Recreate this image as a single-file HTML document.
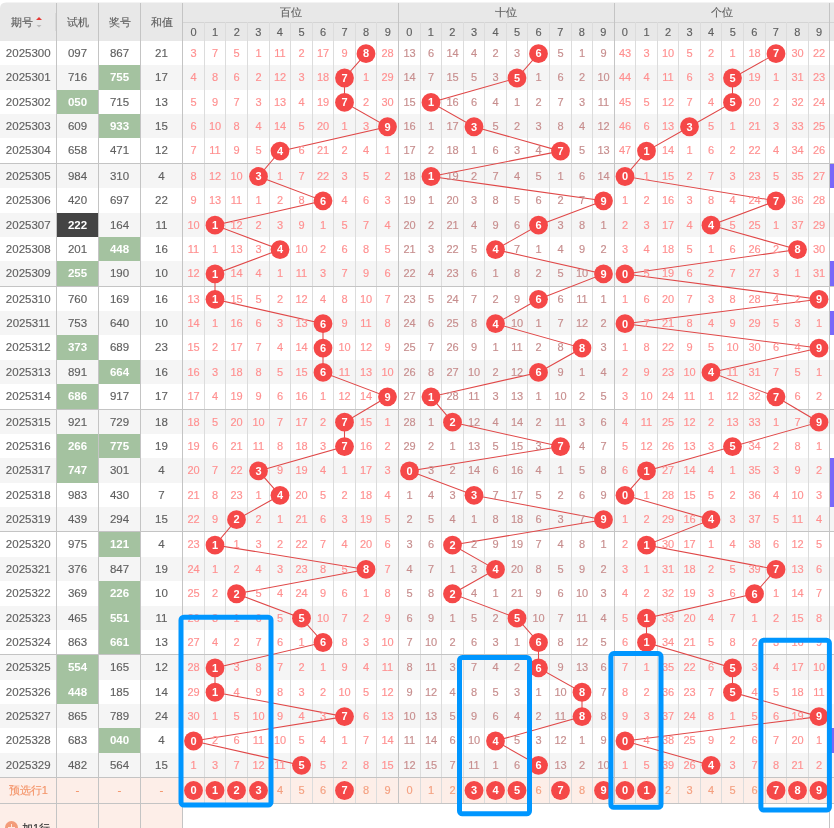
<!DOCTYPE html><html><head><meta charset="utf-8"><style>
html,body{margin:0;padding:0;background:#fff;width:834px;height:828px;overflow:hidden;}
body{position:relative;font-family:"Liberation Sans",sans-serif;}
.t{position:absolute;text-align:center;white-space:nowrap;}
#tx{position:absolute;left:0;top:0;width:834px;height:828px;will-change:transform;}
#tx .t{-webkit-text-stroke:0.15px currentColor;}
#tx .s{-webkit-text-stroke:0.25px currentColor;}
#tx .b{-webkit-text-stroke:0px;}
</style></head><body>
<svg width="834" height="828" style="position:absolute;left:0;top:0">
<path d="M0,8.5 Q0,2.5 6,2.5 L834,2.5 L834,41 L0,41 Z" fill="#e8e8e8"/>
<rect x="0" y="65" width="834" height="25" fill="#f5f5f5"/>
<rect x="0" y="114" width="834" height="24" fill="#f5f5f5"/>
<rect x="0" y="164" width="834" height="24" fill="#f5f5f5"/>
<rect x="0" y="213" width="834" height="24" fill="#f5f5f5"/>
<rect x="0" y="261" width="834" height="26" fill="#f5f5f5"/>
<rect x="0" y="311" width="834" height="24" fill="#f5f5f5"/>
<rect x="0" y="360" width="834" height="24" fill="#f5f5f5"/>
<rect x="0" y="410" width="834" height="24" fill="#f5f5f5"/>
<rect x="0" y="458" width="834" height="25" fill="#f5f5f5"/>
<rect x="0" y="507" width="834" height="25" fill="#f5f5f5"/>
<rect x="0" y="557" width="834" height="24" fill="#f5f5f5"/>
<rect x="0" y="606" width="834" height="24" fill="#f5f5f5"/>
<rect x="0" y="655" width="834" height="25" fill="#f5f5f5"/>
<rect x="0" y="704" width="834" height="24" fill="#f5f5f5"/>
<rect x="0" y="753" width="834" height="25" fill="#f5f5f5"/>
<rect x="0" y="778" width="834" height="25" fill="#fdeee8"/>
<rect x="0" y="803" width="182" height="25" fill="#fdeee8"/>
<rect x="99" y="65" width="41" height="25" fill="#a4c2a0"/>
<rect x="57" y="90" width="41" height="24" fill="#a4c2a0"/>
<rect x="99" y="114" width="41" height="24" fill="#a4c2a0"/>
<rect x="57" y="213" width="41" height="24" fill="#444444"/>
<rect x="99" y="237" width="41" height="24" fill="#a4c2a0"/>
<rect x="57" y="261" width="41" height="26" fill="#a4c2a0"/>
<rect x="57" y="335" width="41" height="25" fill="#a4c2a0"/>
<rect x="99" y="360" width="41" height="24" fill="#a4c2a0"/>
<rect x="57" y="384" width="41" height="26" fill="#a4c2a0"/>
<rect x="57" y="434" width="41" height="24" fill="#a4c2a0"/>
<rect x="99" y="434" width="41" height="24" fill="#a4c2a0"/>
<rect x="57" y="458" width="41" height="25" fill="#a4c2a0"/>
<rect x="99" y="532" width="41" height="25" fill="#a4c2a0"/>
<rect x="99" y="581" width="41" height="25" fill="#a4c2a0"/>
<rect x="99" y="606" width="41" height="24" fill="#a4c2a0"/>
<rect x="99" y="630" width="41" height="25" fill="#a4c2a0"/>
<rect x="57" y="655" width="41" height="25" fill="#a4c2a0"/>
<rect x="57" y="680" width="41" height="24" fill="#a4c2a0"/>
<rect x="99" y="728" width="41" height="25" fill="#a4c2a0"/>
<rect x="830" y="164" width="4" height="24" fill="#7868fa"/>
<rect x="830" y="261" width="4" height="26" fill="#7868fa"/>
<rect x="830" y="311" width="4" height="24" fill="#7868fa"/>
<rect x="830" y="458" width="4" height="25" fill="#7868fa"/>
<rect x="830" y="483" width="4" height="24" fill="#7868fa"/>
<rect x="830" y="728" width="4" height="25" fill="#7868fa"/>
<rect x="182" y="22" width="652" height="1" fill="#d4d4d4"/>
<rect x="55" y="13" width="1" height="18" fill="#dadada"/>
<rect x="204" y="22" width="1" height="781" fill="#dcdcdc"/>
<rect x="225" y="22" width="1" height="781" fill="#dcdcdc"/>
<rect x="247" y="22" width="1" height="781" fill="#dcdcdc"/>
<rect x="269" y="22" width="1" height="781" fill="#dcdcdc"/>
<rect x="290" y="22" width="1" height="781" fill="#dcdcdc"/>
<rect x="312" y="22" width="1" height="781" fill="#dcdcdc"/>
<rect x="333" y="22" width="1" height="781" fill="#dcdcdc"/>
<rect x="355" y="22" width="1" height="781" fill="#dcdcdc"/>
<rect x="376" y="22" width="1" height="781" fill="#dcdcdc"/>
<rect x="398" y="3" width="1" height="800" fill="#c4c4c4"/>
<rect x="420" y="22" width="1" height="781" fill="#dcdcdc"/>
<rect x="441" y="22" width="1" height="781" fill="#dcdcdc"/>
<rect x="463" y="22" width="1" height="781" fill="#dcdcdc"/>
<rect x="484" y="22" width="1" height="781" fill="#dcdcdc"/>
<rect x="506" y="22" width="1" height="781" fill="#dcdcdc"/>
<rect x="527" y="22" width="1" height="781" fill="#dcdcdc"/>
<rect x="549" y="22" width="1" height="781" fill="#dcdcdc"/>
<rect x="571" y="22" width="1" height="781" fill="#dcdcdc"/>
<rect x="592" y="22" width="1" height="781" fill="#dcdcdc"/>
<rect x="614" y="3" width="1" height="800" fill="#c4c4c4"/>
<rect x="635" y="22" width="1" height="781" fill="#dcdcdc"/>
<rect x="657" y="22" width="1" height="781" fill="#dcdcdc"/>
<rect x="678" y="22" width="1" height="781" fill="#dcdcdc"/>
<rect x="700" y="22" width="1" height="781" fill="#dcdcdc"/>
<rect x="721" y="22" width="1" height="781" fill="#dcdcdc"/>
<rect x="743" y="22" width="1" height="781" fill="#dcdcdc"/>
<rect x="765" y="22" width="1" height="781" fill="#dcdcdc"/>
<rect x="786" y="22" width="1" height="781" fill="#dcdcdc"/>
<rect x="808" y="22" width="1" height="781" fill="#dcdcdc"/>
<rect x="829" y="3" width="1" height="800" fill="#c4c4c4"/>
<rect x="56" y="3" width="1" height="825" fill="#c4c4c4"/>
<rect x="98" y="3" width="1" height="825" fill="#c4c4c4"/>
<rect x="140" y="3" width="1" height="825" fill="#c4c4c4"/>
<rect x="182" y="3" width="1" height="825" fill="#c4c4c4"/>
<rect x="0" y="163" width="834" height="1" fill="#c4c4c4"/>
<rect x="0" y="286" width="834" height="1" fill="#c4c4c4"/>
<rect x="0" y="409" width="834" height="1" fill="#c4c4c4"/>
<rect x="0" y="531" width="834" height="1" fill="#c4c4c4"/>
<rect x="0" y="654" width="834" height="1" fill="#c4c4c4"/>
<rect x="0" y="777" width="834" height="1" fill="#c4c4c4"/>
<rect x="0" y="803" width="834" height="1" fill="#c4c4c4"/>
<rect x="829" y="803" width="1" height="25" fill="#c4c4c4"/>
<polyline points="366.00,53.64 344.50,78.01 344.50,102.38 387.50,126.75 280.00,151.12 258.50,176.49 323.00,200.85 215.00,225.22 280.00,249.59 215.00,273.97 215.00,299.34 323.00,323.70 323.00,348.07 323.00,372.44 387.50,396.81 344.50,422.19 344.50,446.56 258.50,470.93 280.00,495.30 236.50,519.67 215.00,545.04 366.00,569.40 236.50,593.77 301.50,618.14 323.00,642.51 215.00,667.88 215.00,692.25 344.50,716.62 193.50,741.00 301.50,765.37" fill="none" stroke="#e04848" stroke-width="1.05"/>
<polyline points="538.50,53.64 517.00,78.01 431.00,102.38 474.00,126.75 560.50,151.12 431.00,176.49 603.50,200.85 538.50,225.22 495.50,249.59 603.50,273.97 538.50,299.34 495.50,323.70 582.00,348.07 538.50,372.44 431.00,396.81 452.50,422.19 560.50,446.56 409.50,470.93 474.00,495.30 603.50,519.67 452.50,545.04 495.50,569.40 452.50,593.77 517.00,618.14 538.50,642.51 538.50,667.88 582.00,692.25 582.00,716.62 495.50,741.00 538.50,765.37" fill="none" stroke="#e04848" stroke-width="1.05"/>
<polyline points="776.00,53.64 732.50,78.01 732.50,102.38 689.50,126.75 646.50,151.12 625.00,176.49 776.00,200.85 711.00,225.22 797.50,249.59 625.00,273.97 819.00,299.34 625.00,323.70 819.00,348.07 711.00,372.44 776.00,396.81 819.00,422.19 732.50,446.56 646.50,470.93 625.00,495.30 711.00,519.67 646.50,545.04 776.00,569.40 754.50,593.77 646.50,618.14 646.50,642.51 732.50,667.88 732.50,692.25 819.00,716.62 625.00,741.00 711.00,765.37" fill="none" stroke="#e04848" stroke-width="1.05"/>
<circle cx="366.00" cy="53.64" r="9.4" fill="#f54848"/>
<circle cx="538.50" cy="53.64" r="9.4" fill="#f54848"/>
<circle cx="776.00" cy="53.64" r="9.4" fill="#f54848"/>
<circle cx="344.50" cy="78.01" r="9.4" fill="#f54848"/>
<circle cx="517.00" cy="78.01" r="9.4" fill="#f54848"/>
<circle cx="732.50" cy="78.01" r="9.4" fill="#f54848"/>
<circle cx="344.50" cy="102.38" r="9.4" fill="#f54848"/>
<circle cx="431.00" cy="102.38" r="9.4" fill="#f54848"/>
<circle cx="732.50" cy="102.38" r="9.4" fill="#f54848"/>
<circle cx="387.50" cy="126.75" r="9.4" fill="#f54848"/>
<circle cx="474.00" cy="126.75" r="9.4" fill="#f54848"/>
<circle cx="689.50" cy="126.75" r="9.4" fill="#f54848"/>
<circle cx="280.00" cy="151.12" r="9.4" fill="#f54848"/>
<circle cx="560.50" cy="151.12" r="9.4" fill="#f54848"/>
<circle cx="646.50" cy="151.12" r="9.4" fill="#f54848"/>
<circle cx="258.50" cy="176.49" r="9.4" fill="#f54848"/>
<circle cx="431.00" cy="176.49" r="9.4" fill="#f54848"/>
<circle cx="625.00" cy="176.49" r="9.4" fill="#f54848"/>
<circle cx="323.00" cy="200.85" r="9.4" fill="#f54848"/>
<circle cx="603.50" cy="200.85" r="9.4" fill="#f54848"/>
<circle cx="776.00" cy="200.85" r="9.4" fill="#f54848"/>
<circle cx="215.00" cy="225.22" r="9.4" fill="#f54848"/>
<circle cx="538.50" cy="225.22" r="9.4" fill="#f54848"/>
<circle cx="711.00" cy="225.22" r="9.4" fill="#f54848"/>
<circle cx="280.00" cy="249.59" r="9.4" fill="#f54848"/>
<circle cx="495.50" cy="249.59" r="9.4" fill="#f54848"/>
<circle cx="797.50" cy="249.59" r="9.4" fill="#f54848"/>
<circle cx="215.00" cy="273.97" r="9.4" fill="#f54848"/>
<circle cx="603.50" cy="273.97" r="9.4" fill="#f54848"/>
<circle cx="625.00" cy="273.97" r="9.4" fill="#f54848"/>
<circle cx="215.00" cy="299.34" r="9.4" fill="#f54848"/>
<circle cx="538.50" cy="299.34" r="9.4" fill="#f54848"/>
<circle cx="819.00" cy="299.34" r="9.4" fill="#f54848"/>
<circle cx="323.00" cy="323.70" r="9.4" fill="#f54848"/>
<circle cx="495.50" cy="323.70" r="9.4" fill="#f54848"/>
<circle cx="625.00" cy="323.70" r="9.4" fill="#f54848"/>
<circle cx="323.00" cy="348.07" r="9.4" fill="#f54848"/>
<circle cx="582.00" cy="348.07" r="9.4" fill="#f54848"/>
<circle cx="819.00" cy="348.07" r="9.4" fill="#f54848"/>
<circle cx="323.00" cy="372.44" r="9.4" fill="#f54848"/>
<circle cx="538.50" cy="372.44" r="9.4" fill="#f54848"/>
<circle cx="711.00" cy="372.44" r="9.4" fill="#f54848"/>
<circle cx="387.50" cy="396.81" r="9.4" fill="#f54848"/>
<circle cx="431.00" cy="396.81" r="9.4" fill="#f54848"/>
<circle cx="776.00" cy="396.81" r="9.4" fill="#f54848"/>
<circle cx="344.50" cy="422.19" r="9.4" fill="#f54848"/>
<circle cx="452.50" cy="422.19" r="9.4" fill="#f54848"/>
<circle cx="819.00" cy="422.19" r="9.4" fill="#f54848"/>
<circle cx="344.50" cy="446.56" r="9.4" fill="#f54848"/>
<circle cx="560.50" cy="446.56" r="9.4" fill="#f54848"/>
<circle cx="732.50" cy="446.56" r="9.4" fill="#f54848"/>
<circle cx="258.50" cy="470.93" r="9.4" fill="#f54848"/>
<circle cx="409.50" cy="470.93" r="9.4" fill="#f54848"/>
<circle cx="646.50" cy="470.93" r="9.4" fill="#f54848"/>
<circle cx="280.00" cy="495.30" r="9.4" fill="#f54848"/>
<circle cx="474.00" cy="495.30" r="9.4" fill="#f54848"/>
<circle cx="625.00" cy="495.30" r="9.4" fill="#f54848"/>
<circle cx="236.50" cy="519.67" r="9.4" fill="#f54848"/>
<circle cx="603.50" cy="519.67" r="9.4" fill="#f54848"/>
<circle cx="711.00" cy="519.67" r="9.4" fill="#f54848"/>
<circle cx="215.00" cy="545.04" r="9.4" fill="#f54848"/>
<circle cx="452.50" cy="545.04" r="9.4" fill="#f54848"/>
<circle cx="646.50" cy="545.04" r="9.4" fill="#f54848"/>
<circle cx="366.00" cy="569.40" r="9.4" fill="#f54848"/>
<circle cx="495.50" cy="569.40" r="9.4" fill="#f54848"/>
<circle cx="776.00" cy="569.40" r="9.4" fill="#f54848"/>
<circle cx="236.50" cy="593.77" r="9.4" fill="#f54848"/>
<circle cx="452.50" cy="593.77" r="9.4" fill="#f54848"/>
<circle cx="754.50" cy="593.77" r="9.4" fill="#f54848"/>
<circle cx="301.50" cy="618.14" r="9.4" fill="#f54848"/>
<circle cx="517.00" cy="618.14" r="9.4" fill="#f54848"/>
<circle cx="646.50" cy="618.14" r="9.4" fill="#f54848"/>
<circle cx="323.00" cy="642.51" r="9.4" fill="#f54848"/>
<circle cx="538.50" cy="642.51" r="9.4" fill="#f54848"/>
<circle cx="646.50" cy="642.51" r="9.4" fill="#f54848"/>
<circle cx="215.00" cy="667.88" r="9.4" fill="#f54848"/>
<circle cx="538.50" cy="667.88" r="9.4" fill="#f54848"/>
<circle cx="732.50" cy="667.88" r="9.4" fill="#f54848"/>
<circle cx="215.00" cy="692.25" r="9.4" fill="#f54848"/>
<circle cx="582.00" cy="692.25" r="9.4" fill="#f54848"/>
<circle cx="732.50" cy="692.25" r="9.4" fill="#f54848"/>
<circle cx="344.50" cy="716.62" r="9.4" fill="#f54848"/>
<circle cx="582.00" cy="716.62" r="9.4" fill="#f54848"/>
<circle cx="819.00" cy="716.62" r="9.4" fill="#f54848"/>
<circle cx="193.50" cy="741.00" r="9.4" fill="#f54848"/>
<circle cx="495.50" cy="741.00" r="9.4" fill="#f54848"/>
<circle cx="625.00" cy="741.00" r="9.4" fill="#f54848"/>
<circle cx="301.50" cy="765.37" r="9.4" fill="#f54848"/>
<circle cx="538.50" cy="765.37" r="9.4" fill="#f54848"/>
<circle cx="711.00" cy="765.37" r="9.4" fill="#f54848"/>
<circle cx="193.50" cy="790.50" r="9.4" fill="#f54848"/>
<circle cx="215.00" cy="790.50" r="9.4" fill="#f54848"/>
<circle cx="236.50" cy="790.50" r="9.4" fill="#f54848"/>
<circle cx="258.50" cy="790.50" r="9.4" fill="#f54848"/>
<circle cx="344.50" cy="790.50" r="9.4" fill="#f54848"/>
<circle cx="474.00" cy="790.50" r="9.4" fill="#f54848"/>
<circle cx="495.50" cy="790.50" r="9.4" fill="#f54848"/>
<circle cx="517.00" cy="790.50" r="9.4" fill="#f54848"/>
<circle cx="560.50" cy="790.50" r="9.4" fill="#f54848"/>
<circle cx="603.50" cy="790.50" r="9.4" fill="#f54848"/>
<circle cx="625.00" cy="790.50" r="9.4" fill="#f54848"/>
<circle cx="646.50" cy="790.50" r="9.4" fill="#f54848"/>
<circle cx="776.00" cy="790.50" r="9.4" fill="#f54848"/>
<circle cx="797.50" cy="790.50" r="9.4" fill="#f54848"/>
<circle cx="819.00" cy="790.50" r="9.4" fill="#f54848"/>
</svg>
<div id="tx">
<div class="t" style="left:11.00px;top:2.50px;width:24.00px;height:38.50px;line-height:38.50px;font-size:11px;color:#606060;font-weight:normal;text-align:left;">期号</div>
<div class="t" style="left:56.50px;top:2.50px;width:42.00px;height:38.50px;line-height:38.50px;font-size:11px;color:#606060;font-weight:normal;">试机</div>
<div class="t" style="left:98.50px;top:2.50px;width:42.00px;height:38.50px;line-height:38.50px;font-size:11px;color:#606060;font-weight:normal;">奖号</div>
<div class="t" style="left:140.50px;top:2.50px;width:42.00px;height:38.50px;line-height:38.50px;font-size:11px;color:#606060;font-weight:normal;">和值</div>
<div class="t" style="left:182.83px;top:2.50px;width:215.65px;height:19.50px;line-height:19.50px;font-size:11px;color:#606060;font-weight:normal;">百位</div>
<div class="t" style="left:182.83px;top:23.00px;width:21.57px;height:19.00px;line-height:19.00px;font-size:11px;color:#606060;font-weight:normal;">0</div>
<div class="t" style="left:204.40px;top:23.00px;width:21.57px;height:19.00px;line-height:19.00px;font-size:11px;color:#606060;font-weight:normal;">1</div>
<div class="t" style="left:225.96px;top:23.00px;width:21.57px;height:19.00px;line-height:19.00px;font-size:11px;color:#606060;font-weight:normal;">2</div>
<div class="t" style="left:247.53px;top:23.00px;width:21.57px;height:19.00px;line-height:19.00px;font-size:11px;color:#606060;font-weight:normal;">3</div>
<div class="t" style="left:269.09px;top:23.00px;width:21.57px;height:19.00px;line-height:19.00px;font-size:11px;color:#606060;font-weight:normal;">4</div>
<div class="t" style="left:290.66px;top:23.00px;width:21.57px;height:19.00px;line-height:19.00px;font-size:11px;color:#606060;font-weight:normal;">5</div>
<div class="t" style="left:312.22px;top:23.00px;width:21.57px;height:19.00px;line-height:19.00px;font-size:11px;color:#606060;font-weight:normal;">6</div>
<div class="t" style="left:333.79px;top:23.00px;width:21.57px;height:19.00px;line-height:19.00px;font-size:11px;color:#606060;font-weight:normal;">7</div>
<div class="t" style="left:355.35px;top:23.00px;width:21.57px;height:19.00px;line-height:19.00px;font-size:11px;color:#606060;font-weight:normal;">8</div>
<div class="t" style="left:376.92px;top:23.00px;width:21.57px;height:19.00px;line-height:19.00px;font-size:11px;color:#606060;font-weight:normal;">9</div>
<div class="t" style="left:398.48px;top:2.50px;width:215.65px;height:19.50px;line-height:19.50px;font-size:11px;color:#606060;font-weight:normal;">十位</div>
<div class="t" style="left:398.48px;top:23.00px;width:21.57px;height:19.00px;line-height:19.00px;font-size:11px;color:#606060;font-weight:normal;">0</div>
<div class="t" style="left:420.05px;top:23.00px;width:21.57px;height:19.00px;line-height:19.00px;font-size:11px;color:#606060;font-weight:normal;">1</div>
<div class="t" style="left:441.61px;top:23.00px;width:21.57px;height:19.00px;line-height:19.00px;font-size:11px;color:#606060;font-weight:normal;">2</div>
<div class="t" style="left:463.18px;top:23.00px;width:21.57px;height:19.00px;line-height:19.00px;font-size:11px;color:#606060;font-weight:normal;">3</div>
<div class="t" style="left:484.74px;top:23.00px;width:21.57px;height:19.00px;line-height:19.00px;font-size:11px;color:#606060;font-weight:normal;">4</div>
<div class="t" style="left:506.31px;top:23.00px;width:21.57px;height:19.00px;line-height:19.00px;font-size:11px;color:#606060;font-weight:normal;">5</div>
<div class="t" style="left:527.87px;top:23.00px;width:21.57px;height:19.00px;line-height:19.00px;font-size:11px;color:#606060;font-weight:normal;">6</div>
<div class="t" style="left:549.44px;top:23.00px;width:21.57px;height:19.00px;line-height:19.00px;font-size:11px;color:#606060;font-weight:normal;">7</div>
<div class="t" style="left:571.00px;top:23.00px;width:21.57px;height:19.00px;line-height:19.00px;font-size:11px;color:#606060;font-weight:normal;">8</div>
<div class="t" style="left:592.57px;top:23.00px;width:21.57px;height:19.00px;line-height:19.00px;font-size:11px;color:#606060;font-weight:normal;">9</div>
<div class="t" style="left:614.13px;top:2.50px;width:215.65px;height:19.50px;line-height:19.50px;font-size:11px;color:#606060;font-weight:normal;">个位</div>
<div class="t" style="left:614.13px;top:23.00px;width:21.57px;height:19.00px;line-height:19.00px;font-size:11px;color:#606060;font-weight:normal;">0</div>
<div class="t" style="left:635.70px;top:23.00px;width:21.57px;height:19.00px;line-height:19.00px;font-size:11px;color:#606060;font-weight:normal;">1</div>
<div class="t" style="left:657.26px;top:23.00px;width:21.57px;height:19.00px;line-height:19.00px;font-size:11px;color:#606060;font-weight:normal;">2</div>
<div class="t" style="left:678.83px;top:23.00px;width:21.57px;height:19.00px;line-height:19.00px;font-size:11px;color:#606060;font-weight:normal;">3</div>
<div class="t" style="left:700.39px;top:23.00px;width:21.57px;height:19.00px;line-height:19.00px;font-size:11px;color:#606060;font-weight:normal;">4</div>
<div class="t" style="left:721.96px;top:23.00px;width:21.57px;height:19.00px;line-height:19.00px;font-size:11px;color:#606060;font-weight:normal;">5</div>
<div class="t" style="left:743.52px;top:23.00px;width:21.57px;height:19.00px;line-height:19.00px;font-size:11px;color:#606060;font-weight:normal;">6</div>
<div class="t" style="left:765.09px;top:23.00px;width:21.57px;height:19.00px;line-height:19.00px;font-size:11px;color:#606060;font-weight:normal;">7</div>
<div class="t" style="left:786.65px;top:23.00px;width:21.57px;height:19.00px;line-height:19.00px;font-size:11px;color:#606060;font-weight:normal;">8</div>
<div class="t" style="left:808.22px;top:23.00px;width:21.57px;height:19.00px;line-height:19.00px;font-size:11px;color:#606060;font-weight:normal;">9</div>
<svg width="10" height="14" style="position:absolute;left:34.5px;top:16px"><path d="M1,4 L4,1 L7,4 Z" fill="#e53935"/><path d="M1.5,9 L4,11.5 L6.5,9 Z" fill="#bbb"/></svg>
<div class="t" style="left:0.00px;top:41.00px;width:56.50px;height:24.37px;line-height:24.37px;font-size:11.5px;color:#606060;font-weight:normal;">2025300</div>
<div class="t" style="left:56.50px;top:41.00px;width:42.00px;height:24.37px;line-height:24.37px;font-size:11.5px;color:#606060;font-weight:normal;">097</div>
<div class="t" style="left:98.50px;top:41.00px;width:42.00px;height:24.37px;line-height:24.37px;font-size:11.5px;color:#606060;font-weight:normal;">867</div>
<div class="t" style="left:140.50px;top:41.00px;width:42.00px;height:24.37px;line-height:24.37px;font-size:11.5px;color:#606060;font-weight:normal;">21</div>
<div class="t" style="left:183.00px;top:41.00px;width:21.00px;height:24.37px;line-height:24.37px;font-size:11px;color:#ff9090;font-weight:normal;">3</div>
<div class="t" style="left:205.00px;top:41.00px;width:20.00px;height:24.37px;line-height:24.37px;font-size:11px;color:#ff9090;font-weight:normal;">7</div>
<div class="t" style="left:226.00px;top:41.00px;width:21.00px;height:24.37px;line-height:24.37px;font-size:11px;color:#ff9090;font-weight:normal;">5</div>
<div class="t" style="left:248.00px;top:41.00px;width:21.00px;height:24.37px;line-height:24.37px;font-size:11px;color:#ff9090;font-weight:normal;">1</div>
<div class="t" style="left:270.00px;top:41.00px;width:20.00px;height:24.37px;line-height:24.37px;font-size:11px;color:#ff9090;font-weight:normal;">11</div>
<div class="t" style="left:291.00px;top:41.00px;width:21.00px;height:24.37px;line-height:24.37px;font-size:11px;color:#ff9090;font-weight:normal;">2</div>
<div class="t" style="left:313.00px;top:41.00px;width:20.00px;height:24.37px;line-height:24.37px;font-size:11px;color:#ff9090;font-weight:normal;">17</div>
<div class="t" style="left:334.00px;top:41.00px;width:21.00px;height:24.37px;line-height:24.37px;font-size:11px;color:#ff9090;font-weight:normal;">9</div>
<div class="t b" style="left:356.00px;top:41.45px;width:20.00px;height:24.37px;line-height:24.37px;font-size:11px;color:#fff;font-weight:bold;">8</div>
<div class="t" style="left:377.00px;top:41.00px;width:21.00px;height:24.37px;line-height:24.37px;font-size:11px;color:#ff9090;font-weight:normal;">28</div>
<div class="t" style="left:399.00px;top:41.00px;width:21.00px;height:24.37px;line-height:24.37px;font-size:11px;color:#c78e8e;font-weight:normal;">13</div>
<div class="t" style="left:421.00px;top:41.00px;width:20.00px;height:24.37px;line-height:24.37px;font-size:11px;color:#c78e8e;font-weight:normal;">6</div>
<div class="t" style="left:442.00px;top:41.00px;width:21.00px;height:24.37px;line-height:24.37px;font-size:11px;color:#c78e8e;font-weight:normal;">14</div>
<div class="t" style="left:464.00px;top:41.00px;width:20.00px;height:24.37px;line-height:24.37px;font-size:11px;color:#c78e8e;font-weight:normal;">4</div>
<div class="t" style="left:485.00px;top:41.00px;width:21.00px;height:24.37px;line-height:24.37px;font-size:11px;color:#c78e8e;font-weight:normal;">2</div>
<div class="t" style="left:507.00px;top:41.00px;width:20.00px;height:24.37px;line-height:24.37px;font-size:11px;color:#c78e8e;font-weight:normal;">3</div>
<div class="t b" style="left:528.00px;top:41.45px;width:21.00px;height:24.37px;line-height:24.37px;font-size:11px;color:#fff;font-weight:bold;">6</div>
<div class="t" style="left:550.00px;top:41.00px;width:21.00px;height:24.37px;line-height:24.37px;font-size:11px;color:#c78e8e;font-weight:normal;">5</div>
<div class="t" style="left:572.00px;top:41.00px;width:20.00px;height:24.37px;line-height:24.37px;font-size:11px;color:#c78e8e;font-weight:normal;">1</div>
<div class="t" style="left:593.00px;top:41.00px;width:21.00px;height:24.37px;line-height:24.37px;font-size:11px;color:#c78e8e;font-weight:normal;">9</div>
<div class="t" style="left:615.00px;top:41.00px;width:20.00px;height:24.37px;line-height:24.37px;font-size:11px;color:#ff9090;font-weight:normal;">43</div>
<div class="t" style="left:636.00px;top:41.00px;width:21.00px;height:24.37px;line-height:24.37px;font-size:11px;color:#ff9090;font-weight:normal;">3</div>
<div class="t" style="left:658.00px;top:41.00px;width:20.00px;height:24.37px;line-height:24.37px;font-size:11px;color:#ff9090;font-weight:normal;">10</div>
<div class="t" style="left:679.00px;top:41.00px;width:21.00px;height:24.37px;line-height:24.37px;font-size:11px;color:#ff9090;font-weight:normal;">5</div>
<div class="t" style="left:701.00px;top:41.00px;width:20.00px;height:24.37px;line-height:24.37px;font-size:11px;color:#ff9090;font-weight:normal;">2</div>
<div class="t" style="left:722.00px;top:41.00px;width:21.00px;height:24.37px;line-height:24.37px;font-size:11px;color:#ff9090;font-weight:normal;">1</div>
<div class="t" style="left:744.00px;top:41.00px;width:21.00px;height:24.37px;line-height:24.37px;font-size:11px;color:#ff9090;font-weight:normal;">18</div>
<div class="t b" style="left:766.00px;top:41.45px;width:20.00px;height:24.37px;line-height:24.37px;font-size:11px;color:#fff;font-weight:bold;">7</div>
<div class="t" style="left:787.00px;top:41.00px;width:21.00px;height:24.37px;line-height:24.37px;font-size:11px;color:#ff9090;font-weight:normal;">30</div>
<div class="t" style="left:809.00px;top:41.00px;width:20.00px;height:24.37px;line-height:24.37px;font-size:11px;color:#ff9090;font-weight:normal;">22</div>
<div class="t" style="left:0.00px;top:65.37px;width:56.50px;height:24.37px;line-height:24.37px;font-size:11.5px;color:#606060;font-weight:normal;">2025301</div>
<div class="t" style="left:56.50px;top:65.37px;width:42.00px;height:24.37px;line-height:24.37px;font-size:11.5px;color:#606060;font-weight:normal;">716</div>
<div class="t b" style="left:98.50px;top:65.37px;width:42.00px;height:24.37px;line-height:24.37px;font-size:11.5px;color:#fff;font-weight:bold;">755</div>
<div class="t" style="left:140.50px;top:65.37px;width:42.00px;height:24.37px;line-height:24.37px;font-size:11.5px;color:#606060;font-weight:normal;">17</div>
<div class="t" style="left:183.00px;top:65.37px;width:21.00px;height:24.37px;line-height:24.37px;font-size:11px;color:#ff9090;font-weight:normal;">4</div>
<div class="t" style="left:205.00px;top:65.37px;width:20.00px;height:24.37px;line-height:24.37px;font-size:11px;color:#ff9090;font-weight:normal;">8</div>
<div class="t" style="left:226.00px;top:65.37px;width:21.00px;height:24.37px;line-height:24.37px;font-size:11px;color:#ff9090;font-weight:normal;">6</div>
<div class="t" style="left:248.00px;top:65.37px;width:21.00px;height:24.37px;line-height:24.37px;font-size:11px;color:#ff9090;font-weight:normal;">2</div>
<div class="t" style="left:270.00px;top:65.37px;width:20.00px;height:24.37px;line-height:24.37px;font-size:11px;color:#ff9090;font-weight:normal;">12</div>
<div class="t" style="left:291.00px;top:65.37px;width:21.00px;height:24.37px;line-height:24.37px;font-size:11px;color:#ff9090;font-weight:normal;">3</div>
<div class="t" style="left:313.00px;top:65.37px;width:20.00px;height:24.37px;line-height:24.37px;font-size:11px;color:#ff9090;font-weight:normal;">18</div>
<div class="t b" style="left:334.00px;top:65.82px;width:21.00px;height:24.37px;line-height:24.37px;font-size:11px;color:#fff;font-weight:bold;">7</div>
<div class="t" style="left:356.00px;top:65.37px;width:20.00px;height:24.37px;line-height:24.37px;font-size:11px;color:#ff9090;font-weight:normal;">1</div>
<div class="t" style="left:377.00px;top:65.37px;width:21.00px;height:24.37px;line-height:24.37px;font-size:11px;color:#ff9090;font-weight:normal;">29</div>
<div class="t" style="left:399.00px;top:65.37px;width:21.00px;height:24.37px;line-height:24.37px;font-size:11px;color:#c78e8e;font-weight:normal;">14</div>
<div class="t" style="left:421.00px;top:65.37px;width:20.00px;height:24.37px;line-height:24.37px;font-size:11px;color:#c78e8e;font-weight:normal;">7</div>
<div class="t" style="left:442.00px;top:65.37px;width:21.00px;height:24.37px;line-height:24.37px;font-size:11px;color:#c78e8e;font-weight:normal;">15</div>
<div class="t" style="left:464.00px;top:65.37px;width:20.00px;height:24.37px;line-height:24.37px;font-size:11px;color:#c78e8e;font-weight:normal;">5</div>
<div class="t" style="left:485.00px;top:65.37px;width:21.00px;height:24.37px;line-height:24.37px;font-size:11px;color:#c78e8e;font-weight:normal;">3</div>
<div class="t b" style="left:507.00px;top:65.82px;width:20.00px;height:24.37px;line-height:24.37px;font-size:11px;color:#fff;font-weight:bold;">5</div>
<div class="t" style="left:528.00px;top:65.37px;width:21.00px;height:24.37px;line-height:24.37px;font-size:11px;color:#c78e8e;font-weight:normal;">1</div>
<div class="t" style="left:550.00px;top:65.37px;width:21.00px;height:24.37px;line-height:24.37px;font-size:11px;color:#c78e8e;font-weight:normal;">6</div>
<div class="t" style="left:572.00px;top:65.37px;width:20.00px;height:24.37px;line-height:24.37px;font-size:11px;color:#c78e8e;font-weight:normal;">2</div>
<div class="t" style="left:593.00px;top:65.37px;width:21.00px;height:24.37px;line-height:24.37px;font-size:11px;color:#c78e8e;font-weight:normal;">10</div>
<div class="t" style="left:615.00px;top:65.37px;width:20.00px;height:24.37px;line-height:24.37px;font-size:11px;color:#ff9090;font-weight:normal;">44</div>
<div class="t" style="left:636.00px;top:65.37px;width:21.00px;height:24.37px;line-height:24.37px;font-size:11px;color:#ff9090;font-weight:normal;">4</div>
<div class="t" style="left:658.00px;top:65.37px;width:20.00px;height:24.37px;line-height:24.37px;font-size:11px;color:#ff9090;font-weight:normal;">11</div>
<div class="t" style="left:679.00px;top:65.37px;width:21.00px;height:24.37px;line-height:24.37px;font-size:11px;color:#ff9090;font-weight:normal;">6</div>
<div class="t" style="left:701.00px;top:65.37px;width:20.00px;height:24.37px;line-height:24.37px;font-size:11px;color:#ff9090;font-weight:normal;">3</div>
<div class="t b" style="left:722.00px;top:65.82px;width:21.00px;height:24.37px;line-height:24.37px;font-size:11px;color:#fff;font-weight:bold;">5</div>
<div class="t" style="left:744.00px;top:65.37px;width:21.00px;height:24.37px;line-height:24.37px;font-size:11px;color:#ff9090;font-weight:normal;">19</div>
<div class="t" style="left:766.00px;top:65.37px;width:20.00px;height:24.37px;line-height:24.37px;font-size:11px;color:#ff9090;font-weight:normal;">1</div>
<div class="t" style="left:787.00px;top:65.37px;width:21.00px;height:24.37px;line-height:24.37px;font-size:11px;color:#ff9090;font-weight:normal;">31</div>
<div class="t" style="left:809.00px;top:65.37px;width:20.00px;height:24.37px;line-height:24.37px;font-size:11px;color:#ff9090;font-weight:normal;">23</div>
<div class="t" style="left:0.00px;top:89.74px;width:56.50px;height:24.37px;line-height:24.37px;font-size:11.5px;color:#606060;font-weight:normal;">2025302</div>
<div class="t b" style="left:56.50px;top:89.74px;width:42.00px;height:24.37px;line-height:24.37px;font-size:11.5px;color:#fff;font-weight:bold;">050</div>
<div class="t" style="left:98.50px;top:89.74px;width:42.00px;height:24.37px;line-height:24.37px;font-size:11.5px;color:#606060;font-weight:normal;">715</div>
<div class="t" style="left:140.50px;top:89.74px;width:42.00px;height:24.37px;line-height:24.37px;font-size:11.5px;color:#606060;font-weight:normal;">13</div>
<div class="t" style="left:183.00px;top:89.74px;width:21.00px;height:24.37px;line-height:24.37px;font-size:11px;color:#ff9090;font-weight:normal;">5</div>
<div class="t" style="left:205.00px;top:89.74px;width:20.00px;height:24.37px;line-height:24.37px;font-size:11px;color:#ff9090;font-weight:normal;">9</div>
<div class="t" style="left:226.00px;top:89.74px;width:21.00px;height:24.37px;line-height:24.37px;font-size:11px;color:#ff9090;font-weight:normal;">7</div>
<div class="t" style="left:248.00px;top:89.74px;width:21.00px;height:24.37px;line-height:24.37px;font-size:11px;color:#ff9090;font-weight:normal;">3</div>
<div class="t" style="left:270.00px;top:89.74px;width:20.00px;height:24.37px;line-height:24.37px;font-size:11px;color:#ff9090;font-weight:normal;">13</div>
<div class="t" style="left:291.00px;top:89.74px;width:21.00px;height:24.37px;line-height:24.37px;font-size:11px;color:#ff9090;font-weight:normal;">4</div>
<div class="t" style="left:313.00px;top:89.74px;width:20.00px;height:24.37px;line-height:24.37px;font-size:11px;color:#ff9090;font-weight:normal;">19</div>
<div class="t b" style="left:334.00px;top:90.19px;width:21.00px;height:24.37px;line-height:24.37px;font-size:11px;color:#fff;font-weight:bold;">7</div>
<div class="t" style="left:356.00px;top:89.74px;width:20.00px;height:24.37px;line-height:24.37px;font-size:11px;color:#ff9090;font-weight:normal;">2</div>
<div class="t" style="left:377.00px;top:89.74px;width:21.00px;height:24.37px;line-height:24.37px;font-size:11px;color:#ff9090;font-weight:normal;">30</div>
<div class="t" style="left:399.00px;top:89.74px;width:21.00px;height:24.37px;line-height:24.37px;font-size:11px;color:#c78e8e;font-weight:normal;">15</div>
<div class="t b" style="left:421.00px;top:90.19px;width:20.00px;height:24.37px;line-height:24.37px;font-size:11px;color:#fff;font-weight:bold;">1</div>
<div class="t" style="left:442.00px;top:89.74px;width:21.00px;height:24.37px;line-height:24.37px;font-size:11px;color:#c78e8e;font-weight:normal;">16</div>
<div class="t" style="left:464.00px;top:89.74px;width:20.00px;height:24.37px;line-height:24.37px;font-size:11px;color:#c78e8e;font-weight:normal;">6</div>
<div class="t" style="left:485.00px;top:89.74px;width:21.00px;height:24.37px;line-height:24.37px;font-size:11px;color:#c78e8e;font-weight:normal;">4</div>
<div class="t" style="left:507.00px;top:89.74px;width:20.00px;height:24.37px;line-height:24.37px;font-size:11px;color:#c78e8e;font-weight:normal;">1</div>
<div class="t" style="left:528.00px;top:89.74px;width:21.00px;height:24.37px;line-height:24.37px;font-size:11px;color:#c78e8e;font-weight:normal;">2</div>
<div class="t" style="left:550.00px;top:89.74px;width:21.00px;height:24.37px;line-height:24.37px;font-size:11px;color:#c78e8e;font-weight:normal;">7</div>
<div class="t" style="left:572.00px;top:89.74px;width:20.00px;height:24.37px;line-height:24.37px;font-size:11px;color:#c78e8e;font-weight:normal;">3</div>
<div class="t" style="left:593.00px;top:89.74px;width:21.00px;height:24.37px;line-height:24.37px;font-size:11px;color:#c78e8e;font-weight:normal;">11</div>
<div class="t" style="left:615.00px;top:89.74px;width:20.00px;height:24.37px;line-height:24.37px;font-size:11px;color:#ff9090;font-weight:normal;">45</div>
<div class="t" style="left:636.00px;top:89.74px;width:21.00px;height:24.37px;line-height:24.37px;font-size:11px;color:#ff9090;font-weight:normal;">5</div>
<div class="t" style="left:658.00px;top:89.74px;width:20.00px;height:24.37px;line-height:24.37px;font-size:11px;color:#ff9090;font-weight:normal;">12</div>
<div class="t" style="left:679.00px;top:89.74px;width:21.00px;height:24.37px;line-height:24.37px;font-size:11px;color:#ff9090;font-weight:normal;">7</div>
<div class="t" style="left:701.00px;top:89.74px;width:20.00px;height:24.37px;line-height:24.37px;font-size:11px;color:#ff9090;font-weight:normal;">4</div>
<div class="t b" style="left:722.00px;top:90.19px;width:21.00px;height:24.37px;line-height:24.37px;font-size:11px;color:#fff;font-weight:bold;">5</div>
<div class="t" style="left:744.00px;top:89.74px;width:21.00px;height:24.37px;line-height:24.37px;font-size:11px;color:#ff9090;font-weight:normal;">20</div>
<div class="t" style="left:766.00px;top:89.74px;width:20.00px;height:24.37px;line-height:24.37px;font-size:11px;color:#ff9090;font-weight:normal;">2</div>
<div class="t" style="left:787.00px;top:89.74px;width:21.00px;height:24.37px;line-height:24.37px;font-size:11px;color:#ff9090;font-weight:normal;">32</div>
<div class="t" style="left:809.00px;top:89.74px;width:20.00px;height:24.37px;line-height:24.37px;font-size:11px;color:#ff9090;font-weight:normal;">24</div>
<div class="t" style="left:0.00px;top:114.11px;width:56.50px;height:24.37px;line-height:24.37px;font-size:11.5px;color:#606060;font-weight:normal;">2025303</div>
<div class="t" style="left:56.50px;top:114.11px;width:42.00px;height:24.37px;line-height:24.37px;font-size:11.5px;color:#606060;font-weight:normal;">609</div>
<div class="t b" style="left:98.50px;top:114.11px;width:42.00px;height:24.37px;line-height:24.37px;font-size:11.5px;color:#fff;font-weight:bold;">933</div>
<div class="t" style="left:140.50px;top:114.11px;width:42.00px;height:24.37px;line-height:24.37px;font-size:11.5px;color:#606060;font-weight:normal;">15</div>
<div class="t" style="left:183.00px;top:114.11px;width:21.00px;height:24.37px;line-height:24.37px;font-size:11px;color:#ff9090;font-weight:normal;">6</div>
<div class="t" style="left:205.00px;top:114.11px;width:20.00px;height:24.37px;line-height:24.37px;font-size:11px;color:#ff9090;font-weight:normal;">10</div>
<div class="t" style="left:226.00px;top:114.11px;width:21.00px;height:24.37px;line-height:24.37px;font-size:11px;color:#ff9090;font-weight:normal;">8</div>
<div class="t" style="left:248.00px;top:114.11px;width:21.00px;height:24.37px;line-height:24.37px;font-size:11px;color:#ff9090;font-weight:normal;">4</div>
<div class="t" style="left:270.00px;top:114.11px;width:20.00px;height:24.37px;line-height:24.37px;font-size:11px;color:#ff9090;font-weight:normal;">14</div>
<div class="t" style="left:291.00px;top:114.11px;width:21.00px;height:24.37px;line-height:24.37px;font-size:11px;color:#ff9090;font-weight:normal;">5</div>
<div class="t" style="left:313.00px;top:114.11px;width:20.00px;height:24.37px;line-height:24.37px;font-size:11px;color:#ff9090;font-weight:normal;">20</div>
<div class="t" style="left:334.00px;top:114.11px;width:21.00px;height:24.37px;line-height:24.37px;font-size:11px;color:#ff9090;font-weight:normal;">1</div>
<div class="t" style="left:356.00px;top:114.11px;width:20.00px;height:24.37px;line-height:24.37px;font-size:11px;color:#ff9090;font-weight:normal;">3</div>
<div class="t b" style="left:377.00px;top:114.56px;width:21.00px;height:24.37px;line-height:24.37px;font-size:11px;color:#fff;font-weight:bold;">9</div>
<div class="t" style="left:399.00px;top:114.11px;width:21.00px;height:24.37px;line-height:24.37px;font-size:11px;color:#c78e8e;font-weight:normal;">16</div>
<div class="t" style="left:421.00px;top:114.11px;width:20.00px;height:24.37px;line-height:24.37px;font-size:11px;color:#c78e8e;font-weight:normal;">1</div>
<div class="t" style="left:442.00px;top:114.11px;width:21.00px;height:24.37px;line-height:24.37px;font-size:11px;color:#c78e8e;font-weight:normal;">17</div>
<div class="t b" style="left:464.00px;top:114.56px;width:20.00px;height:24.37px;line-height:24.37px;font-size:11px;color:#fff;font-weight:bold;">3</div>
<div class="t" style="left:485.00px;top:114.11px;width:21.00px;height:24.37px;line-height:24.37px;font-size:11px;color:#c78e8e;font-weight:normal;">5</div>
<div class="t" style="left:507.00px;top:114.11px;width:20.00px;height:24.37px;line-height:24.37px;font-size:11px;color:#c78e8e;font-weight:normal;">2</div>
<div class="t" style="left:528.00px;top:114.11px;width:21.00px;height:24.37px;line-height:24.37px;font-size:11px;color:#c78e8e;font-weight:normal;">3</div>
<div class="t" style="left:550.00px;top:114.11px;width:21.00px;height:24.37px;line-height:24.37px;font-size:11px;color:#c78e8e;font-weight:normal;">8</div>
<div class="t" style="left:572.00px;top:114.11px;width:20.00px;height:24.37px;line-height:24.37px;font-size:11px;color:#c78e8e;font-weight:normal;">4</div>
<div class="t" style="left:593.00px;top:114.11px;width:21.00px;height:24.37px;line-height:24.37px;font-size:11px;color:#c78e8e;font-weight:normal;">12</div>
<div class="t" style="left:615.00px;top:114.11px;width:20.00px;height:24.37px;line-height:24.37px;font-size:11px;color:#ff9090;font-weight:normal;">46</div>
<div class="t" style="left:636.00px;top:114.11px;width:21.00px;height:24.37px;line-height:24.37px;font-size:11px;color:#ff9090;font-weight:normal;">6</div>
<div class="t" style="left:658.00px;top:114.11px;width:20.00px;height:24.37px;line-height:24.37px;font-size:11px;color:#ff9090;font-weight:normal;">13</div>
<div class="t b" style="left:679.00px;top:114.56px;width:21.00px;height:24.37px;line-height:24.37px;font-size:11px;color:#fff;font-weight:bold;">3</div>
<div class="t" style="left:701.00px;top:114.11px;width:20.00px;height:24.37px;line-height:24.37px;font-size:11px;color:#ff9090;font-weight:normal;">5</div>
<div class="t" style="left:722.00px;top:114.11px;width:21.00px;height:24.37px;line-height:24.37px;font-size:11px;color:#ff9090;font-weight:normal;">1</div>
<div class="t" style="left:744.00px;top:114.11px;width:21.00px;height:24.37px;line-height:24.37px;font-size:11px;color:#ff9090;font-weight:normal;">21</div>
<div class="t" style="left:766.00px;top:114.11px;width:20.00px;height:24.37px;line-height:24.37px;font-size:11px;color:#ff9090;font-weight:normal;">3</div>
<div class="t" style="left:787.00px;top:114.11px;width:21.00px;height:24.37px;line-height:24.37px;font-size:11px;color:#ff9090;font-weight:normal;">33</div>
<div class="t" style="left:809.00px;top:114.11px;width:20.00px;height:24.37px;line-height:24.37px;font-size:11px;color:#ff9090;font-weight:normal;">25</div>
<div class="t" style="left:0.00px;top:138.48px;width:56.50px;height:24.37px;line-height:24.37px;font-size:11.5px;color:#606060;font-weight:normal;">2025304</div>
<div class="t" style="left:56.50px;top:138.48px;width:42.00px;height:24.37px;line-height:24.37px;font-size:11.5px;color:#606060;font-weight:normal;">658</div>
<div class="t" style="left:98.50px;top:138.48px;width:42.00px;height:24.37px;line-height:24.37px;font-size:11.5px;color:#606060;font-weight:normal;">471</div>
<div class="t" style="left:140.50px;top:138.48px;width:42.00px;height:24.37px;line-height:24.37px;font-size:11.5px;color:#606060;font-weight:normal;">12</div>
<div class="t" style="left:183.00px;top:138.48px;width:21.00px;height:24.37px;line-height:24.37px;font-size:11px;color:#ff9090;font-weight:normal;">7</div>
<div class="t" style="left:205.00px;top:138.48px;width:20.00px;height:24.37px;line-height:24.37px;font-size:11px;color:#ff9090;font-weight:normal;">11</div>
<div class="t" style="left:226.00px;top:138.48px;width:21.00px;height:24.37px;line-height:24.37px;font-size:11px;color:#ff9090;font-weight:normal;">9</div>
<div class="t" style="left:248.00px;top:138.48px;width:21.00px;height:24.37px;line-height:24.37px;font-size:11px;color:#ff9090;font-weight:normal;">5</div>
<div class="t b" style="left:270.00px;top:138.93px;width:20.00px;height:24.37px;line-height:24.37px;font-size:11px;color:#fff;font-weight:bold;">4</div>
<div class="t" style="left:291.00px;top:138.48px;width:21.00px;height:24.37px;line-height:24.37px;font-size:11px;color:#ff9090;font-weight:normal;">6</div>
<div class="t" style="left:313.00px;top:138.48px;width:20.00px;height:24.37px;line-height:24.37px;font-size:11px;color:#ff9090;font-weight:normal;">21</div>
<div class="t" style="left:334.00px;top:138.48px;width:21.00px;height:24.37px;line-height:24.37px;font-size:11px;color:#ff9090;font-weight:normal;">2</div>
<div class="t" style="left:356.00px;top:138.48px;width:20.00px;height:24.37px;line-height:24.37px;font-size:11px;color:#ff9090;font-weight:normal;">4</div>
<div class="t" style="left:377.00px;top:138.48px;width:21.00px;height:24.37px;line-height:24.37px;font-size:11px;color:#ff9090;font-weight:normal;">1</div>
<div class="t" style="left:399.00px;top:138.48px;width:21.00px;height:24.37px;line-height:24.37px;font-size:11px;color:#c78e8e;font-weight:normal;">17</div>
<div class="t" style="left:421.00px;top:138.48px;width:20.00px;height:24.37px;line-height:24.37px;font-size:11px;color:#c78e8e;font-weight:normal;">2</div>
<div class="t" style="left:442.00px;top:138.48px;width:21.00px;height:24.37px;line-height:24.37px;font-size:11px;color:#c78e8e;font-weight:normal;">18</div>
<div class="t" style="left:464.00px;top:138.48px;width:20.00px;height:24.37px;line-height:24.37px;font-size:11px;color:#c78e8e;font-weight:normal;">1</div>
<div class="t" style="left:485.00px;top:138.48px;width:21.00px;height:24.37px;line-height:24.37px;font-size:11px;color:#c78e8e;font-weight:normal;">6</div>
<div class="t" style="left:507.00px;top:138.48px;width:20.00px;height:24.37px;line-height:24.37px;font-size:11px;color:#c78e8e;font-weight:normal;">3</div>
<div class="t" style="left:528.00px;top:138.48px;width:21.00px;height:24.37px;line-height:24.37px;font-size:11px;color:#c78e8e;font-weight:normal;">4</div>
<div class="t b" style="left:550.00px;top:138.93px;width:21.00px;height:24.37px;line-height:24.37px;font-size:11px;color:#fff;font-weight:bold;">7</div>
<div class="t" style="left:572.00px;top:138.48px;width:20.00px;height:24.37px;line-height:24.37px;font-size:11px;color:#c78e8e;font-weight:normal;">5</div>
<div class="t" style="left:593.00px;top:138.48px;width:21.00px;height:24.37px;line-height:24.37px;font-size:11px;color:#c78e8e;font-weight:normal;">13</div>
<div class="t" style="left:615.00px;top:138.48px;width:20.00px;height:24.37px;line-height:24.37px;font-size:11px;color:#ff9090;font-weight:normal;">47</div>
<div class="t b" style="left:636.00px;top:138.93px;width:21.00px;height:24.37px;line-height:24.37px;font-size:11px;color:#fff;font-weight:bold;">1</div>
<div class="t" style="left:658.00px;top:138.48px;width:20.00px;height:24.37px;line-height:24.37px;font-size:11px;color:#ff9090;font-weight:normal;">14</div>
<div class="t" style="left:679.00px;top:138.48px;width:21.00px;height:24.37px;line-height:24.37px;font-size:11px;color:#ff9090;font-weight:normal;">1</div>
<div class="t" style="left:701.00px;top:138.48px;width:20.00px;height:24.37px;line-height:24.37px;font-size:11px;color:#ff9090;font-weight:normal;">6</div>
<div class="t" style="left:722.00px;top:138.48px;width:21.00px;height:24.37px;line-height:24.37px;font-size:11px;color:#ff9090;font-weight:normal;">2</div>
<div class="t" style="left:744.00px;top:138.48px;width:21.00px;height:24.37px;line-height:24.37px;font-size:11px;color:#ff9090;font-weight:normal;">22</div>
<div class="t" style="left:766.00px;top:138.48px;width:20.00px;height:24.37px;line-height:24.37px;font-size:11px;color:#ff9090;font-weight:normal;">4</div>
<div class="t" style="left:787.00px;top:138.48px;width:21.00px;height:24.37px;line-height:24.37px;font-size:11px;color:#ff9090;font-weight:normal;">34</div>
<div class="t" style="left:809.00px;top:138.48px;width:20.00px;height:24.37px;line-height:24.37px;font-size:11px;color:#ff9090;font-weight:normal;">26</div>
<div class="t" style="left:0.00px;top:163.85px;width:56.50px;height:24.37px;line-height:24.37px;font-size:11.5px;color:#606060;font-weight:normal;">2025305</div>
<div class="t" style="left:56.50px;top:163.85px;width:42.00px;height:24.37px;line-height:24.37px;font-size:11.5px;color:#606060;font-weight:normal;">984</div>
<div class="t" style="left:98.50px;top:163.85px;width:42.00px;height:24.37px;line-height:24.37px;font-size:11.5px;color:#606060;font-weight:normal;">310</div>
<div class="t" style="left:140.50px;top:163.85px;width:42.00px;height:24.37px;line-height:24.37px;font-size:11.5px;color:#606060;font-weight:normal;">4</div>
<div class="t" style="left:183.00px;top:163.85px;width:21.00px;height:24.37px;line-height:24.37px;font-size:11px;color:#ff9090;font-weight:normal;">8</div>
<div class="t" style="left:205.00px;top:163.85px;width:20.00px;height:24.37px;line-height:24.37px;font-size:11px;color:#ff9090;font-weight:normal;">12</div>
<div class="t" style="left:226.00px;top:163.85px;width:21.00px;height:24.37px;line-height:24.37px;font-size:11px;color:#ff9090;font-weight:normal;">10</div>
<div class="t b" style="left:248.00px;top:164.30px;width:21.00px;height:24.37px;line-height:24.37px;font-size:11px;color:#fff;font-weight:bold;">3</div>
<div class="t" style="left:270.00px;top:163.85px;width:20.00px;height:24.37px;line-height:24.37px;font-size:11px;color:#ff9090;font-weight:normal;">1</div>
<div class="t" style="left:291.00px;top:163.85px;width:21.00px;height:24.37px;line-height:24.37px;font-size:11px;color:#ff9090;font-weight:normal;">7</div>
<div class="t" style="left:313.00px;top:163.85px;width:20.00px;height:24.37px;line-height:24.37px;font-size:11px;color:#ff9090;font-weight:normal;">22</div>
<div class="t" style="left:334.00px;top:163.85px;width:21.00px;height:24.37px;line-height:24.37px;font-size:11px;color:#ff9090;font-weight:normal;">3</div>
<div class="t" style="left:356.00px;top:163.85px;width:20.00px;height:24.37px;line-height:24.37px;font-size:11px;color:#ff9090;font-weight:normal;">5</div>
<div class="t" style="left:377.00px;top:163.85px;width:21.00px;height:24.37px;line-height:24.37px;font-size:11px;color:#ff9090;font-weight:normal;">2</div>
<div class="t" style="left:399.00px;top:163.85px;width:21.00px;height:24.37px;line-height:24.37px;font-size:11px;color:#c78e8e;font-weight:normal;">18</div>
<div class="t b" style="left:421.00px;top:164.30px;width:20.00px;height:24.37px;line-height:24.37px;font-size:11px;color:#fff;font-weight:bold;">1</div>
<div class="t" style="left:442.00px;top:163.85px;width:21.00px;height:24.37px;line-height:24.37px;font-size:11px;color:#c78e8e;font-weight:normal;">19</div>
<div class="t" style="left:464.00px;top:163.85px;width:20.00px;height:24.37px;line-height:24.37px;font-size:11px;color:#c78e8e;font-weight:normal;">2</div>
<div class="t" style="left:485.00px;top:163.85px;width:21.00px;height:24.37px;line-height:24.37px;font-size:11px;color:#c78e8e;font-weight:normal;">7</div>
<div class="t" style="left:507.00px;top:163.85px;width:20.00px;height:24.37px;line-height:24.37px;font-size:11px;color:#c78e8e;font-weight:normal;">4</div>
<div class="t" style="left:528.00px;top:163.85px;width:21.00px;height:24.37px;line-height:24.37px;font-size:11px;color:#c78e8e;font-weight:normal;">5</div>
<div class="t" style="left:550.00px;top:163.85px;width:21.00px;height:24.37px;line-height:24.37px;font-size:11px;color:#c78e8e;font-weight:normal;">1</div>
<div class="t" style="left:572.00px;top:163.85px;width:20.00px;height:24.37px;line-height:24.37px;font-size:11px;color:#c78e8e;font-weight:normal;">6</div>
<div class="t" style="left:593.00px;top:163.85px;width:21.00px;height:24.37px;line-height:24.37px;font-size:11px;color:#c78e8e;font-weight:normal;">14</div>
<div class="t b" style="left:615.00px;top:164.30px;width:20.00px;height:24.37px;line-height:24.37px;font-size:11px;color:#fff;font-weight:bold;">0</div>
<div class="t" style="left:636.00px;top:163.85px;width:21.00px;height:24.37px;line-height:24.37px;font-size:11px;color:#ff9090;font-weight:normal;">1</div>
<div class="t" style="left:658.00px;top:163.85px;width:20.00px;height:24.37px;line-height:24.37px;font-size:11px;color:#ff9090;font-weight:normal;">15</div>
<div class="t" style="left:679.00px;top:163.85px;width:21.00px;height:24.37px;line-height:24.37px;font-size:11px;color:#ff9090;font-weight:normal;">2</div>
<div class="t" style="left:701.00px;top:163.85px;width:20.00px;height:24.37px;line-height:24.37px;font-size:11px;color:#ff9090;font-weight:normal;">7</div>
<div class="t" style="left:722.00px;top:163.85px;width:21.00px;height:24.37px;line-height:24.37px;font-size:11px;color:#ff9090;font-weight:normal;">3</div>
<div class="t" style="left:744.00px;top:163.85px;width:21.00px;height:24.37px;line-height:24.37px;font-size:11px;color:#ff9090;font-weight:normal;">23</div>
<div class="t" style="left:766.00px;top:163.85px;width:20.00px;height:24.37px;line-height:24.37px;font-size:11px;color:#ff9090;font-weight:normal;">5</div>
<div class="t" style="left:787.00px;top:163.85px;width:21.00px;height:24.37px;line-height:24.37px;font-size:11px;color:#ff9090;font-weight:normal;">35</div>
<div class="t" style="left:809.00px;top:163.85px;width:20.00px;height:24.37px;line-height:24.37px;font-size:11px;color:#ff9090;font-weight:normal;">27</div>
<div class="t" style="left:0.00px;top:188.22px;width:56.50px;height:24.37px;line-height:24.37px;font-size:11.5px;color:#606060;font-weight:normal;">2025306</div>
<div class="t" style="left:56.50px;top:188.22px;width:42.00px;height:24.37px;line-height:24.37px;font-size:11.5px;color:#606060;font-weight:normal;">420</div>
<div class="t" style="left:98.50px;top:188.22px;width:42.00px;height:24.37px;line-height:24.37px;font-size:11.5px;color:#606060;font-weight:normal;">697</div>
<div class="t" style="left:140.50px;top:188.22px;width:42.00px;height:24.37px;line-height:24.37px;font-size:11.5px;color:#606060;font-weight:normal;">22</div>
<div class="t" style="left:183.00px;top:188.22px;width:21.00px;height:24.37px;line-height:24.37px;font-size:11px;color:#ff9090;font-weight:normal;">9</div>
<div class="t" style="left:205.00px;top:188.22px;width:20.00px;height:24.37px;line-height:24.37px;font-size:11px;color:#ff9090;font-weight:normal;">13</div>
<div class="t" style="left:226.00px;top:188.22px;width:21.00px;height:24.37px;line-height:24.37px;font-size:11px;color:#ff9090;font-weight:normal;">11</div>
<div class="t" style="left:248.00px;top:188.22px;width:21.00px;height:24.37px;line-height:24.37px;font-size:11px;color:#ff9090;font-weight:normal;">1</div>
<div class="t" style="left:270.00px;top:188.22px;width:20.00px;height:24.37px;line-height:24.37px;font-size:11px;color:#ff9090;font-weight:normal;">2</div>
<div class="t" style="left:291.00px;top:188.22px;width:21.00px;height:24.37px;line-height:24.37px;font-size:11px;color:#ff9090;font-weight:normal;">8</div>
<div class="t b" style="left:313.00px;top:188.67px;width:20.00px;height:24.37px;line-height:24.37px;font-size:11px;color:#fff;font-weight:bold;">6</div>
<div class="t" style="left:334.00px;top:188.22px;width:21.00px;height:24.37px;line-height:24.37px;font-size:11px;color:#ff9090;font-weight:normal;">4</div>
<div class="t" style="left:356.00px;top:188.22px;width:20.00px;height:24.37px;line-height:24.37px;font-size:11px;color:#ff9090;font-weight:normal;">6</div>
<div class="t" style="left:377.00px;top:188.22px;width:21.00px;height:24.37px;line-height:24.37px;font-size:11px;color:#ff9090;font-weight:normal;">3</div>
<div class="t" style="left:399.00px;top:188.22px;width:21.00px;height:24.37px;line-height:24.37px;font-size:11px;color:#c78e8e;font-weight:normal;">19</div>
<div class="t" style="left:421.00px;top:188.22px;width:20.00px;height:24.37px;line-height:24.37px;font-size:11px;color:#c78e8e;font-weight:normal;">1</div>
<div class="t" style="left:442.00px;top:188.22px;width:21.00px;height:24.37px;line-height:24.37px;font-size:11px;color:#c78e8e;font-weight:normal;">20</div>
<div class="t" style="left:464.00px;top:188.22px;width:20.00px;height:24.37px;line-height:24.37px;font-size:11px;color:#c78e8e;font-weight:normal;">3</div>
<div class="t" style="left:485.00px;top:188.22px;width:21.00px;height:24.37px;line-height:24.37px;font-size:11px;color:#c78e8e;font-weight:normal;">8</div>
<div class="t" style="left:507.00px;top:188.22px;width:20.00px;height:24.37px;line-height:24.37px;font-size:11px;color:#c78e8e;font-weight:normal;">5</div>
<div class="t" style="left:528.00px;top:188.22px;width:21.00px;height:24.37px;line-height:24.37px;font-size:11px;color:#c78e8e;font-weight:normal;">6</div>
<div class="t" style="left:550.00px;top:188.22px;width:21.00px;height:24.37px;line-height:24.37px;font-size:11px;color:#c78e8e;font-weight:normal;">2</div>
<div class="t" style="left:572.00px;top:188.22px;width:20.00px;height:24.37px;line-height:24.37px;font-size:11px;color:#c78e8e;font-weight:normal;">7</div>
<div class="t b" style="left:593.00px;top:188.67px;width:21.00px;height:24.37px;line-height:24.37px;font-size:11px;color:#fff;font-weight:bold;">9</div>
<div class="t" style="left:615.00px;top:188.22px;width:20.00px;height:24.37px;line-height:24.37px;font-size:11px;color:#ff9090;font-weight:normal;">1</div>
<div class="t" style="left:636.00px;top:188.22px;width:21.00px;height:24.37px;line-height:24.37px;font-size:11px;color:#ff9090;font-weight:normal;">2</div>
<div class="t" style="left:658.00px;top:188.22px;width:20.00px;height:24.37px;line-height:24.37px;font-size:11px;color:#ff9090;font-weight:normal;">16</div>
<div class="t" style="left:679.00px;top:188.22px;width:21.00px;height:24.37px;line-height:24.37px;font-size:11px;color:#ff9090;font-weight:normal;">3</div>
<div class="t" style="left:701.00px;top:188.22px;width:20.00px;height:24.37px;line-height:24.37px;font-size:11px;color:#ff9090;font-weight:normal;">8</div>
<div class="t" style="left:722.00px;top:188.22px;width:21.00px;height:24.37px;line-height:24.37px;font-size:11px;color:#ff9090;font-weight:normal;">4</div>
<div class="t" style="left:744.00px;top:188.22px;width:21.00px;height:24.37px;line-height:24.37px;font-size:11px;color:#ff9090;font-weight:normal;">24</div>
<div class="t b" style="left:766.00px;top:188.67px;width:20.00px;height:24.37px;line-height:24.37px;font-size:11px;color:#fff;font-weight:bold;">7</div>
<div class="t" style="left:787.00px;top:188.22px;width:21.00px;height:24.37px;line-height:24.37px;font-size:11px;color:#ff9090;font-weight:normal;">36</div>
<div class="t" style="left:809.00px;top:188.22px;width:20.00px;height:24.37px;line-height:24.37px;font-size:11px;color:#ff9090;font-weight:normal;">28</div>
<div class="t" style="left:0.00px;top:212.59px;width:56.50px;height:24.37px;line-height:24.37px;font-size:11.5px;color:#606060;font-weight:normal;">2025307</div>
<div class="t b" style="left:56.50px;top:212.59px;width:42.00px;height:24.37px;line-height:24.37px;font-size:11.5px;color:#fff;font-weight:bold;">222</div>
<div class="t" style="left:98.50px;top:212.59px;width:42.00px;height:24.37px;line-height:24.37px;font-size:11.5px;color:#606060;font-weight:normal;">164</div>
<div class="t" style="left:140.50px;top:212.59px;width:42.00px;height:24.37px;line-height:24.37px;font-size:11.5px;color:#606060;font-weight:normal;">11</div>
<div class="t" style="left:183.00px;top:212.59px;width:21.00px;height:24.37px;line-height:24.37px;font-size:11px;color:#ff9090;font-weight:normal;">10</div>
<div class="t b" style="left:205.00px;top:213.04px;width:20.00px;height:24.37px;line-height:24.37px;font-size:11px;color:#fff;font-weight:bold;">1</div>
<div class="t" style="left:226.00px;top:212.59px;width:21.00px;height:24.37px;line-height:24.37px;font-size:11px;color:#ff9090;font-weight:normal;">12</div>
<div class="t" style="left:248.00px;top:212.59px;width:21.00px;height:24.37px;line-height:24.37px;font-size:11px;color:#ff9090;font-weight:normal;">2</div>
<div class="t" style="left:270.00px;top:212.59px;width:20.00px;height:24.37px;line-height:24.37px;font-size:11px;color:#ff9090;font-weight:normal;">3</div>
<div class="t" style="left:291.00px;top:212.59px;width:21.00px;height:24.37px;line-height:24.37px;font-size:11px;color:#ff9090;font-weight:normal;">9</div>
<div class="t" style="left:313.00px;top:212.59px;width:20.00px;height:24.37px;line-height:24.37px;font-size:11px;color:#ff9090;font-weight:normal;">1</div>
<div class="t" style="left:334.00px;top:212.59px;width:21.00px;height:24.37px;line-height:24.37px;font-size:11px;color:#ff9090;font-weight:normal;">5</div>
<div class="t" style="left:356.00px;top:212.59px;width:20.00px;height:24.37px;line-height:24.37px;font-size:11px;color:#ff9090;font-weight:normal;">7</div>
<div class="t" style="left:377.00px;top:212.59px;width:21.00px;height:24.37px;line-height:24.37px;font-size:11px;color:#ff9090;font-weight:normal;">4</div>
<div class="t" style="left:399.00px;top:212.59px;width:21.00px;height:24.37px;line-height:24.37px;font-size:11px;color:#c78e8e;font-weight:normal;">20</div>
<div class="t" style="left:421.00px;top:212.59px;width:20.00px;height:24.37px;line-height:24.37px;font-size:11px;color:#c78e8e;font-weight:normal;">2</div>
<div class="t" style="left:442.00px;top:212.59px;width:21.00px;height:24.37px;line-height:24.37px;font-size:11px;color:#c78e8e;font-weight:normal;">21</div>
<div class="t" style="left:464.00px;top:212.59px;width:20.00px;height:24.37px;line-height:24.37px;font-size:11px;color:#c78e8e;font-weight:normal;">4</div>
<div class="t" style="left:485.00px;top:212.59px;width:21.00px;height:24.37px;line-height:24.37px;font-size:11px;color:#c78e8e;font-weight:normal;">9</div>
<div class="t" style="left:507.00px;top:212.59px;width:20.00px;height:24.37px;line-height:24.37px;font-size:11px;color:#c78e8e;font-weight:normal;">6</div>
<div class="t b" style="left:528.00px;top:213.04px;width:21.00px;height:24.37px;line-height:24.37px;font-size:11px;color:#fff;font-weight:bold;">6</div>
<div class="t" style="left:550.00px;top:212.59px;width:21.00px;height:24.37px;line-height:24.37px;font-size:11px;color:#c78e8e;font-weight:normal;">3</div>
<div class="t" style="left:572.00px;top:212.59px;width:20.00px;height:24.37px;line-height:24.37px;font-size:11px;color:#c78e8e;font-weight:normal;">8</div>
<div class="t" style="left:593.00px;top:212.59px;width:21.00px;height:24.37px;line-height:24.37px;font-size:11px;color:#c78e8e;font-weight:normal;">1</div>
<div class="t" style="left:615.00px;top:212.59px;width:20.00px;height:24.37px;line-height:24.37px;font-size:11px;color:#ff9090;font-weight:normal;">2</div>
<div class="t" style="left:636.00px;top:212.59px;width:21.00px;height:24.37px;line-height:24.37px;font-size:11px;color:#ff9090;font-weight:normal;">3</div>
<div class="t" style="left:658.00px;top:212.59px;width:20.00px;height:24.37px;line-height:24.37px;font-size:11px;color:#ff9090;font-weight:normal;">17</div>
<div class="t" style="left:679.00px;top:212.59px;width:21.00px;height:24.37px;line-height:24.37px;font-size:11px;color:#ff9090;font-weight:normal;">4</div>
<div class="t b" style="left:701.00px;top:213.04px;width:20.00px;height:24.37px;line-height:24.37px;font-size:11px;color:#fff;font-weight:bold;">4</div>
<div class="t" style="left:722.00px;top:212.59px;width:21.00px;height:24.37px;line-height:24.37px;font-size:11px;color:#ff9090;font-weight:normal;">5</div>
<div class="t" style="left:744.00px;top:212.59px;width:21.00px;height:24.37px;line-height:24.37px;font-size:11px;color:#ff9090;font-weight:normal;">25</div>
<div class="t" style="left:766.00px;top:212.59px;width:20.00px;height:24.37px;line-height:24.37px;font-size:11px;color:#ff9090;font-weight:normal;">1</div>
<div class="t" style="left:787.00px;top:212.59px;width:21.00px;height:24.37px;line-height:24.37px;font-size:11px;color:#ff9090;font-weight:normal;">37</div>
<div class="t" style="left:809.00px;top:212.59px;width:20.00px;height:24.37px;line-height:24.37px;font-size:11px;color:#ff9090;font-weight:normal;">29</div>
<div class="t" style="left:0.00px;top:236.96px;width:56.50px;height:24.37px;line-height:24.37px;font-size:11.5px;color:#606060;font-weight:normal;">2025308</div>
<div class="t" style="left:56.50px;top:236.96px;width:42.00px;height:24.37px;line-height:24.37px;font-size:11.5px;color:#606060;font-weight:normal;">201</div>
<div class="t b" style="left:98.50px;top:236.96px;width:42.00px;height:24.37px;line-height:24.37px;font-size:11.5px;color:#fff;font-weight:bold;">448</div>
<div class="t" style="left:140.50px;top:236.96px;width:42.00px;height:24.37px;line-height:24.37px;font-size:11.5px;color:#606060;font-weight:normal;">16</div>
<div class="t" style="left:183.00px;top:236.96px;width:21.00px;height:24.37px;line-height:24.37px;font-size:11px;color:#ff9090;font-weight:normal;">11</div>
<div class="t" style="left:205.00px;top:236.96px;width:20.00px;height:24.37px;line-height:24.37px;font-size:11px;color:#ff9090;font-weight:normal;">1</div>
<div class="t" style="left:226.00px;top:236.96px;width:21.00px;height:24.37px;line-height:24.37px;font-size:11px;color:#ff9090;font-weight:normal;">13</div>
<div class="t" style="left:248.00px;top:236.96px;width:21.00px;height:24.37px;line-height:24.37px;font-size:11px;color:#ff9090;font-weight:normal;">3</div>
<div class="t b" style="left:270.00px;top:237.41px;width:20.00px;height:24.37px;line-height:24.37px;font-size:11px;color:#fff;font-weight:bold;">4</div>
<div class="t" style="left:291.00px;top:236.96px;width:21.00px;height:24.37px;line-height:24.37px;font-size:11px;color:#ff9090;font-weight:normal;">10</div>
<div class="t" style="left:313.00px;top:236.96px;width:20.00px;height:24.37px;line-height:24.37px;font-size:11px;color:#ff9090;font-weight:normal;">2</div>
<div class="t" style="left:334.00px;top:236.96px;width:21.00px;height:24.37px;line-height:24.37px;font-size:11px;color:#ff9090;font-weight:normal;">6</div>
<div class="t" style="left:356.00px;top:236.96px;width:20.00px;height:24.37px;line-height:24.37px;font-size:11px;color:#ff9090;font-weight:normal;">8</div>
<div class="t" style="left:377.00px;top:236.96px;width:21.00px;height:24.37px;line-height:24.37px;font-size:11px;color:#ff9090;font-weight:normal;">5</div>
<div class="t" style="left:399.00px;top:236.96px;width:21.00px;height:24.37px;line-height:24.37px;font-size:11px;color:#c78e8e;font-weight:normal;">21</div>
<div class="t" style="left:421.00px;top:236.96px;width:20.00px;height:24.37px;line-height:24.37px;font-size:11px;color:#c78e8e;font-weight:normal;">3</div>
<div class="t" style="left:442.00px;top:236.96px;width:21.00px;height:24.37px;line-height:24.37px;font-size:11px;color:#c78e8e;font-weight:normal;">22</div>
<div class="t" style="left:464.00px;top:236.96px;width:20.00px;height:24.37px;line-height:24.37px;font-size:11px;color:#c78e8e;font-weight:normal;">5</div>
<div class="t b" style="left:485.00px;top:237.41px;width:21.00px;height:24.37px;line-height:24.37px;font-size:11px;color:#fff;font-weight:bold;">4</div>
<div class="t" style="left:507.00px;top:236.96px;width:20.00px;height:24.37px;line-height:24.37px;font-size:11px;color:#c78e8e;font-weight:normal;">7</div>
<div class="t" style="left:528.00px;top:236.96px;width:21.00px;height:24.37px;line-height:24.37px;font-size:11px;color:#c78e8e;font-weight:normal;">1</div>
<div class="t" style="left:550.00px;top:236.96px;width:21.00px;height:24.37px;line-height:24.37px;font-size:11px;color:#c78e8e;font-weight:normal;">4</div>
<div class="t" style="left:572.00px;top:236.96px;width:20.00px;height:24.37px;line-height:24.37px;font-size:11px;color:#c78e8e;font-weight:normal;">9</div>
<div class="t" style="left:593.00px;top:236.96px;width:21.00px;height:24.37px;line-height:24.37px;font-size:11px;color:#c78e8e;font-weight:normal;">2</div>
<div class="t" style="left:615.00px;top:236.96px;width:20.00px;height:24.37px;line-height:24.37px;font-size:11px;color:#ff9090;font-weight:normal;">3</div>
<div class="t" style="left:636.00px;top:236.96px;width:21.00px;height:24.37px;line-height:24.37px;font-size:11px;color:#ff9090;font-weight:normal;">4</div>
<div class="t" style="left:658.00px;top:236.96px;width:20.00px;height:24.37px;line-height:24.37px;font-size:11px;color:#ff9090;font-weight:normal;">18</div>
<div class="t" style="left:679.00px;top:236.96px;width:21.00px;height:24.37px;line-height:24.37px;font-size:11px;color:#ff9090;font-weight:normal;">5</div>
<div class="t" style="left:701.00px;top:236.96px;width:20.00px;height:24.37px;line-height:24.37px;font-size:11px;color:#ff9090;font-weight:normal;">1</div>
<div class="t" style="left:722.00px;top:236.96px;width:21.00px;height:24.37px;line-height:24.37px;font-size:11px;color:#ff9090;font-weight:normal;">6</div>
<div class="t" style="left:744.00px;top:236.96px;width:21.00px;height:24.37px;line-height:24.37px;font-size:11px;color:#ff9090;font-weight:normal;">26</div>
<div class="t" style="left:766.00px;top:236.96px;width:20.00px;height:24.37px;line-height:24.37px;font-size:11px;color:#ff9090;font-weight:normal;">2</div>
<div class="t b" style="left:787.00px;top:237.41px;width:21.00px;height:24.37px;line-height:24.37px;font-size:11px;color:#fff;font-weight:bold;">8</div>
<div class="t" style="left:809.00px;top:236.96px;width:20.00px;height:24.37px;line-height:24.37px;font-size:11px;color:#ff9090;font-weight:normal;">30</div>
<div class="t" style="left:0.00px;top:261.33px;width:56.50px;height:24.37px;line-height:24.37px;font-size:11.5px;color:#606060;font-weight:normal;">2025309</div>
<div class="t b" style="left:56.50px;top:261.33px;width:42.00px;height:24.37px;line-height:24.37px;font-size:11.5px;color:#fff;font-weight:bold;">255</div>
<div class="t" style="left:98.50px;top:261.33px;width:42.00px;height:24.37px;line-height:24.37px;font-size:11.5px;color:#606060;font-weight:normal;">190</div>
<div class="t" style="left:140.50px;top:261.33px;width:42.00px;height:24.37px;line-height:24.37px;font-size:11.5px;color:#606060;font-weight:normal;">10</div>
<div class="t" style="left:183.00px;top:261.33px;width:21.00px;height:24.37px;line-height:24.37px;font-size:11px;color:#ff9090;font-weight:normal;">12</div>
<div class="t b" style="left:205.00px;top:261.78px;width:20.00px;height:24.37px;line-height:24.37px;font-size:11px;color:#fff;font-weight:bold;">1</div>
<div class="t" style="left:226.00px;top:261.33px;width:21.00px;height:24.37px;line-height:24.37px;font-size:11px;color:#ff9090;font-weight:normal;">14</div>
<div class="t" style="left:248.00px;top:261.33px;width:21.00px;height:24.37px;line-height:24.37px;font-size:11px;color:#ff9090;font-weight:normal;">4</div>
<div class="t" style="left:270.00px;top:261.33px;width:20.00px;height:24.37px;line-height:24.37px;font-size:11px;color:#ff9090;font-weight:normal;">1</div>
<div class="t" style="left:291.00px;top:261.33px;width:21.00px;height:24.37px;line-height:24.37px;font-size:11px;color:#ff9090;font-weight:normal;">11</div>
<div class="t" style="left:313.00px;top:261.33px;width:20.00px;height:24.37px;line-height:24.37px;font-size:11px;color:#ff9090;font-weight:normal;">3</div>
<div class="t" style="left:334.00px;top:261.33px;width:21.00px;height:24.37px;line-height:24.37px;font-size:11px;color:#ff9090;font-weight:normal;">7</div>
<div class="t" style="left:356.00px;top:261.33px;width:20.00px;height:24.37px;line-height:24.37px;font-size:11px;color:#ff9090;font-weight:normal;">9</div>
<div class="t" style="left:377.00px;top:261.33px;width:21.00px;height:24.37px;line-height:24.37px;font-size:11px;color:#ff9090;font-weight:normal;">6</div>
<div class="t" style="left:399.00px;top:261.33px;width:21.00px;height:24.37px;line-height:24.37px;font-size:11px;color:#c78e8e;font-weight:normal;">22</div>
<div class="t" style="left:421.00px;top:261.33px;width:20.00px;height:24.37px;line-height:24.37px;font-size:11px;color:#c78e8e;font-weight:normal;">4</div>
<div class="t" style="left:442.00px;top:261.33px;width:21.00px;height:24.37px;line-height:24.37px;font-size:11px;color:#c78e8e;font-weight:normal;">23</div>
<div class="t" style="left:464.00px;top:261.33px;width:20.00px;height:24.37px;line-height:24.37px;font-size:11px;color:#c78e8e;font-weight:normal;">6</div>
<div class="t" style="left:485.00px;top:261.33px;width:21.00px;height:24.37px;line-height:24.37px;font-size:11px;color:#c78e8e;font-weight:normal;">1</div>
<div class="t" style="left:507.00px;top:261.33px;width:20.00px;height:24.37px;line-height:24.37px;font-size:11px;color:#c78e8e;font-weight:normal;">8</div>
<div class="t" style="left:528.00px;top:261.33px;width:21.00px;height:24.37px;line-height:24.37px;font-size:11px;color:#c78e8e;font-weight:normal;">2</div>
<div class="t" style="left:550.00px;top:261.33px;width:21.00px;height:24.37px;line-height:24.37px;font-size:11px;color:#c78e8e;font-weight:normal;">5</div>
<div class="t" style="left:572.00px;top:261.33px;width:20.00px;height:24.37px;line-height:24.37px;font-size:11px;color:#c78e8e;font-weight:normal;">10</div>
<div class="t b" style="left:593.00px;top:261.78px;width:21.00px;height:24.37px;line-height:24.37px;font-size:11px;color:#fff;font-weight:bold;">9</div>
<div class="t b" style="left:615.00px;top:261.78px;width:20.00px;height:24.37px;line-height:24.37px;font-size:11px;color:#fff;font-weight:bold;">0</div>
<div class="t" style="left:636.00px;top:261.33px;width:21.00px;height:24.37px;line-height:24.37px;font-size:11px;color:#ff9090;font-weight:normal;">5</div>
<div class="t" style="left:658.00px;top:261.33px;width:20.00px;height:24.37px;line-height:24.37px;font-size:11px;color:#ff9090;font-weight:normal;">19</div>
<div class="t" style="left:679.00px;top:261.33px;width:21.00px;height:24.37px;line-height:24.37px;font-size:11px;color:#ff9090;font-weight:normal;">6</div>
<div class="t" style="left:701.00px;top:261.33px;width:20.00px;height:24.37px;line-height:24.37px;font-size:11px;color:#ff9090;font-weight:normal;">2</div>
<div class="t" style="left:722.00px;top:261.33px;width:21.00px;height:24.37px;line-height:24.37px;font-size:11px;color:#ff9090;font-weight:normal;">7</div>
<div class="t" style="left:744.00px;top:261.33px;width:21.00px;height:24.37px;line-height:24.37px;font-size:11px;color:#ff9090;font-weight:normal;">27</div>
<div class="t" style="left:766.00px;top:261.33px;width:20.00px;height:24.37px;line-height:24.37px;font-size:11px;color:#ff9090;font-weight:normal;">3</div>
<div class="t" style="left:787.00px;top:261.33px;width:21.00px;height:24.37px;line-height:24.37px;font-size:11px;color:#ff9090;font-weight:normal;">1</div>
<div class="t" style="left:809.00px;top:261.33px;width:20.00px;height:24.37px;line-height:24.37px;font-size:11px;color:#ff9090;font-weight:normal;">31</div>
<div class="t" style="left:0.00px;top:286.70px;width:56.50px;height:24.37px;line-height:24.37px;font-size:11.5px;color:#606060;font-weight:normal;">2025310</div>
<div class="t" style="left:56.50px;top:286.70px;width:42.00px;height:24.37px;line-height:24.37px;font-size:11.5px;color:#606060;font-weight:normal;">760</div>
<div class="t" style="left:98.50px;top:286.70px;width:42.00px;height:24.37px;line-height:24.37px;font-size:11.5px;color:#606060;font-weight:normal;">169</div>
<div class="t" style="left:140.50px;top:286.70px;width:42.00px;height:24.37px;line-height:24.37px;font-size:11.5px;color:#606060;font-weight:normal;">16</div>
<div class="t" style="left:183.00px;top:286.70px;width:21.00px;height:24.37px;line-height:24.37px;font-size:11px;color:#ff9090;font-weight:normal;">13</div>
<div class="t b" style="left:205.00px;top:287.15px;width:20.00px;height:24.37px;line-height:24.37px;font-size:11px;color:#fff;font-weight:bold;">1</div>
<div class="t" style="left:226.00px;top:286.70px;width:21.00px;height:24.37px;line-height:24.37px;font-size:11px;color:#ff9090;font-weight:normal;">15</div>
<div class="t" style="left:248.00px;top:286.70px;width:21.00px;height:24.37px;line-height:24.37px;font-size:11px;color:#ff9090;font-weight:normal;">5</div>
<div class="t" style="left:270.00px;top:286.70px;width:20.00px;height:24.37px;line-height:24.37px;font-size:11px;color:#ff9090;font-weight:normal;">2</div>
<div class="t" style="left:291.00px;top:286.70px;width:21.00px;height:24.37px;line-height:24.37px;font-size:11px;color:#ff9090;font-weight:normal;">12</div>
<div class="t" style="left:313.00px;top:286.70px;width:20.00px;height:24.37px;line-height:24.37px;font-size:11px;color:#ff9090;font-weight:normal;">4</div>
<div class="t" style="left:334.00px;top:286.70px;width:21.00px;height:24.37px;line-height:24.37px;font-size:11px;color:#ff9090;font-weight:normal;">8</div>
<div class="t" style="left:356.00px;top:286.70px;width:20.00px;height:24.37px;line-height:24.37px;font-size:11px;color:#ff9090;font-weight:normal;">10</div>
<div class="t" style="left:377.00px;top:286.70px;width:21.00px;height:24.37px;line-height:24.37px;font-size:11px;color:#ff9090;font-weight:normal;">7</div>
<div class="t" style="left:399.00px;top:286.70px;width:21.00px;height:24.37px;line-height:24.37px;font-size:11px;color:#c78e8e;font-weight:normal;">23</div>
<div class="t" style="left:421.00px;top:286.70px;width:20.00px;height:24.37px;line-height:24.37px;font-size:11px;color:#c78e8e;font-weight:normal;">5</div>
<div class="t" style="left:442.00px;top:286.70px;width:21.00px;height:24.37px;line-height:24.37px;font-size:11px;color:#c78e8e;font-weight:normal;">24</div>
<div class="t" style="left:464.00px;top:286.70px;width:20.00px;height:24.37px;line-height:24.37px;font-size:11px;color:#c78e8e;font-weight:normal;">7</div>
<div class="t" style="left:485.00px;top:286.70px;width:21.00px;height:24.37px;line-height:24.37px;font-size:11px;color:#c78e8e;font-weight:normal;">2</div>
<div class="t" style="left:507.00px;top:286.70px;width:20.00px;height:24.37px;line-height:24.37px;font-size:11px;color:#c78e8e;font-weight:normal;">9</div>
<div class="t b" style="left:528.00px;top:287.15px;width:21.00px;height:24.37px;line-height:24.37px;font-size:11px;color:#fff;font-weight:bold;">6</div>
<div class="t" style="left:550.00px;top:286.70px;width:21.00px;height:24.37px;line-height:24.37px;font-size:11px;color:#c78e8e;font-weight:normal;">6</div>
<div class="t" style="left:572.00px;top:286.70px;width:20.00px;height:24.37px;line-height:24.37px;font-size:11px;color:#c78e8e;font-weight:normal;">11</div>
<div class="t" style="left:593.00px;top:286.70px;width:21.00px;height:24.37px;line-height:24.37px;font-size:11px;color:#c78e8e;font-weight:normal;">1</div>
<div class="t" style="left:615.00px;top:286.70px;width:20.00px;height:24.37px;line-height:24.37px;font-size:11px;color:#ff9090;font-weight:normal;">1</div>
<div class="t" style="left:636.00px;top:286.70px;width:21.00px;height:24.37px;line-height:24.37px;font-size:11px;color:#ff9090;font-weight:normal;">6</div>
<div class="t" style="left:658.00px;top:286.70px;width:20.00px;height:24.37px;line-height:24.37px;font-size:11px;color:#ff9090;font-weight:normal;">20</div>
<div class="t" style="left:679.00px;top:286.70px;width:21.00px;height:24.37px;line-height:24.37px;font-size:11px;color:#ff9090;font-weight:normal;">7</div>
<div class="t" style="left:701.00px;top:286.70px;width:20.00px;height:24.37px;line-height:24.37px;font-size:11px;color:#ff9090;font-weight:normal;">3</div>
<div class="t" style="left:722.00px;top:286.70px;width:21.00px;height:24.37px;line-height:24.37px;font-size:11px;color:#ff9090;font-weight:normal;">8</div>
<div class="t" style="left:744.00px;top:286.70px;width:21.00px;height:24.37px;line-height:24.37px;font-size:11px;color:#ff9090;font-weight:normal;">28</div>
<div class="t" style="left:766.00px;top:286.70px;width:20.00px;height:24.37px;line-height:24.37px;font-size:11px;color:#ff9090;font-weight:normal;">4</div>
<div class="t" style="left:787.00px;top:286.70px;width:21.00px;height:24.37px;line-height:24.37px;font-size:11px;color:#ff9090;font-weight:normal;">2</div>
<div class="t b" style="left:809.00px;top:287.15px;width:20.00px;height:24.37px;line-height:24.37px;font-size:11px;color:#fff;font-weight:bold;">9</div>
<div class="t" style="left:0.00px;top:311.07px;width:56.50px;height:24.37px;line-height:24.37px;font-size:11.5px;color:#606060;font-weight:normal;">2025311</div>
<div class="t" style="left:56.50px;top:311.07px;width:42.00px;height:24.37px;line-height:24.37px;font-size:11.5px;color:#606060;font-weight:normal;">753</div>
<div class="t" style="left:98.50px;top:311.07px;width:42.00px;height:24.37px;line-height:24.37px;font-size:11.5px;color:#606060;font-weight:normal;">640</div>
<div class="t" style="left:140.50px;top:311.07px;width:42.00px;height:24.37px;line-height:24.37px;font-size:11.5px;color:#606060;font-weight:normal;">10</div>
<div class="t" style="left:183.00px;top:311.07px;width:21.00px;height:24.37px;line-height:24.37px;font-size:11px;color:#ff9090;font-weight:normal;">14</div>
<div class="t" style="left:205.00px;top:311.07px;width:20.00px;height:24.37px;line-height:24.37px;font-size:11px;color:#ff9090;font-weight:normal;">1</div>
<div class="t" style="left:226.00px;top:311.07px;width:21.00px;height:24.37px;line-height:24.37px;font-size:11px;color:#ff9090;font-weight:normal;">16</div>
<div class="t" style="left:248.00px;top:311.07px;width:21.00px;height:24.37px;line-height:24.37px;font-size:11px;color:#ff9090;font-weight:normal;">6</div>
<div class="t" style="left:270.00px;top:311.07px;width:20.00px;height:24.37px;line-height:24.37px;font-size:11px;color:#ff9090;font-weight:normal;">3</div>
<div class="t" style="left:291.00px;top:311.07px;width:21.00px;height:24.37px;line-height:24.37px;font-size:11px;color:#ff9090;font-weight:normal;">13</div>
<div class="t b" style="left:313.00px;top:311.52px;width:20.00px;height:24.37px;line-height:24.37px;font-size:11px;color:#fff;font-weight:bold;">6</div>
<div class="t" style="left:334.00px;top:311.07px;width:21.00px;height:24.37px;line-height:24.37px;font-size:11px;color:#ff9090;font-weight:normal;">9</div>
<div class="t" style="left:356.00px;top:311.07px;width:20.00px;height:24.37px;line-height:24.37px;font-size:11px;color:#ff9090;font-weight:normal;">11</div>
<div class="t" style="left:377.00px;top:311.07px;width:21.00px;height:24.37px;line-height:24.37px;font-size:11px;color:#ff9090;font-weight:normal;">8</div>
<div class="t" style="left:399.00px;top:311.07px;width:21.00px;height:24.37px;line-height:24.37px;font-size:11px;color:#c78e8e;font-weight:normal;">24</div>
<div class="t" style="left:421.00px;top:311.07px;width:20.00px;height:24.37px;line-height:24.37px;font-size:11px;color:#c78e8e;font-weight:normal;">6</div>
<div class="t" style="left:442.00px;top:311.07px;width:21.00px;height:24.37px;line-height:24.37px;font-size:11px;color:#c78e8e;font-weight:normal;">25</div>
<div class="t" style="left:464.00px;top:311.07px;width:20.00px;height:24.37px;line-height:24.37px;font-size:11px;color:#c78e8e;font-weight:normal;">8</div>
<div class="t b" style="left:485.00px;top:311.52px;width:21.00px;height:24.37px;line-height:24.37px;font-size:11px;color:#fff;font-weight:bold;">4</div>
<div class="t" style="left:507.00px;top:311.07px;width:20.00px;height:24.37px;line-height:24.37px;font-size:11px;color:#c78e8e;font-weight:normal;">10</div>
<div class="t" style="left:528.00px;top:311.07px;width:21.00px;height:24.37px;line-height:24.37px;font-size:11px;color:#c78e8e;font-weight:normal;">1</div>
<div class="t" style="left:550.00px;top:311.07px;width:21.00px;height:24.37px;line-height:24.37px;font-size:11px;color:#c78e8e;font-weight:normal;">7</div>
<div class="t" style="left:572.00px;top:311.07px;width:20.00px;height:24.37px;line-height:24.37px;font-size:11px;color:#c78e8e;font-weight:normal;">12</div>
<div class="t" style="left:593.00px;top:311.07px;width:21.00px;height:24.37px;line-height:24.37px;font-size:11px;color:#c78e8e;font-weight:normal;">2</div>
<div class="t b" style="left:615.00px;top:311.52px;width:20.00px;height:24.37px;line-height:24.37px;font-size:11px;color:#fff;font-weight:bold;">0</div>
<div class="t" style="left:636.00px;top:311.07px;width:21.00px;height:24.37px;line-height:24.37px;font-size:11px;color:#ff9090;font-weight:normal;">7</div>
<div class="t" style="left:658.00px;top:311.07px;width:20.00px;height:24.37px;line-height:24.37px;font-size:11px;color:#ff9090;font-weight:normal;">21</div>
<div class="t" style="left:679.00px;top:311.07px;width:21.00px;height:24.37px;line-height:24.37px;font-size:11px;color:#ff9090;font-weight:normal;">8</div>
<div class="t" style="left:701.00px;top:311.07px;width:20.00px;height:24.37px;line-height:24.37px;font-size:11px;color:#ff9090;font-weight:normal;">4</div>
<div class="t" style="left:722.00px;top:311.07px;width:21.00px;height:24.37px;line-height:24.37px;font-size:11px;color:#ff9090;font-weight:normal;">9</div>
<div class="t" style="left:744.00px;top:311.07px;width:21.00px;height:24.37px;line-height:24.37px;font-size:11px;color:#ff9090;font-weight:normal;">29</div>
<div class="t" style="left:766.00px;top:311.07px;width:20.00px;height:24.37px;line-height:24.37px;font-size:11px;color:#ff9090;font-weight:normal;">5</div>
<div class="t" style="left:787.00px;top:311.07px;width:21.00px;height:24.37px;line-height:24.37px;font-size:11px;color:#ff9090;font-weight:normal;">3</div>
<div class="t" style="left:809.00px;top:311.07px;width:20.00px;height:24.37px;line-height:24.37px;font-size:11px;color:#ff9090;font-weight:normal;">1</div>
<div class="t" style="left:0.00px;top:335.44px;width:56.50px;height:24.37px;line-height:24.37px;font-size:11.5px;color:#606060;font-weight:normal;">2025312</div>
<div class="t b" style="left:56.50px;top:335.44px;width:42.00px;height:24.37px;line-height:24.37px;font-size:11.5px;color:#fff;font-weight:bold;">373</div>
<div class="t" style="left:98.50px;top:335.44px;width:42.00px;height:24.37px;line-height:24.37px;font-size:11.5px;color:#606060;font-weight:normal;">689</div>
<div class="t" style="left:140.50px;top:335.44px;width:42.00px;height:24.37px;line-height:24.37px;font-size:11.5px;color:#606060;font-weight:normal;">23</div>
<div class="t" style="left:183.00px;top:335.44px;width:21.00px;height:24.37px;line-height:24.37px;font-size:11px;color:#ff9090;font-weight:normal;">15</div>
<div class="t" style="left:205.00px;top:335.44px;width:20.00px;height:24.37px;line-height:24.37px;font-size:11px;color:#ff9090;font-weight:normal;">2</div>
<div class="t" style="left:226.00px;top:335.44px;width:21.00px;height:24.37px;line-height:24.37px;font-size:11px;color:#ff9090;font-weight:normal;">17</div>
<div class="t" style="left:248.00px;top:335.44px;width:21.00px;height:24.37px;line-height:24.37px;font-size:11px;color:#ff9090;font-weight:normal;">7</div>
<div class="t" style="left:270.00px;top:335.44px;width:20.00px;height:24.37px;line-height:24.37px;font-size:11px;color:#ff9090;font-weight:normal;">4</div>
<div class="t" style="left:291.00px;top:335.44px;width:21.00px;height:24.37px;line-height:24.37px;font-size:11px;color:#ff9090;font-weight:normal;">14</div>
<div class="t b" style="left:313.00px;top:335.89px;width:20.00px;height:24.37px;line-height:24.37px;font-size:11px;color:#fff;font-weight:bold;">6</div>
<div class="t" style="left:334.00px;top:335.44px;width:21.00px;height:24.37px;line-height:24.37px;font-size:11px;color:#ff9090;font-weight:normal;">10</div>
<div class="t" style="left:356.00px;top:335.44px;width:20.00px;height:24.37px;line-height:24.37px;font-size:11px;color:#ff9090;font-weight:normal;">12</div>
<div class="t" style="left:377.00px;top:335.44px;width:21.00px;height:24.37px;line-height:24.37px;font-size:11px;color:#ff9090;font-weight:normal;">9</div>
<div class="t" style="left:399.00px;top:335.44px;width:21.00px;height:24.37px;line-height:24.37px;font-size:11px;color:#c78e8e;font-weight:normal;">25</div>
<div class="t" style="left:421.00px;top:335.44px;width:20.00px;height:24.37px;line-height:24.37px;font-size:11px;color:#c78e8e;font-weight:normal;">7</div>
<div class="t" style="left:442.00px;top:335.44px;width:21.00px;height:24.37px;line-height:24.37px;font-size:11px;color:#c78e8e;font-weight:normal;">26</div>
<div class="t" style="left:464.00px;top:335.44px;width:20.00px;height:24.37px;line-height:24.37px;font-size:11px;color:#c78e8e;font-weight:normal;">9</div>
<div class="t" style="left:485.00px;top:335.44px;width:21.00px;height:24.37px;line-height:24.37px;font-size:11px;color:#c78e8e;font-weight:normal;">1</div>
<div class="t" style="left:507.00px;top:335.44px;width:20.00px;height:24.37px;line-height:24.37px;font-size:11px;color:#c78e8e;font-weight:normal;">11</div>
<div class="t" style="left:528.00px;top:335.44px;width:21.00px;height:24.37px;line-height:24.37px;font-size:11px;color:#c78e8e;font-weight:normal;">2</div>
<div class="t" style="left:550.00px;top:335.44px;width:21.00px;height:24.37px;line-height:24.37px;font-size:11px;color:#c78e8e;font-weight:normal;">8</div>
<div class="t b" style="left:572.00px;top:335.89px;width:20.00px;height:24.37px;line-height:24.37px;font-size:11px;color:#fff;font-weight:bold;">8</div>
<div class="t" style="left:593.00px;top:335.44px;width:21.00px;height:24.37px;line-height:24.37px;font-size:11px;color:#c78e8e;font-weight:normal;">3</div>
<div class="t" style="left:615.00px;top:335.44px;width:20.00px;height:24.37px;line-height:24.37px;font-size:11px;color:#ff9090;font-weight:normal;">1</div>
<div class="t" style="left:636.00px;top:335.44px;width:21.00px;height:24.37px;line-height:24.37px;font-size:11px;color:#ff9090;font-weight:normal;">8</div>
<div class="t" style="left:658.00px;top:335.44px;width:20.00px;height:24.37px;line-height:24.37px;font-size:11px;color:#ff9090;font-weight:normal;">22</div>
<div class="t" style="left:679.00px;top:335.44px;width:21.00px;height:24.37px;line-height:24.37px;font-size:11px;color:#ff9090;font-weight:normal;">9</div>
<div class="t" style="left:701.00px;top:335.44px;width:20.00px;height:24.37px;line-height:24.37px;font-size:11px;color:#ff9090;font-weight:normal;">5</div>
<div class="t" style="left:722.00px;top:335.44px;width:21.00px;height:24.37px;line-height:24.37px;font-size:11px;color:#ff9090;font-weight:normal;">10</div>
<div class="t" style="left:744.00px;top:335.44px;width:21.00px;height:24.37px;line-height:24.37px;font-size:11px;color:#ff9090;font-weight:normal;">30</div>
<div class="t" style="left:766.00px;top:335.44px;width:20.00px;height:24.37px;line-height:24.37px;font-size:11px;color:#ff9090;font-weight:normal;">6</div>
<div class="t" style="left:787.00px;top:335.44px;width:21.00px;height:24.37px;line-height:24.37px;font-size:11px;color:#ff9090;font-weight:normal;">4</div>
<div class="t b" style="left:809.00px;top:335.89px;width:20.00px;height:24.37px;line-height:24.37px;font-size:11px;color:#fff;font-weight:bold;">9</div>
<div class="t" style="left:0.00px;top:359.81px;width:56.50px;height:24.37px;line-height:24.37px;font-size:11.5px;color:#606060;font-weight:normal;">2025313</div>
<div class="t" style="left:56.50px;top:359.81px;width:42.00px;height:24.37px;line-height:24.37px;font-size:11.5px;color:#606060;font-weight:normal;">891</div>
<div class="t b" style="left:98.50px;top:359.81px;width:42.00px;height:24.37px;line-height:24.37px;font-size:11.5px;color:#fff;font-weight:bold;">664</div>
<div class="t" style="left:140.50px;top:359.81px;width:42.00px;height:24.37px;line-height:24.37px;font-size:11.5px;color:#606060;font-weight:normal;">16</div>
<div class="t" style="left:183.00px;top:359.81px;width:21.00px;height:24.37px;line-height:24.37px;font-size:11px;color:#ff9090;font-weight:normal;">16</div>
<div class="t" style="left:205.00px;top:359.81px;width:20.00px;height:24.37px;line-height:24.37px;font-size:11px;color:#ff9090;font-weight:normal;">3</div>
<div class="t" style="left:226.00px;top:359.81px;width:21.00px;height:24.37px;line-height:24.37px;font-size:11px;color:#ff9090;font-weight:normal;">18</div>
<div class="t" style="left:248.00px;top:359.81px;width:21.00px;height:24.37px;line-height:24.37px;font-size:11px;color:#ff9090;font-weight:normal;">8</div>
<div class="t" style="left:270.00px;top:359.81px;width:20.00px;height:24.37px;line-height:24.37px;font-size:11px;color:#ff9090;font-weight:normal;">5</div>
<div class="t" style="left:291.00px;top:359.81px;width:21.00px;height:24.37px;line-height:24.37px;font-size:11px;color:#ff9090;font-weight:normal;">15</div>
<div class="t b" style="left:313.00px;top:360.26px;width:20.00px;height:24.37px;line-height:24.37px;font-size:11px;color:#fff;font-weight:bold;">6</div>
<div class="t" style="left:334.00px;top:359.81px;width:21.00px;height:24.37px;line-height:24.37px;font-size:11px;color:#ff9090;font-weight:normal;">11</div>
<div class="t" style="left:356.00px;top:359.81px;width:20.00px;height:24.37px;line-height:24.37px;font-size:11px;color:#ff9090;font-weight:normal;">13</div>
<div class="t" style="left:377.00px;top:359.81px;width:21.00px;height:24.37px;line-height:24.37px;font-size:11px;color:#ff9090;font-weight:normal;">10</div>
<div class="t" style="left:399.00px;top:359.81px;width:21.00px;height:24.37px;line-height:24.37px;font-size:11px;color:#c78e8e;font-weight:normal;">26</div>
<div class="t" style="left:421.00px;top:359.81px;width:20.00px;height:24.37px;line-height:24.37px;font-size:11px;color:#c78e8e;font-weight:normal;">8</div>
<div class="t" style="left:442.00px;top:359.81px;width:21.00px;height:24.37px;line-height:24.37px;font-size:11px;color:#c78e8e;font-weight:normal;">27</div>
<div class="t" style="left:464.00px;top:359.81px;width:20.00px;height:24.37px;line-height:24.37px;font-size:11px;color:#c78e8e;font-weight:normal;">10</div>
<div class="t" style="left:485.00px;top:359.81px;width:21.00px;height:24.37px;line-height:24.37px;font-size:11px;color:#c78e8e;font-weight:normal;">2</div>
<div class="t" style="left:507.00px;top:359.81px;width:20.00px;height:24.37px;line-height:24.37px;font-size:11px;color:#c78e8e;font-weight:normal;">12</div>
<div class="t b" style="left:528.00px;top:360.26px;width:21.00px;height:24.37px;line-height:24.37px;font-size:11px;color:#fff;font-weight:bold;">6</div>
<div class="t" style="left:550.00px;top:359.81px;width:21.00px;height:24.37px;line-height:24.37px;font-size:11px;color:#c78e8e;font-weight:normal;">9</div>
<div class="t" style="left:572.00px;top:359.81px;width:20.00px;height:24.37px;line-height:24.37px;font-size:11px;color:#c78e8e;font-weight:normal;">1</div>
<div class="t" style="left:593.00px;top:359.81px;width:21.00px;height:24.37px;line-height:24.37px;font-size:11px;color:#c78e8e;font-weight:normal;">4</div>
<div class="t" style="left:615.00px;top:359.81px;width:20.00px;height:24.37px;line-height:24.37px;font-size:11px;color:#ff9090;font-weight:normal;">2</div>
<div class="t" style="left:636.00px;top:359.81px;width:21.00px;height:24.37px;line-height:24.37px;font-size:11px;color:#ff9090;font-weight:normal;">9</div>
<div class="t" style="left:658.00px;top:359.81px;width:20.00px;height:24.37px;line-height:24.37px;font-size:11px;color:#ff9090;font-weight:normal;">23</div>
<div class="t" style="left:679.00px;top:359.81px;width:21.00px;height:24.37px;line-height:24.37px;font-size:11px;color:#ff9090;font-weight:normal;">10</div>
<div class="t b" style="left:701.00px;top:360.26px;width:20.00px;height:24.37px;line-height:24.37px;font-size:11px;color:#fff;font-weight:bold;">4</div>
<div class="t" style="left:722.00px;top:359.81px;width:21.00px;height:24.37px;line-height:24.37px;font-size:11px;color:#ff9090;font-weight:normal;">11</div>
<div class="t" style="left:744.00px;top:359.81px;width:21.00px;height:24.37px;line-height:24.37px;font-size:11px;color:#ff9090;font-weight:normal;">31</div>
<div class="t" style="left:766.00px;top:359.81px;width:20.00px;height:24.37px;line-height:24.37px;font-size:11px;color:#ff9090;font-weight:normal;">7</div>
<div class="t" style="left:787.00px;top:359.81px;width:21.00px;height:24.37px;line-height:24.37px;font-size:11px;color:#ff9090;font-weight:normal;">5</div>
<div class="t" style="left:809.00px;top:359.81px;width:20.00px;height:24.37px;line-height:24.37px;font-size:11px;color:#ff9090;font-weight:normal;">1</div>
<div class="t" style="left:0.00px;top:384.18px;width:56.50px;height:24.37px;line-height:24.37px;font-size:11.5px;color:#606060;font-weight:normal;">2025314</div>
<div class="t b" style="left:56.50px;top:384.18px;width:42.00px;height:24.37px;line-height:24.37px;font-size:11.5px;color:#fff;font-weight:bold;">686</div>
<div class="t" style="left:98.50px;top:384.18px;width:42.00px;height:24.37px;line-height:24.37px;font-size:11.5px;color:#606060;font-weight:normal;">917</div>
<div class="t" style="left:140.50px;top:384.18px;width:42.00px;height:24.37px;line-height:24.37px;font-size:11.5px;color:#606060;font-weight:normal;">17</div>
<div class="t" style="left:183.00px;top:384.18px;width:21.00px;height:24.37px;line-height:24.37px;font-size:11px;color:#ff9090;font-weight:normal;">17</div>
<div class="t" style="left:205.00px;top:384.18px;width:20.00px;height:24.37px;line-height:24.37px;font-size:11px;color:#ff9090;font-weight:normal;">4</div>
<div class="t" style="left:226.00px;top:384.18px;width:21.00px;height:24.37px;line-height:24.37px;font-size:11px;color:#ff9090;font-weight:normal;">19</div>
<div class="t" style="left:248.00px;top:384.18px;width:21.00px;height:24.37px;line-height:24.37px;font-size:11px;color:#ff9090;font-weight:normal;">9</div>
<div class="t" style="left:270.00px;top:384.18px;width:20.00px;height:24.37px;line-height:24.37px;font-size:11px;color:#ff9090;font-weight:normal;">6</div>
<div class="t" style="left:291.00px;top:384.18px;width:21.00px;height:24.37px;line-height:24.37px;font-size:11px;color:#ff9090;font-weight:normal;">16</div>
<div class="t" style="left:313.00px;top:384.18px;width:20.00px;height:24.37px;line-height:24.37px;font-size:11px;color:#ff9090;font-weight:normal;">1</div>
<div class="t" style="left:334.00px;top:384.18px;width:21.00px;height:24.37px;line-height:24.37px;font-size:11px;color:#ff9090;font-weight:normal;">12</div>
<div class="t" style="left:356.00px;top:384.18px;width:20.00px;height:24.37px;line-height:24.37px;font-size:11px;color:#ff9090;font-weight:normal;">14</div>
<div class="t b" style="left:377.00px;top:384.63px;width:21.00px;height:24.37px;line-height:24.37px;font-size:11px;color:#fff;font-weight:bold;">9</div>
<div class="t" style="left:399.00px;top:384.18px;width:21.00px;height:24.37px;line-height:24.37px;font-size:11px;color:#c78e8e;font-weight:normal;">27</div>
<div class="t b" style="left:421.00px;top:384.63px;width:20.00px;height:24.37px;line-height:24.37px;font-size:11px;color:#fff;font-weight:bold;">1</div>
<div class="t" style="left:442.00px;top:384.18px;width:21.00px;height:24.37px;line-height:24.37px;font-size:11px;color:#c78e8e;font-weight:normal;">28</div>
<div class="t" style="left:464.00px;top:384.18px;width:20.00px;height:24.37px;line-height:24.37px;font-size:11px;color:#c78e8e;font-weight:normal;">11</div>
<div class="t" style="left:485.00px;top:384.18px;width:21.00px;height:24.37px;line-height:24.37px;font-size:11px;color:#c78e8e;font-weight:normal;">3</div>
<div class="t" style="left:507.00px;top:384.18px;width:20.00px;height:24.37px;line-height:24.37px;font-size:11px;color:#c78e8e;font-weight:normal;">13</div>
<div class="t" style="left:528.00px;top:384.18px;width:21.00px;height:24.37px;line-height:24.37px;font-size:11px;color:#c78e8e;font-weight:normal;">1</div>
<div class="t" style="left:550.00px;top:384.18px;width:21.00px;height:24.37px;line-height:24.37px;font-size:11px;color:#c78e8e;font-weight:normal;">10</div>
<div class="t" style="left:572.00px;top:384.18px;width:20.00px;height:24.37px;line-height:24.37px;font-size:11px;color:#c78e8e;font-weight:normal;">2</div>
<div class="t" style="left:593.00px;top:384.18px;width:21.00px;height:24.37px;line-height:24.37px;font-size:11px;color:#c78e8e;font-weight:normal;">5</div>
<div class="t" style="left:615.00px;top:384.18px;width:20.00px;height:24.37px;line-height:24.37px;font-size:11px;color:#ff9090;font-weight:normal;">3</div>
<div class="t" style="left:636.00px;top:384.18px;width:21.00px;height:24.37px;line-height:24.37px;font-size:11px;color:#ff9090;font-weight:normal;">10</div>
<div class="t" style="left:658.00px;top:384.18px;width:20.00px;height:24.37px;line-height:24.37px;font-size:11px;color:#ff9090;font-weight:normal;">24</div>
<div class="t" style="left:679.00px;top:384.18px;width:21.00px;height:24.37px;line-height:24.37px;font-size:11px;color:#ff9090;font-weight:normal;">11</div>
<div class="t" style="left:701.00px;top:384.18px;width:20.00px;height:24.37px;line-height:24.37px;font-size:11px;color:#ff9090;font-weight:normal;">1</div>
<div class="t" style="left:722.00px;top:384.18px;width:21.00px;height:24.37px;line-height:24.37px;font-size:11px;color:#ff9090;font-weight:normal;">12</div>
<div class="t" style="left:744.00px;top:384.18px;width:21.00px;height:24.37px;line-height:24.37px;font-size:11px;color:#ff9090;font-weight:normal;">32</div>
<div class="t b" style="left:766.00px;top:384.63px;width:20.00px;height:24.37px;line-height:24.37px;font-size:11px;color:#fff;font-weight:bold;">7</div>
<div class="t" style="left:787.00px;top:384.18px;width:21.00px;height:24.37px;line-height:24.37px;font-size:11px;color:#ff9090;font-weight:normal;">6</div>
<div class="t" style="left:809.00px;top:384.18px;width:20.00px;height:24.37px;line-height:24.37px;font-size:11px;color:#ff9090;font-weight:normal;">2</div>
<div class="t" style="left:0.00px;top:409.55px;width:56.50px;height:24.37px;line-height:24.37px;font-size:11.5px;color:#606060;font-weight:normal;">2025315</div>
<div class="t" style="left:56.50px;top:409.55px;width:42.00px;height:24.37px;line-height:24.37px;font-size:11.5px;color:#606060;font-weight:normal;">921</div>
<div class="t" style="left:98.50px;top:409.55px;width:42.00px;height:24.37px;line-height:24.37px;font-size:11.5px;color:#606060;font-weight:normal;">729</div>
<div class="t" style="left:140.50px;top:409.55px;width:42.00px;height:24.37px;line-height:24.37px;font-size:11.5px;color:#606060;font-weight:normal;">18</div>
<div class="t" style="left:183.00px;top:409.55px;width:21.00px;height:24.37px;line-height:24.37px;font-size:11px;color:#ff9090;font-weight:normal;">18</div>
<div class="t" style="left:205.00px;top:409.55px;width:20.00px;height:24.37px;line-height:24.37px;font-size:11px;color:#ff9090;font-weight:normal;">5</div>
<div class="t" style="left:226.00px;top:409.55px;width:21.00px;height:24.37px;line-height:24.37px;font-size:11px;color:#ff9090;font-weight:normal;">20</div>
<div class="t" style="left:248.00px;top:409.55px;width:21.00px;height:24.37px;line-height:24.37px;font-size:11px;color:#ff9090;font-weight:normal;">10</div>
<div class="t" style="left:270.00px;top:409.55px;width:20.00px;height:24.37px;line-height:24.37px;font-size:11px;color:#ff9090;font-weight:normal;">7</div>
<div class="t" style="left:291.00px;top:409.55px;width:21.00px;height:24.37px;line-height:24.37px;font-size:11px;color:#ff9090;font-weight:normal;">17</div>
<div class="t" style="left:313.00px;top:409.55px;width:20.00px;height:24.37px;line-height:24.37px;font-size:11px;color:#ff9090;font-weight:normal;">2</div>
<div class="t b" style="left:334.00px;top:410.00px;width:21.00px;height:24.37px;line-height:24.37px;font-size:11px;color:#fff;font-weight:bold;">7</div>
<div class="t" style="left:356.00px;top:409.55px;width:20.00px;height:24.37px;line-height:24.37px;font-size:11px;color:#ff9090;font-weight:normal;">15</div>
<div class="t" style="left:377.00px;top:409.55px;width:21.00px;height:24.37px;line-height:24.37px;font-size:11px;color:#ff9090;font-weight:normal;">1</div>
<div class="t" style="left:399.00px;top:409.55px;width:21.00px;height:24.37px;line-height:24.37px;font-size:11px;color:#c78e8e;font-weight:normal;">28</div>
<div class="t" style="left:421.00px;top:409.55px;width:20.00px;height:24.37px;line-height:24.37px;font-size:11px;color:#c78e8e;font-weight:normal;">1</div>
<div class="t b" style="left:442.00px;top:410.00px;width:21.00px;height:24.37px;line-height:24.37px;font-size:11px;color:#fff;font-weight:bold;">2</div>
<div class="t" style="left:464.00px;top:409.55px;width:20.00px;height:24.37px;line-height:24.37px;font-size:11px;color:#c78e8e;font-weight:normal;">12</div>
<div class="t" style="left:485.00px;top:409.55px;width:21.00px;height:24.37px;line-height:24.37px;font-size:11px;color:#c78e8e;font-weight:normal;">4</div>
<div class="t" style="left:507.00px;top:409.55px;width:20.00px;height:24.37px;line-height:24.37px;font-size:11px;color:#c78e8e;font-weight:normal;">14</div>
<div class="t" style="left:528.00px;top:409.55px;width:21.00px;height:24.37px;line-height:24.37px;font-size:11px;color:#c78e8e;font-weight:normal;">2</div>
<div class="t" style="left:550.00px;top:409.55px;width:21.00px;height:24.37px;line-height:24.37px;font-size:11px;color:#c78e8e;font-weight:normal;">11</div>
<div class="t" style="left:572.00px;top:409.55px;width:20.00px;height:24.37px;line-height:24.37px;font-size:11px;color:#c78e8e;font-weight:normal;">3</div>
<div class="t" style="left:593.00px;top:409.55px;width:21.00px;height:24.37px;line-height:24.37px;font-size:11px;color:#c78e8e;font-weight:normal;">6</div>
<div class="t" style="left:615.00px;top:409.55px;width:20.00px;height:24.37px;line-height:24.37px;font-size:11px;color:#ff9090;font-weight:normal;">4</div>
<div class="t" style="left:636.00px;top:409.55px;width:21.00px;height:24.37px;line-height:24.37px;font-size:11px;color:#ff9090;font-weight:normal;">11</div>
<div class="t" style="left:658.00px;top:409.55px;width:20.00px;height:24.37px;line-height:24.37px;font-size:11px;color:#ff9090;font-weight:normal;">25</div>
<div class="t" style="left:679.00px;top:409.55px;width:21.00px;height:24.37px;line-height:24.37px;font-size:11px;color:#ff9090;font-weight:normal;">12</div>
<div class="t" style="left:701.00px;top:409.55px;width:20.00px;height:24.37px;line-height:24.37px;font-size:11px;color:#ff9090;font-weight:normal;">2</div>
<div class="t" style="left:722.00px;top:409.55px;width:21.00px;height:24.37px;line-height:24.37px;font-size:11px;color:#ff9090;font-weight:normal;">13</div>
<div class="t" style="left:744.00px;top:409.55px;width:21.00px;height:24.37px;line-height:24.37px;font-size:11px;color:#ff9090;font-weight:normal;">33</div>
<div class="t" style="left:766.00px;top:409.55px;width:20.00px;height:24.37px;line-height:24.37px;font-size:11px;color:#ff9090;font-weight:normal;">1</div>
<div class="t" style="left:787.00px;top:409.55px;width:21.00px;height:24.37px;line-height:24.37px;font-size:11px;color:#ff9090;font-weight:normal;">7</div>
<div class="t b" style="left:809.00px;top:410.00px;width:20.00px;height:24.37px;line-height:24.37px;font-size:11px;color:#fff;font-weight:bold;">9</div>
<div class="t" style="left:0.00px;top:433.92px;width:56.50px;height:24.37px;line-height:24.37px;font-size:11.5px;color:#606060;font-weight:normal;">2025316</div>
<div class="t b" style="left:56.50px;top:433.92px;width:42.00px;height:24.37px;line-height:24.37px;font-size:11.5px;color:#fff;font-weight:bold;">266</div>
<div class="t b" style="left:98.50px;top:433.92px;width:42.00px;height:24.37px;line-height:24.37px;font-size:11.5px;color:#fff;font-weight:bold;">775</div>
<div class="t" style="left:140.50px;top:433.92px;width:42.00px;height:24.37px;line-height:24.37px;font-size:11.5px;color:#606060;font-weight:normal;">19</div>
<div class="t" style="left:183.00px;top:433.92px;width:21.00px;height:24.37px;line-height:24.37px;font-size:11px;color:#ff9090;font-weight:normal;">19</div>
<div class="t" style="left:205.00px;top:433.92px;width:20.00px;height:24.37px;line-height:24.37px;font-size:11px;color:#ff9090;font-weight:normal;">6</div>
<div class="t" style="left:226.00px;top:433.92px;width:21.00px;height:24.37px;line-height:24.37px;font-size:11px;color:#ff9090;font-weight:normal;">21</div>
<div class="t" style="left:248.00px;top:433.92px;width:21.00px;height:24.37px;line-height:24.37px;font-size:11px;color:#ff9090;font-weight:normal;">11</div>
<div class="t" style="left:270.00px;top:433.92px;width:20.00px;height:24.37px;line-height:24.37px;font-size:11px;color:#ff9090;font-weight:normal;">8</div>
<div class="t" style="left:291.00px;top:433.92px;width:21.00px;height:24.37px;line-height:24.37px;font-size:11px;color:#ff9090;font-weight:normal;">18</div>
<div class="t" style="left:313.00px;top:433.92px;width:20.00px;height:24.37px;line-height:24.37px;font-size:11px;color:#ff9090;font-weight:normal;">3</div>
<div class="t b" style="left:334.00px;top:434.37px;width:21.00px;height:24.37px;line-height:24.37px;font-size:11px;color:#fff;font-weight:bold;">7</div>
<div class="t" style="left:356.00px;top:433.92px;width:20.00px;height:24.37px;line-height:24.37px;font-size:11px;color:#ff9090;font-weight:normal;">16</div>
<div class="t" style="left:377.00px;top:433.92px;width:21.00px;height:24.37px;line-height:24.37px;font-size:11px;color:#ff9090;font-weight:normal;">2</div>
<div class="t" style="left:399.00px;top:433.92px;width:21.00px;height:24.37px;line-height:24.37px;font-size:11px;color:#c78e8e;font-weight:normal;">29</div>
<div class="t" style="left:421.00px;top:433.92px;width:20.00px;height:24.37px;line-height:24.37px;font-size:11px;color:#c78e8e;font-weight:normal;">2</div>
<div class="t" style="left:442.00px;top:433.92px;width:21.00px;height:24.37px;line-height:24.37px;font-size:11px;color:#c78e8e;font-weight:normal;">1</div>
<div class="t" style="left:464.00px;top:433.92px;width:20.00px;height:24.37px;line-height:24.37px;font-size:11px;color:#c78e8e;font-weight:normal;">13</div>
<div class="t" style="left:485.00px;top:433.92px;width:21.00px;height:24.37px;line-height:24.37px;font-size:11px;color:#c78e8e;font-weight:normal;">5</div>
<div class="t" style="left:507.00px;top:433.92px;width:20.00px;height:24.37px;line-height:24.37px;font-size:11px;color:#c78e8e;font-weight:normal;">15</div>
<div class="t" style="left:528.00px;top:433.92px;width:21.00px;height:24.37px;line-height:24.37px;font-size:11px;color:#c78e8e;font-weight:normal;">3</div>
<div class="t b" style="left:550.00px;top:434.37px;width:21.00px;height:24.37px;line-height:24.37px;font-size:11px;color:#fff;font-weight:bold;">7</div>
<div class="t" style="left:572.00px;top:433.92px;width:20.00px;height:24.37px;line-height:24.37px;font-size:11px;color:#c78e8e;font-weight:normal;">4</div>
<div class="t" style="left:593.00px;top:433.92px;width:21.00px;height:24.37px;line-height:24.37px;font-size:11px;color:#c78e8e;font-weight:normal;">7</div>
<div class="t" style="left:615.00px;top:433.92px;width:20.00px;height:24.37px;line-height:24.37px;font-size:11px;color:#ff9090;font-weight:normal;">5</div>
<div class="t" style="left:636.00px;top:433.92px;width:21.00px;height:24.37px;line-height:24.37px;font-size:11px;color:#ff9090;font-weight:normal;">12</div>
<div class="t" style="left:658.00px;top:433.92px;width:20.00px;height:24.37px;line-height:24.37px;font-size:11px;color:#ff9090;font-weight:normal;">26</div>
<div class="t" style="left:679.00px;top:433.92px;width:21.00px;height:24.37px;line-height:24.37px;font-size:11px;color:#ff9090;font-weight:normal;">13</div>
<div class="t" style="left:701.00px;top:433.92px;width:20.00px;height:24.37px;line-height:24.37px;font-size:11px;color:#ff9090;font-weight:normal;">3</div>
<div class="t b" style="left:722.00px;top:434.37px;width:21.00px;height:24.37px;line-height:24.37px;font-size:11px;color:#fff;font-weight:bold;">5</div>
<div class="t" style="left:744.00px;top:433.92px;width:21.00px;height:24.37px;line-height:24.37px;font-size:11px;color:#ff9090;font-weight:normal;">34</div>
<div class="t" style="left:766.00px;top:433.92px;width:20.00px;height:24.37px;line-height:24.37px;font-size:11px;color:#ff9090;font-weight:normal;">2</div>
<div class="t" style="left:787.00px;top:433.92px;width:21.00px;height:24.37px;line-height:24.37px;font-size:11px;color:#ff9090;font-weight:normal;">8</div>
<div class="t" style="left:809.00px;top:433.92px;width:20.00px;height:24.37px;line-height:24.37px;font-size:11px;color:#ff9090;font-weight:normal;">1</div>
<div class="t" style="left:0.00px;top:458.29px;width:56.50px;height:24.37px;line-height:24.37px;font-size:11.5px;color:#606060;font-weight:normal;">2025317</div>
<div class="t b" style="left:56.50px;top:458.29px;width:42.00px;height:24.37px;line-height:24.37px;font-size:11.5px;color:#fff;font-weight:bold;">747</div>
<div class="t" style="left:98.50px;top:458.29px;width:42.00px;height:24.37px;line-height:24.37px;font-size:11.5px;color:#606060;font-weight:normal;">301</div>
<div class="t" style="left:140.50px;top:458.29px;width:42.00px;height:24.37px;line-height:24.37px;font-size:11.5px;color:#606060;font-weight:normal;">4</div>
<div class="t" style="left:183.00px;top:458.29px;width:21.00px;height:24.37px;line-height:24.37px;font-size:11px;color:#ff9090;font-weight:normal;">20</div>
<div class="t" style="left:205.00px;top:458.29px;width:20.00px;height:24.37px;line-height:24.37px;font-size:11px;color:#ff9090;font-weight:normal;">7</div>
<div class="t" style="left:226.00px;top:458.29px;width:21.00px;height:24.37px;line-height:24.37px;font-size:11px;color:#ff9090;font-weight:normal;">22</div>
<div class="t b" style="left:248.00px;top:458.74px;width:21.00px;height:24.37px;line-height:24.37px;font-size:11px;color:#fff;font-weight:bold;">3</div>
<div class="t" style="left:270.00px;top:458.29px;width:20.00px;height:24.37px;line-height:24.37px;font-size:11px;color:#ff9090;font-weight:normal;">9</div>
<div class="t" style="left:291.00px;top:458.29px;width:21.00px;height:24.37px;line-height:24.37px;font-size:11px;color:#ff9090;font-weight:normal;">19</div>
<div class="t" style="left:313.00px;top:458.29px;width:20.00px;height:24.37px;line-height:24.37px;font-size:11px;color:#ff9090;font-weight:normal;">4</div>
<div class="t" style="left:334.00px;top:458.29px;width:21.00px;height:24.37px;line-height:24.37px;font-size:11px;color:#ff9090;font-weight:normal;">1</div>
<div class="t" style="left:356.00px;top:458.29px;width:20.00px;height:24.37px;line-height:24.37px;font-size:11px;color:#ff9090;font-weight:normal;">17</div>
<div class="t" style="left:377.00px;top:458.29px;width:21.00px;height:24.37px;line-height:24.37px;font-size:11px;color:#ff9090;font-weight:normal;">3</div>
<div class="t b" style="left:399.00px;top:458.74px;width:21.00px;height:24.37px;line-height:24.37px;font-size:11px;color:#fff;font-weight:bold;">0</div>
<div class="t" style="left:421.00px;top:458.29px;width:20.00px;height:24.37px;line-height:24.37px;font-size:11px;color:#c78e8e;font-weight:normal;">3</div>
<div class="t" style="left:442.00px;top:458.29px;width:21.00px;height:24.37px;line-height:24.37px;font-size:11px;color:#c78e8e;font-weight:normal;">2</div>
<div class="t" style="left:464.00px;top:458.29px;width:20.00px;height:24.37px;line-height:24.37px;font-size:11px;color:#c78e8e;font-weight:normal;">14</div>
<div class="t" style="left:485.00px;top:458.29px;width:21.00px;height:24.37px;line-height:24.37px;font-size:11px;color:#c78e8e;font-weight:normal;">6</div>
<div class="t" style="left:507.00px;top:458.29px;width:20.00px;height:24.37px;line-height:24.37px;font-size:11px;color:#c78e8e;font-weight:normal;">16</div>
<div class="t" style="left:528.00px;top:458.29px;width:21.00px;height:24.37px;line-height:24.37px;font-size:11px;color:#c78e8e;font-weight:normal;">4</div>
<div class="t" style="left:550.00px;top:458.29px;width:21.00px;height:24.37px;line-height:24.37px;font-size:11px;color:#c78e8e;font-weight:normal;">1</div>
<div class="t" style="left:572.00px;top:458.29px;width:20.00px;height:24.37px;line-height:24.37px;font-size:11px;color:#c78e8e;font-weight:normal;">5</div>
<div class="t" style="left:593.00px;top:458.29px;width:21.00px;height:24.37px;line-height:24.37px;font-size:11px;color:#c78e8e;font-weight:normal;">8</div>
<div class="t" style="left:615.00px;top:458.29px;width:20.00px;height:24.37px;line-height:24.37px;font-size:11px;color:#ff9090;font-weight:normal;">6</div>
<div class="t b" style="left:636.00px;top:458.74px;width:21.00px;height:24.37px;line-height:24.37px;font-size:11px;color:#fff;font-weight:bold;">1</div>
<div class="t" style="left:658.00px;top:458.29px;width:20.00px;height:24.37px;line-height:24.37px;font-size:11px;color:#ff9090;font-weight:normal;">27</div>
<div class="t" style="left:679.00px;top:458.29px;width:21.00px;height:24.37px;line-height:24.37px;font-size:11px;color:#ff9090;font-weight:normal;">14</div>
<div class="t" style="left:701.00px;top:458.29px;width:20.00px;height:24.37px;line-height:24.37px;font-size:11px;color:#ff9090;font-weight:normal;">4</div>
<div class="t" style="left:722.00px;top:458.29px;width:21.00px;height:24.37px;line-height:24.37px;font-size:11px;color:#ff9090;font-weight:normal;">1</div>
<div class="t" style="left:744.00px;top:458.29px;width:21.00px;height:24.37px;line-height:24.37px;font-size:11px;color:#ff9090;font-weight:normal;">35</div>
<div class="t" style="left:766.00px;top:458.29px;width:20.00px;height:24.37px;line-height:24.37px;font-size:11px;color:#ff9090;font-weight:normal;">3</div>
<div class="t" style="left:787.00px;top:458.29px;width:21.00px;height:24.37px;line-height:24.37px;font-size:11px;color:#ff9090;font-weight:normal;">9</div>
<div class="t" style="left:809.00px;top:458.29px;width:20.00px;height:24.37px;line-height:24.37px;font-size:11px;color:#ff9090;font-weight:normal;">2</div>
<div class="t" style="left:0.00px;top:482.66px;width:56.50px;height:24.37px;line-height:24.37px;font-size:11.5px;color:#606060;font-weight:normal;">2025318</div>
<div class="t" style="left:56.50px;top:482.66px;width:42.00px;height:24.37px;line-height:24.37px;font-size:11.5px;color:#606060;font-weight:normal;">983</div>
<div class="t" style="left:98.50px;top:482.66px;width:42.00px;height:24.37px;line-height:24.37px;font-size:11.5px;color:#606060;font-weight:normal;">430</div>
<div class="t" style="left:140.50px;top:482.66px;width:42.00px;height:24.37px;line-height:24.37px;font-size:11.5px;color:#606060;font-weight:normal;">7</div>
<div class="t" style="left:183.00px;top:482.66px;width:21.00px;height:24.37px;line-height:24.37px;font-size:11px;color:#ff9090;font-weight:normal;">21</div>
<div class="t" style="left:205.00px;top:482.66px;width:20.00px;height:24.37px;line-height:24.37px;font-size:11px;color:#ff9090;font-weight:normal;">8</div>
<div class="t" style="left:226.00px;top:482.66px;width:21.00px;height:24.37px;line-height:24.37px;font-size:11px;color:#ff9090;font-weight:normal;">23</div>
<div class="t" style="left:248.00px;top:482.66px;width:21.00px;height:24.37px;line-height:24.37px;font-size:11px;color:#ff9090;font-weight:normal;">1</div>
<div class="t b" style="left:270.00px;top:483.11px;width:20.00px;height:24.37px;line-height:24.37px;font-size:11px;color:#fff;font-weight:bold;">4</div>
<div class="t" style="left:291.00px;top:482.66px;width:21.00px;height:24.37px;line-height:24.37px;font-size:11px;color:#ff9090;font-weight:normal;">20</div>
<div class="t" style="left:313.00px;top:482.66px;width:20.00px;height:24.37px;line-height:24.37px;font-size:11px;color:#ff9090;font-weight:normal;">5</div>
<div class="t" style="left:334.00px;top:482.66px;width:21.00px;height:24.37px;line-height:24.37px;font-size:11px;color:#ff9090;font-weight:normal;">2</div>
<div class="t" style="left:356.00px;top:482.66px;width:20.00px;height:24.37px;line-height:24.37px;font-size:11px;color:#ff9090;font-weight:normal;">18</div>
<div class="t" style="left:377.00px;top:482.66px;width:21.00px;height:24.37px;line-height:24.37px;font-size:11px;color:#ff9090;font-weight:normal;">4</div>
<div class="t" style="left:399.00px;top:482.66px;width:21.00px;height:24.37px;line-height:24.37px;font-size:11px;color:#c78e8e;font-weight:normal;">1</div>
<div class="t" style="left:421.00px;top:482.66px;width:20.00px;height:24.37px;line-height:24.37px;font-size:11px;color:#c78e8e;font-weight:normal;">4</div>
<div class="t" style="left:442.00px;top:482.66px;width:21.00px;height:24.37px;line-height:24.37px;font-size:11px;color:#c78e8e;font-weight:normal;">3</div>
<div class="t b" style="left:464.00px;top:483.11px;width:20.00px;height:24.37px;line-height:24.37px;font-size:11px;color:#fff;font-weight:bold;">3</div>
<div class="t" style="left:485.00px;top:482.66px;width:21.00px;height:24.37px;line-height:24.37px;font-size:11px;color:#c78e8e;font-weight:normal;">7</div>
<div class="t" style="left:507.00px;top:482.66px;width:20.00px;height:24.37px;line-height:24.37px;font-size:11px;color:#c78e8e;font-weight:normal;">17</div>
<div class="t" style="left:528.00px;top:482.66px;width:21.00px;height:24.37px;line-height:24.37px;font-size:11px;color:#c78e8e;font-weight:normal;">5</div>
<div class="t" style="left:550.00px;top:482.66px;width:21.00px;height:24.37px;line-height:24.37px;font-size:11px;color:#c78e8e;font-weight:normal;">2</div>
<div class="t" style="left:572.00px;top:482.66px;width:20.00px;height:24.37px;line-height:24.37px;font-size:11px;color:#c78e8e;font-weight:normal;">6</div>
<div class="t" style="left:593.00px;top:482.66px;width:21.00px;height:24.37px;line-height:24.37px;font-size:11px;color:#c78e8e;font-weight:normal;">9</div>
<div class="t b" style="left:615.00px;top:483.11px;width:20.00px;height:24.37px;line-height:24.37px;font-size:11px;color:#fff;font-weight:bold;">0</div>
<div class="t" style="left:636.00px;top:482.66px;width:21.00px;height:24.37px;line-height:24.37px;font-size:11px;color:#ff9090;font-weight:normal;">1</div>
<div class="t" style="left:658.00px;top:482.66px;width:20.00px;height:24.37px;line-height:24.37px;font-size:11px;color:#ff9090;font-weight:normal;">28</div>
<div class="t" style="left:679.00px;top:482.66px;width:21.00px;height:24.37px;line-height:24.37px;font-size:11px;color:#ff9090;font-weight:normal;">15</div>
<div class="t" style="left:701.00px;top:482.66px;width:20.00px;height:24.37px;line-height:24.37px;font-size:11px;color:#ff9090;font-weight:normal;">5</div>
<div class="t" style="left:722.00px;top:482.66px;width:21.00px;height:24.37px;line-height:24.37px;font-size:11px;color:#ff9090;font-weight:normal;">2</div>
<div class="t" style="left:744.00px;top:482.66px;width:21.00px;height:24.37px;line-height:24.37px;font-size:11px;color:#ff9090;font-weight:normal;">36</div>
<div class="t" style="left:766.00px;top:482.66px;width:20.00px;height:24.37px;line-height:24.37px;font-size:11px;color:#ff9090;font-weight:normal;">4</div>
<div class="t" style="left:787.00px;top:482.66px;width:21.00px;height:24.37px;line-height:24.37px;font-size:11px;color:#ff9090;font-weight:normal;">10</div>
<div class="t" style="left:809.00px;top:482.66px;width:20.00px;height:24.37px;line-height:24.37px;font-size:11px;color:#ff9090;font-weight:normal;">3</div>
<div class="t" style="left:0.00px;top:507.03px;width:56.50px;height:24.37px;line-height:24.37px;font-size:11.5px;color:#606060;font-weight:normal;">2025319</div>
<div class="t" style="left:56.50px;top:507.03px;width:42.00px;height:24.37px;line-height:24.37px;font-size:11.5px;color:#606060;font-weight:normal;">439</div>
<div class="t" style="left:98.50px;top:507.03px;width:42.00px;height:24.37px;line-height:24.37px;font-size:11.5px;color:#606060;font-weight:normal;">294</div>
<div class="t" style="left:140.50px;top:507.03px;width:42.00px;height:24.37px;line-height:24.37px;font-size:11.5px;color:#606060;font-weight:normal;">15</div>
<div class="t" style="left:183.00px;top:507.03px;width:21.00px;height:24.37px;line-height:24.37px;font-size:11px;color:#ff9090;font-weight:normal;">22</div>
<div class="t" style="left:205.00px;top:507.03px;width:20.00px;height:24.37px;line-height:24.37px;font-size:11px;color:#ff9090;font-weight:normal;">9</div>
<div class="t b" style="left:226.00px;top:507.48px;width:21.00px;height:24.37px;line-height:24.37px;font-size:11px;color:#fff;font-weight:bold;">2</div>
<div class="t" style="left:248.00px;top:507.03px;width:21.00px;height:24.37px;line-height:24.37px;font-size:11px;color:#ff9090;font-weight:normal;">2</div>
<div class="t" style="left:270.00px;top:507.03px;width:20.00px;height:24.37px;line-height:24.37px;font-size:11px;color:#ff9090;font-weight:normal;">1</div>
<div class="t" style="left:291.00px;top:507.03px;width:21.00px;height:24.37px;line-height:24.37px;font-size:11px;color:#ff9090;font-weight:normal;">21</div>
<div class="t" style="left:313.00px;top:507.03px;width:20.00px;height:24.37px;line-height:24.37px;font-size:11px;color:#ff9090;font-weight:normal;">6</div>
<div class="t" style="left:334.00px;top:507.03px;width:21.00px;height:24.37px;line-height:24.37px;font-size:11px;color:#ff9090;font-weight:normal;">3</div>
<div class="t" style="left:356.00px;top:507.03px;width:20.00px;height:24.37px;line-height:24.37px;font-size:11px;color:#ff9090;font-weight:normal;">19</div>
<div class="t" style="left:377.00px;top:507.03px;width:21.00px;height:24.37px;line-height:24.37px;font-size:11px;color:#ff9090;font-weight:normal;">5</div>
<div class="t" style="left:399.00px;top:507.03px;width:21.00px;height:24.37px;line-height:24.37px;font-size:11px;color:#c78e8e;font-weight:normal;">2</div>
<div class="t" style="left:421.00px;top:507.03px;width:20.00px;height:24.37px;line-height:24.37px;font-size:11px;color:#c78e8e;font-weight:normal;">5</div>
<div class="t" style="left:442.00px;top:507.03px;width:21.00px;height:24.37px;line-height:24.37px;font-size:11px;color:#c78e8e;font-weight:normal;">4</div>
<div class="t" style="left:464.00px;top:507.03px;width:20.00px;height:24.37px;line-height:24.37px;font-size:11px;color:#c78e8e;font-weight:normal;">1</div>
<div class="t" style="left:485.00px;top:507.03px;width:21.00px;height:24.37px;line-height:24.37px;font-size:11px;color:#c78e8e;font-weight:normal;">8</div>
<div class="t" style="left:507.00px;top:507.03px;width:20.00px;height:24.37px;line-height:24.37px;font-size:11px;color:#c78e8e;font-weight:normal;">18</div>
<div class="t" style="left:528.00px;top:507.03px;width:21.00px;height:24.37px;line-height:24.37px;font-size:11px;color:#c78e8e;font-weight:normal;">6</div>
<div class="t" style="left:550.00px;top:507.03px;width:21.00px;height:24.37px;line-height:24.37px;font-size:11px;color:#c78e8e;font-weight:normal;">3</div>
<div class="t" style="left:572.00px;top:507.03px;width:20.00px;height:24.37px;line-height:24.37px;font-size:11px;color:#c78e8e;font-weight:normal;">7</div>
<div class="t b" style="left:593.00px;top:507.48px;width:21.00px;height:24.37px;line-height:24.37px;font-size:11px;color:#fff;font-weight:bold;">9</div>
<div class="t" style="left:615.00px;top:507.03px;width:20.00px;height:24.37px;line-height:24.37px;font-size:11px;color:#ff9090;font-weight:normal;">1</div>
<div class="t" style="left:636.00px;top:507.03px;width:21.00px;height:24.37px;line-height:24.37px;font-size:11px;color:#ff9090;font-weight:normal;">2</div>
<div class="t" style="left:658.00px;top:507.03px;width:20.00px;height:24.37px;line-height:24.37px;font-size:11px;color:#ff9090;font-weight:normal;">29</div>
<div class="t" style="left:679.00px;top:507.03px;width:21.00px;height:24.37px;line-height:24.37px;font-size:11px;color:#ff9090;font-weight:normal;">16</div>
<div class="t b" style="left:701.00px;top:507.48px;width:20.00px;height:24.37px;line-height:24.37px;font-size:11px;color:#fff;font-weight:bold;">4</div>
<div class="t" style="left:722.00px;top:507.03px;width:21.00px;height:24.37px;line-height:24.37px;font-size:11px;color:#ff9090;font-weight:normal;">3</div>
<div class="t" style="left:744.00px;top:507.03px;width:21.00px;height:24.37px;line-height:24.37px;font-size:11px;color:#ff9090;font-weight:normal;">37</div>
<div class="t" style="left:766.00px;top:507.03px;width:20.00px;height:24.37px;line-height:24.37px;font-size:11px;color:#ff9090;font-weight:normal;">5</div>
<div class="t" style="left:787.00px;top:507.03px;width:21.00px;height:24.37px;line-height:24.37px;font-size:11px;color:#ff9090;font-weight:normal;">11</div>
<div class="t" style="left:809.00px;top:507.03px;width:20.00px;height:24.37px;line-height:24.37px;font-size:11px;color:#ff9090;font-weight:normal;">4</div>
<div class="t" style="left:0.00px;top:532.40px;width:56.50px;height:24.37px;line-height:24.37px;font-size:11.5px;color:#606060;font-weight:normal;">2025320</div>
<div class="t" style="left:56.50px;top:532.40px;width:42.00px;height:24.37px;line-height:24.37px;font-size:11.5px;color:#606060;font-weight:normal;">975</div>
<div class="t b" style="left:98.50px;top:532.40px;width:42.00px;height:24.37px;line-height:24.37px;font-size:11.5px;color:#fff;font-weight:bold;">121</div>
<div class="t" style="left:140.50px;top:532.40px;width:42.00px;height:24.37px;line-height:24.37px;font-size:11.5px;color:#606060;font-weight:normal;">4</div>
<div class="t" style="left:183.00px;top:532.40px;width:21.00px;height:24.37px;line-height:24.37px;font-size:11px;color:#ff9090;font-weight:normal;">23</div>
<div class="t b" style="left:205.00px;top:532.85px;width:20.00px;height:24.37px;line-height:24.37px;font-size:11px;color:#fff;font-weight:bold;">1</div>
<div class="t" style="left:226.00px;top:532.40px;width:21.00px;height:24.37px;line-height:24.37px;font-size:11px;color:#ff9090;font-weight:normal;">1</div>
<div class="t" style="left:248.00px;top:532.40px;width:21.00px;height:24.37px;line-height:24.37px;font-size:11px;color:#ff9090;font-weight:normal;">3</div>
<div class="t" style="left:270.00px;top:532.40px;width:20.00px;height:24.37px;line-height:24.37px;font-size:11px;color:#ff9090;font-weight:normal;">2</div>
<div class="t" style="left:291.00px;top:532.40px;width:21.00px;height:24.37px;line-height:24.37px;font-size:11px;color:#ff9090;font-weight:normal;">22</div>
<div class="t" style="left:313.00px;top:532.40px;width:20.00px;height:24.37px;line-height:24.37px;font-size:11px;color:#ff9090;font-weight:normal;">7</div>
<div class="t" style="left:334.00px;top:532.40px;width:21.00px;height:24.37px;line-height:24.37px;font-size:11px;color:#ff9090;font-weight:normal;">4</div>
<div class="t" style="left:356.00px;top:532.40px;width:20.00px;height:24.37px;line-height:24.37px;font-size:11px;color:#ff9090;font-weight:normal;">20</div>
<div class="t" style="left:377.00px;top:532.40px;width:21.00px;height:24.37px;line-height:24.37px;font-size:11px;color:#ff9090;font-weight:normal;">6</div>
<div class="t" style="left:399.00px;top:532.40px;width:21.00px;height:24.37px;line-height:24.37px;font-size:11px;color:#c78e8e;font-weight:normal;">3</div>
<div class="t" style="left:421.00px;top:532.40px;width:20.00px;height:24.37px;line-height:24.37px;font-size:11px;color:#c78e8e;font-weight:normal;">6</div>
<div class="t b" style="left:442.00px;top:532.85px;width:21.00px;height:24.37px;line-height:24.37px;font-size:11px;color:#fff;font-weight:bold;">2</div>
<div class="t" style="left:464.00px;top:532.40px;width:20.00px;height:24.37px;line-height:24.37px;font-size:11px;color:#c78e8e;font-weight:normal;">2</div>
<div class="t" style="left:485.00px;top:532.40px;width:21.00px;height:24.37px;line-height:24.37px;font-size:11px;color:#c78e8e;font-weight:normal;">9</div>
<div class="t" style="left:507.00px;top:532.40px;width:20.00px;height:24.37px;line-height:24.37px;font-size:11px;color:#c78e8e;font-weight:normal;">19</div>
<div class="t" style="left:528.00px;top:532.40px;width:21.00px;height:24.37px;line-height:24.37px;font-size:11px;color:#c78e8e;font-weight:normal;">7</div>
<div class="t" style="left:550.00px;top:532.40px;width:21.00px;height:24.37px;line-height:24.37px;font-size:11px;color:#c78e8e;font-weight:normal;">4</div>
<div class="t" style="left:572.00px;top:532.40px;width:20.00px;height:24.37px;line-height:24.37px;font-size:11px;color:#c78e8e;font-weight:normal;">8</div>
<div class="t" style="left:593.00px;top:532.40px;width:21.00px;height:24.37px;line-height:24.37px;font-size:11px;color:#c78e8e;font-weight:normal;">1</div>
<div class="t" style="left:615.00px;top:532.40px;width:20.00px;height:24.37px;line-height:24.37px;font-size:11px;color:#ff9090;font-weight:normal;">2</div>
<div class="t b" style="left:636.00px;top:532.85px;width:21.00px;height:24.37px;line-height:24.37px;font-size:11px;color:#fff;font-weight:bold;">1</div>
<div class="t" style="left:658.00px;top:532.40px;width:20.00px;height:24.37px;line-height:24.37px;font-size:11px;color:#ff9090;font-weight:normal;">30</div>
<div class="t" style="left:679.00px;top:532.40px;width:21.00px;height:24.37px;line-height:24.37px;font-size:11px;color:#ff9090;font-weight:normal;">17</div>
<div class="t" style="left:701.00px;top:532.40px;width:20.00px;height:24.37px;line-height:24.37px;font-size:11px;color:#ff9090;font-weight:normal;">1</div>
<div class="t" style="left:722.00px;top:532.40px;width:21.00px;height:24.37px;line-height:24.37px;font-size:11px;color:#ff9090;font-weight:normal;">4</div>
<div class="t" style="left:744.00px;top:532.40px;width:21.00px;height:24.37px;line-height:24.37px;font-size:11px;color:#ff9090;font-weight:normal;">38</div>
<div class="t" style="left:766.00px;top:532.40px;width:20.00px;height:24.37px;line-height:24.37px;font-size:11px;color:#ff9090;font-weight:normal;">6</div>
<div class="t" style="left:787.00px;top:532.40px;width:21.00px;height:24.37px;line-height:24.37px;font-size:11px;color:#ff9090;font-weight:normal;">12</div>
<div class="t" style="left:809.00px;top:532.40px;width:20.00px;height:24.37px;line-height:24.37px;font-size:11px;color:#ff9090;font-weight:normal;">5</div>
<div class="t" style="left:0.00px;top:556.77px;width:56.50px;height:24.37px;line-height:24.37px;font-size:11.5px;color:#606060;font-weight:normal;">2025321</div>
<div class="t" style="left:56.50px;top:556.77px;width:42.00px;height:24.37px;line-height:24.37px;font-size:11.5px;color:#606060;font-weight:normal;">376</div>
<div class="t" style="left:98.50px;top:556.77px;width:42.00px;height:24.37px;line-height:24.37px;font-size:11.5px;color:#606060;font-weight:normal;">847</div>
<div class="t" style="left:140.50px;top:556.77px;width:42.00px;height:24.37px;line-height:24.37px;font-size:11.5px;color:#606060;font-weight:normal;">19</div>
<div class="t" style="left:183.00px;top:556.77px;width:21.00px;height:24.37px;line-height:24.37px;font-size:11px;color:#ff9090;font-weight:normal;">24</div>
<div class="t" style="left:205.00px;top:556.77px;width:20.00px;height:24.37px;line-height:24.37px;font-size:11px;color:#ff9090;font-weight:normal;">1</div>
<div class="t" style="left:226.00px;top:556.77px;width:21.00px;height:24.37px;line-height:24.37px;font-size:11px;color:#ff9090;font-weight:normal;">2</div>
<div class="t" style="left:248.00px;top:556.77px;width:21.00px;height:24.37px;line-height:24.37px;font-size:11px;color:#ff9090;font-weight:normal;">4</div>
<div class="t" style="left:270.00px;top:556.77px;width:20.00px;height:24.37px;line-height:24.37px;font-size:11px;color:#ff9090;font-weight:normal;">3</div>
<div class="t" style="left:291.00px;top:556.77px;width:21.00px;height:24.37px;line-height:24.37px;font-size:11px;color:#ff9090;font-weight:normal;">23</div>
<div class="t" style="left:313.00px;top:556.77px;width:20.00px;height:24.37px;line-height:24.37px;font-size:11px;color:#ff9090;font-weight:normal;">8</div>
<div class="t" style="left:334.00px;top:556.77px;width:21.00px;height:24.37px;line-height:24.37px;font-size:11px;color:#ff9090;font-weight:normal;">5</div>
<div class="t b" style="left:356.00px;top:557.22px;width:20.00px;height:24.37px;line-height:24.37px;font-size:11px;color:#fff;font-weight:bold;">8</div>
<div class="t" style="left:377.00px;top:556.77px;width:21.00px;height:24.37px;line-height:24.37px;font-size:11px;color:#ff9090;font-weight:normal;">7</div>
<div class="t" style="left:399.00px;top:556.77px;width:21.00px;height:24.37px;line-height:24.37px;font-size:11px;color:#c78e8e;font-weight:normal;">4</div>
<div class="t" style="left:421.00px;top:556.77px;width:20.00px;height:24.37px;line-height:24.37px;font-size:11px;color:#c78e8e;font-weight:normal;">7</div>
<div class="t" style="left:442.00px;top:556.77px;width:21.00px;height:24.37px;line-height:24.37px;font-size:11px;color:#c78e8e;font-weight:normal;">1</div>
<div class="t" style="left:464.00px;top:556.77px;width:20.00px;height:24.37px;line-height:24.37px;font-size:11px;color:#c78e8e;font-weight:normal;">3</div>
<div class="t b" style="left:485.00px;top:557.22px;width:21.00px;height:24.37px;line-height:24.37px;font-size:11px;color:#fff;font-weight:bold;">4</div>
<div class="t" style="left:507.00px;top:556.77px;width:20.00px;height:24.37px;line-height:24.37px;font-size:11px;color:#c78e8e;font-weight:normal;">20</div>
<div class="t" style="left:528.00px;top:556.77px;width:21.00px;height:24.37px;line-height:24.37px;font-size:11px;color:#c78e8e;font-weight:normal;">8</div>
<div class="t" style="left:550.00px;top:556.77px;width:21.00px;height:24.37px;line-height:24.37px;font-size:11px;color:#c78e8e;font-weight:normal;">5</div>
<div class="t" style="left:572.00px;top:556.77px;width:20.00px;height:24.37px;line-height:24.37px;font-size:11px;color:#c78e8e;font-weight:normal;">9</div>
<div class="t" style="left:593.00px;top:556.77px;width:21.00px;height:24.37px;line-height:24.37px;font-size:11px;color:#c78e8e;font-weight:normal;">2</div>
<div class="t" style="left:615.00px;top:556.77px;width:20.00px;height:24.37px;line-height:24.37px;font-size:11px;color:#ff9090;font-weight:normal;">3</div>
<div class="t" style="left:636.00px;top:556.77px;width:21.00px;height:24.37px;line-height:24.37px;font-size:11px;color:#ff9090;font-weight:normal;">1</div>
<div class="t" style="left:658.00px;top:556.77px;width:20.00px;height:24.37px;line-height:24.37px;font-size:11px;color:#ff9090;font-weight:normal;">31</div>
<div class="t" style="left:679.00px;top:556.77px;width:21.00px;height:24.37px;line-height:24.37px;font-size:11px;color:#ff9090;font-weight:normal;">18</div>
<div class="t" style="left:701.00px;top:556.77px;width:20.00px;height:24.37px;line-height:24.37px;font-size:11px;color:#ff9090;font-weight:normal;">2</div>
<div class="t" style="left:722.00px;top:556.77px;width:21.00px;height:24.37px;line-height:24.37px;font-size:11px;color:#ff9090;font-weight:normal;">5</div>
<div class="t" style="left:744.00px;top:556.77px;width:21.00px;height:24.37px;line-height:24.37px;font-size:11px;color:#ff9090;font-weight:normal;">39</div>
<div class="t b" style="left:766.00px;top:557.22px;width:20.00px;height:24.37px;line-height:24.37px;font-size:11px;color:#fff;font-weight:bold;">7</div>
<div class="t" style="left:787.00px;top:556.77px;width:21.00px;height:24.37px;line-height:24.37px;font-size:11px;color:#ff9090;font-weight:normal;">13</div>
<div class="t" style="left:809.00px;top:556.77px;width:20.00px;height:24.37px;line-height:24.37px;font-size:11px;color:#ff9090;font-weight:normal;">6</div>
<div class="t" style="left:0.00px;top:581.14px;width:56.50px;height:24.37px;line-height:24.37px;font-size:11.5px;color:#606060;font-weight:normal;">2025322</div>
<div class="t" style="left:56.50px;top:581.14px;width:42.00px;height:24.37px;line-height:24.37px;font-size:11.5px;color:#606060;font-weight:normal;">369</div>
<div class="t b" style="left:98.50px;top:581.14px;width:42.00px;height:24.37px;line-height:24.37px;font-size:11.5px;color:#fff;font-weight:bold;">226</div>
<div class="t" style="left:140.50px;top:581.14px;width:42.00px;height:24.37px;line-height:24.37px;font-size:11.5px;color:#606060;font-weight:normal;">10</div>
<div class="t" style="left:183.00px;top:581.14px;width:21.00px;height:24.37px;line-height:24.37px;font-size:11px;color:#ff9090;font-weight:normal;">25</div>
<div class="t" style="left:205.00px;top:581.14px;width:20.00px;height:24.37px;line-height:24.37px;font-size:11px;color:#ff9090;font-weight:normal;">2</div>
<div class="t b" style="left:226.00px;top:581.59px;width:21.00px;height:24.37px;line-height:24.37px;font-size:11px;color:#fff;font-weight:bold;">2</div>
<div class="t" style="left:248.00px;top:581.14px;width:21.00px;height:24.37px;line-height:24.37px;font-size:11px;color:#ff9090;font-weight:normal;">5</div>
<div class="t" style="left:270.00px;top:581.14px;width:20.00px;height:24.37px;line-height:24.37px;font-size:11px;color:#ff9090;font-weight:normal;">4</div>
<div class="t" style="left:291.00px;top:581.14px;width:21.00px;height:24.37px;line-height:24.37px;font-size:11px;color:#ff9090;font-weight:normal;">24</div>
<div class="t" style="left:313.00px;top:581.14px;width:20.00px;height:24.37px;line-height:24.37px;font-size:11px;color:#ff9090;font-weight:normal;">9</div>
<div class="t" style="left:334.00px;top:581.14px;width:21.00px;height:24.37px;line-height:24.37px;font-size:11px;color:#ff9090;font-weight:normal;">6</div>
<div class="t" style="left:356.00px;top:581.14px;width:20.00px;height:24.37px;line-height:24.37px;font-size:11px;color:#ff9090;font-weight:normal;">1</div>
<div class="t" style="left:377.00px;top:581.14px;width:21.00px;height:24.37px;line-height:24.37px;font-size:11px;color:#ff9090;font-weight:normal;">8</div>
<div class="t" style="left:399.00px;top:581.14px;width:21.00px;height:24.37px;line-height:24.37px;font-size:11px;color:#c78e8e;font-weight:normal;">5</div>
<div class="t" style="left:421.00px;top:581.14px;width:20.00px;height:24.37px;line-height:24.37px;font-size:11px;color:#c78e8e;font-weight:normal;">8</div>
<div class="t b" style="left:442.00px;top:581.59px;width:21.00px;height:24.37px;line-height:24.37px;font-size:11px;color:#fff;font-weight:bold;">2</div>
<div class="t" style="left:464.00px;top:581.14px;width:20.00px;height:24.37px;line-height:24.37px;font-size:11px;color:#c78e8e;font-weight:normal;">4</div>
<div class="t" style="left:485.00px;top:581.14px;width:21.00px;height:24.37px;line-height:24.37px;font-size:11px;color:#c78e8e;font-weight:normal;">1</div>
<div class="t" style="left:507.00px;top:581.14px;width:20.00px;height:24.37px;line-height:24.37px;font-size:11px;color:#c78e8e;font-weight:normal;">21</div>
<div class="t" style="left:528.00px;top:581.14px;width:21.00px;height:24.37px;line-height:24.37px;font-size:11px;color:#c78e8e;font-weight:normal;">9</div>
<div class="t" style="left:550.00px;top:581.14px;width:21.00px;height:24.37px;line-height:24.37px;font-size:11px;color:#c78e8e;font-weight:normal;">6</div>
<div class="t" style="left:572.00px;top:581.14px;width:20.00px;height:24.37px;line-height:24.37px;font-size:11px;color:#c78e8e;font-weight:normal;">10</div>
<div class="t" style="left:593.00px;top:581.14px;width:21.00px;height:24.37px;line-height:24.37px;font-size:11px;color:#c78e8e;font-weight:normal;">3</div>
<div class="t" style="left:615.00px;top:581.14px;width:20.00px;height:24.37px;line-height:24.37px;font-size:11px;color:#ff9090;font-weight:normal;">4</div>
<div class="t" style="left:636.00px;top:581.14px;width:21.00px;height:24.37px;line-height:24.37px;font-size:11px;color:#ff9090;font-weight:normal;">2</div>
<div class="t" style="left:658.00px;top:581.14px;width:20.00px;height:24.37px;line-height:24.37px;font-size:11px;color:#ff9090;font-weight:normal;">32</div>
<div class="t" style="left:679.00px;top:581.14px;width:21.00px;height:24.37px;line-height:24.37px;font-size:11px;color:#ff9090;font-weight:normal;">19</div>
<div class="t" style="left:701.00px;top:581.14px;width:20.00px;height:24.37px;line-height:24.37px;font-size:11px;color:#ff9090;font-weight:normal;">3</div>
<div class="t" style="left:722.00px;top:581.14px;width:21.00px;height:24.37px;line-height:24.37px;font-size:11px;color:#ff9090;font-weight:normal;">6</div>
<div class="t b" style="left:744.00px;top:581.59px;width:21.00px;height:24.37px;line-height:24.37px;font-size:11px;color:#fff;font-weight:bold;">6</div>
<div class="t" style="left:766.00px;top:581.14px;width:20.00px;height:24.37px;line-height:24.37px;font-size:11px;color:#ff9090;font-weight:normal;">1</div>
<div class="t" style="left:787.00px;top:581.14px;width:21.00px;height:24.37px;line-height:24.37px;font-size:11px;color:#ff9090;font-weight:normal;">14</div>
<div class="t" style="left:809.00px;top:581.14px;width:20.00px;height:24.37px;line-height:24.37px;font-size:11px;color:#ff9090;font-weight:normal;">7</div>
<div class="t" style="left:0.00px;top:605.51px;width:56.50px;height:24.37px;line-height:24.37px;font-size:11.5px;color:#606060;font-weight:normal;">2025323</div>
<div class="t" style="left:56.50px;top:605.51px;width:42.00px;height:24.37px;line-height:24.37px;font-size:11.5px;color:#606060;font-weight:normal;">465</div>
<div class="t b" style="left:98.50px;top:605.51px;width:42.00px;height:24.37px;line-height:24.37px;font-size:11.5px;color:#fff;font-weight:bold;">551</div>
<div class="t" style="left:140.50px;top:605.51px;width:42.00px;height:24.37px;line-height:24.37px;font-size:11.5px;color:#606060;font-weight:normal;">11</div>
<div class="t" style="left:183.00px;top:605.51px;width:21.00px;height:24.37px;line-height:24.37px;font-size:11px;color:#ff9090;font-weight:normal;">26</div>
<div class="t" style="left:205.00px;top:605.51px;width:20.00px;height:24.37px;line-height:24.37px;font-size:11px;color:#ff9090;font-weight:normal;">3</div>
<div class="t" style="left:226.00px;top:605.51px;width:21.00px;height:24.37px;line-height:24.37px;font-size:11px;color:#ff9090;font-weight:normal;">1</div>
<div class="t" style="left:248.00px;top:605.51px;width:21.00px;height:24.37px;line-height:24.37px;font-size:11px;color:#ff9090;font-weight:normal;">6</div>
<div class="t" style="left:270.00px;top:605.51px;width:20.00px;height:24.37px;line-height:24.37px;font-size:11px;color:#ff9090;font-weight:normal;">5</div>
<div class="t b" style="left:291.00px;top:605.96px;width:21.00px;height:24.37px;line-height:24.37px;font-size:11px;color:#fff;font-weight:bold;">5</div>
<div class="t" style="left:313.00px;top:605.51px;width:20.00px;height:24.37px;line-height:24.37px;font-size:11px;color:#ff9090;font-weight:normal;">10</div>
<div class="t" style="left:334.00px;top:605.51px;width:21.00px;height:24.37px;line-height:24.37px;font-size:11px;color:#ff9090;font-weight:normal;">7</div>
<div class="t" style="left:356.00px;top:605.51px;width:20.00px;height:24.37px;line-height:24.37px;font-size:11px;color:#ff9090;font-weight:normal;">2</div>
<div class="t" style="left:377.00px;top:605.51px;width:21.00px;height:24.37px;line-height:24.37px;font-size:11px;color:#ff9090;font-weight:normal;">9</div>
<div class="t" style="left:399.00px;top:605.51px;width:21.00px;height:24.37px;line-height:24.37px;font-size:11px;color:#c78e8e;font-weight:normal;">6</div>
<div class="t" style="left:421.00px;top:605.51px;width:20.00px;height:24.37px;line-height:24.37px;font-size:11px;color:#c78e8e;font-weight:normal;">9</div>
<div class="t" style="left:442.00px;top:605.51px;width:21.00px;height:24.37px;line-height:24.37px;font-size:11px;color:#c78e8e;font-weight:normal;">1</div>
<div class="t" style="left:464.00px;top:605.51px;width:20.00px;height:24.37px;line-height:24.37px;font-size:11px;color:#c78e8e;font-weight:normal;">5</div>
<div class="t" style="left:485.00px;top:605.51px;width:21.00px;height:24.37px;line-height:24.37px;font-size:11px;color:#c78e8e;font-weight:normal;">2</div>
<div class="t b" style="left:507.00px;top:605.96px;width:20.00px;height:24.37px;line-height:24.37px;font-size:11px;color:#fff;font-weight:bold;">5</div>
<div class="t" style="left:528.00px;top:605.51px;width:21.00px;height:24.37px;line-height:24.37px;font-size:11px;color:#c78e8e;font-weight:normal;">10</div>
<div class="t" style="left:550.00px;top:605.51px;width:21.00px;height:24.37px;line-height:24.37px;font-size:11px;color:#c78e8e;font-weight:normal;">7</div>
<div class="t" style="left:572.00px;top:605.51px;width:20.00px;height:24.37px;line-height:24.37px;font-size:11px;color:#c78e8e;font-weight:normal;">11</div>
<div class="t" style="left:593.00px;top:605.51px;width:21.00px;height:24.37px;line-height:24.37px;font-size:11px;color:#c78e8e;font-weight:normal;">4</div>
<div class="t" style="left:615.00px;top:605.51px;width:20.00px;height:24.37px;line-height:24.37px;font-size:11px;color:#ff9090;font-weight:normal;">5</div>
<div class="t b" style="left:636.00px;top:605.96px;width:21.00px;height:24.37px;line-height:24.37px;font-size:11px;color:#fff;font-weight:bold;">1</div>
<div class="t" style="left:658.00px;top:605.51px;width:20.00px;height:24.37px;line-height:24.37px;font-size:11px;color:#ff9090;font-weight:normal;">33</div>
<div class="t" style="left:679.00px;top:605.51px;width:21.00px;height:24.37px;line-height:24.37px;font-size:11px;color:#ff9090;font-weight:normal;">20</div>
<div class="t" style="left:701.00px;top:605.51px;width:20.00px;height:24.37px;line-height:24.37px;font-size:11px;color:#ff9090;font-weight:normal;">4</div>
<div class="t" style="left:722.00px;top:605.51px;width:21.00px;height:24.37px;line-height:24.37px;font-size:11px;color:#ff9090;font-weight:normal;">7</div>
<div class="t" style="left:744.00px;top:605.51px;width:21.00px;height:24.37px;line-height:24.37px;font-size:11px;color:#ff9090;font-weight:normal;">1</div>
<div class="t" style="left:766.00px;top:605.51px;width:20.00px;height:24.37px;line-height:24.37px;font-size:11px;color:#ff9090;font-weight:normal;">2</div>
<div class="t" style="left:787.00px;top:605.51px;width:21.00px;height:24.37px;line-height:24.37px;font-size:11px;color:#ff9090;font-weight:normal;">15</div>
<div class="t" style="left:809.00px;top:605.51px;width:20.00px;height:24.37px;line-height:24.37px;font-size:11px;color:#ff9090;font-weight:normal;">8</div>
<div class="t" style="left:0.00px;top:629.88px;width:56.50px;height:24.37px;line-height:24.37px;font-size:11.5px;color:#606060;font-weight:normal;">2025324</div>
<div class="t" style="left:56.50px;top:629.88px;width:42.00px;height:24.37px;line-height:24.37px;font-size:11.5px;color:#606060;font-weight:normal;">863</div>
<div class="t b" style="left:98.50px;top:629.88px;width:42.00px;height:24.37px;line-height:24.37px;font-size:11.5px;color:#fff;font-weight:bold;">661</div>
<div class="t" style="left:140.50px;top:629.88px;width:42.00px;height:24.37px;line-height:24.37px;font-size:11.5px;color:#606060;font-weight:normal;">13</div>
<div class="t" style="left:183.00px;top:629.88px;width:21.00px;height:24.37px;line-height:24.37px;font-size:11px;color:#ff9090;font-weight:normal;">27</div>
<div class="t" style="left:205.00px;top:629.88px;width:20.00px;height:24.37px;line-height:24.37px;font-size:11px;color:#ff9090;font-weight:normal;">4</div>
<div class="t" style="left:226.00px;top:629.88px;width:21.00px;height:24.37px;line-height:24.37px;font-size:11px;color:#ff9090;font-weight:normal;">2</div>
<div class="t" style="left:248.00px;top:629.88px;width:21.00px;height:24.37px;line-height:24.37px;font-size:11px;color:#ff9090;font-weight:normal;">7</div>
<div class="t" style="left:270.00px;top:629.88px;width:20.00px;height:24.37px;line-height:24.37px;font-size:11px;color:#ff9090;font-weight:normal;">6</div>
<div class="t" style="left:291.00px;top:629.88px;width:21.00px;height:24.37px;line-height:24.37px;font-size:11px;color:#ff9090;font-weight:normal;">1</div>
<div class="t b" style="left:313.00px;top:630.33px;width:20.00px;height:24.37px;line-height:24.37px;font-size:11px;color:#fff;font-weight:bold;">6</div>
<div class="t" style="left:334.00px;top:629.88px;width:21.00px;height:24.37px;line-height:24.37px;font-size:11px;color:#ff9090;font-weight:normal;">8</div>
<div class="t" style="left:356.00px;top:629.88px;width:20.00px;height:24.37px;line-height:24.37px;font-size:11px;color:#ff9090;font-weight:normal;">3</div>
<div class="t" style="left:377.00px;top:629.88px;width:21.00px;height:24.37px;line-height:24.37px;font-size:11px;color:#ff9090;font-weight:normal;">10</div>
<div class="t" style="left:399.00px;top:629.88px;width:21.00px;height:24.37px;line-height:24.37px;font-size:11px;color:#c78e8e;font-weight:normal;">7</div>
<div class="t" style="left:421.00px;top:629.88px;width:20.00px;height:24.37px;line-height:24.37px;font-size:11px;color:#c78e8e;font-weight:normal;">10</div>
<div class="t" style="left:442.00px;top:629.88px;width:21.00px;height:24.37px;line-height:24.37px;font-size:11px;color:#c78e8e;font-weight:normal;">2</div>
<div class="t" style="left:464.00px;top:629.88px;width:20.00px;height:24.37px;line-height:24.37px;font-size:11px;color:#c78e8e;font-weight:normal;">6</div>
<div class="t" style="left:485.00px;top:629.88px;width:21.00px;height:24.37px;line-height:24.37px;font-size:11px;color:#c78e8e;font-weight:normal;">3</div>
<div class="t" style="left:507.00px;top:629.88px;width:20.00px;height:24.37px;line-height:24.37px;font-size:11px;color:#c78e8e;font-weight:normal;">1</div>
<div class="t b" style="left:528.00px;top:630.33px;width:21.00px;height:24.37px;line-height:24.37px;font-size:11px;color:#fff;font-weight:bold;">6</div>
<div class="t" style="left:550.00px;top:629.88px;width:21.00px;height:24.37px;line-height:24.37px;font-size:11px;color:#c78e8e;font-weight:normal;">8</div>
<div class="t" style="left:572.00px;top:629.88px;width:20.00px;height:24.37px;line-height:24.37px;font-size:11px;color:#c78e8e;font-weight:normal;">12</div>
<div class="t" style="left:593.00px;top:629.88px;width:21.00px;height:24.37px;line-height:24.37px;font-size:11px;color:#c78e8e;font-weight:normal;">5</div>
<div class="t" style="left:615.00px;top:629.88px;width:20.00px;height:24.37px;line-height:24.37px;font-size:11px;color:#ff9090;font-weight:normal;">6</div>
<div class="t b" style="left:636.00px;top:630.33px;width:21.00px;height:24.37px;line-height:24.37px;font-size:11px;color:#fff;font-weight:bold;">1</div>
<div class="t" style="left:658.00px;top:629.88px;width:20.00px;height:24.37px;line-height:24.37px;font-size:11px;color:#ff9090;font-weight:normal;">34</div>
<div class="t" style="left:679.00px;top:629.88px;width:21.00px;height:24.37px;line-height:24.37px;font-size:11px;color:#ff9090;font-weight:normal;">21</div>
<div class="t" style="left:701.00px;top:629.88px;width:20.00px;height:24.37px;line-height:24.37px;font-size:11px;color:#ff9090;font-weight:normal;">5</div>
<div class="t" style="left:722.00px;top:629.88px;width:21.00px;height:24.37px;line-height:24.37px;font-size:11px;color:#ff9090;font-weight:normal;">8</div>
<div class="t" style="left:744.00px;top:629.88px;width:21.00px;height:24.37px;line-height:24.37px;font-size:11px;color:#ff9090;font-weight:normal;">2</div>
<div class="t" style="left:766.00px;top:629.88px;width:20.00px;height:24.37px;line-height:24.37px;font-size:11px;color:#ff9090;font-weight:normal;">3</div>
<div class="t" style="left:787.00px;top:629.88px;width:21.00px;height:24.37px;line-height:24.37px;font-size:11px;color:#ff9090;font-weight:normal;">16</div>
<div class="t" style="left:809.00px;top:629.88px;width:20.00px;height:24.37px;line-height:24.37px;font-size:11px;color:#ff9090;font-weight:normal;">9</div>
<div class="t" style="left:0.00px;top:655.25px;width:56.50px;height:24.37px;line-height:24.37px;font-size:11.5px;color:#606060;font-weight:normal;">2025325</div>
<div class="t b" style="left:56.50px;top:655.25px;width:42.00px;height:24.37px;line-height:24.37px;font-size:11.5px;color:#fff;font-weight:bold;">554</div>
<div class="t" style="left:98.50px;top:655.25px;width:42.00px;height:24.37px;line-height:24.37px;font-size:11.5px;color:#606060;font-weight:normal;">165</div>
<div class="t" style="left:140.50px;top:655.25px;width:42.00px;height:24.37px;line-height:24.37px;font-size:11.5px;color:#606060;font-weight:normal;">12</div>
<div class="t" style="left:183.00px;top:655.25px;width:21.00px;height:24.37px;line-height:24.37px;font-size:11px;color:#ff9090;font-weight:normal;">28</div>
<div class="t b" style="left:205.00px;top:655.70px;width:20.00px;height:24.37px;line-height:24.37px;font-size:11px;color:#fff;font-weight:bold;">1</div>
<div class="t" style="left:226.00px;top:655.25px;width:21.00px;height:24.37px;line-height:24.37px;font-size:11px;color:#ff9090;font-weight:normal;">3</div>
<div class="t" style="left:248.00px;top:655.25px;width:21.00px;height:24.37px;line-height:24.37px;font-size:11px;color:#ff9090;font-weight:normal;">8</div>
<div class="t" style="left:270.00px;top:655.25px;width:20.00px;height:24.37px;line-height:24.37px;font-size:11px;color:#ff9090;font-weight:normal;">7</div>
<div class="t" style="left:291.00px;top:655.25px;width:21.00px;height:24.37px;line-height:24.37px;font-size:11px;color:#ff9090;font-weight:normal;">2</div>
<div class="t" style="left:313.00px;top:655.25px;width:20.00px;height:24.37px;line-height:24.37px;font-size:11px;color:#ff9090;font-weight:normal;">1</div>
<div class="t" style="left:334.00px;top:655.25px;width:21.00px;height:24.37px;line-height:24.37px;font-size:11px;color:#ff9090;font-weight:normal;">9</div>
<div class="t" style="left:356.00px;top:655.25px;width:20.00px;height:24.37px;line-height:24.37px;font-size:11px;color:#ff9090;font-weight:normal;">4</div>
<div class="t" style="left:377.00px;top:655.25px;width:21.00px;height:24.37px;line-height:24.37px;font-size:11px;color:#ff9090;font-weight:normal;">11</div>
<div class="t" style="left:399.00px;top:655.25px;width:21.00px;height:24.37px;line-height:24.37px;font-size:11px;color:#c78e8e;font-weight:normal;">8</div>
<div class="t" style="left:421.00px;top:655.25px;width:20.00px;height:24.37px;line-height:24.37px;font-size:11px;color:#c78e8e;font-weight:normal;">11</div>
<div class="t" style="left:442.00px;top:655.25px;width:21.00px;height:24.37px;line-height:24.37px;font-size:11px;color:#c78e8e;font-weight:normal;">3</div>
<div class="t" style="left:464.00px;top:655.25px;width:20.00px;height:24.37px;line-height:24.37px;font-size:11px;color:#c78e8e;font-weight:normal;">7</div>
<div class="t" style="left:485.00px;top:655.25px;width:21.00px;height:24.37px;line-height:24.37px;font-size:11px;color:#c78e8e;font-weight:normal;">4</div>
<div class="t" style="left:507.00px;top:655.25px;width:20.00px;height:24.37px;line-height:24.37px;font-size:11px;color:#c78e8e;font-weight:normal;">2</div>
<div class="t b" style="left:528.00px;top:655.70px;width:21.00px;height:24.37px;line-height:24.37px;font-size:11px;color:#fff;font-weight:bold;">6</div>
<div class="t" style="left:550.00px;top:655.25px;width:21.00px;height:24.37px;line-height:24.37px;font-size:11px;color:#c78e8e;font-weight:normal;">9</div>
<div class="t" style="left:572.00px;top:655.25px;width:20.00px;height:24.37px;line-height:24.37px;font-size:11px;color:#c78e8e;font-weight:normal;">13</div>
<div class="t" style="left:593.00px;top:655.25px;width:21.00px;height:24.37px;line-height:24.37px;font-size:11px;color:#c78e8e;font-weight:normal;">6</div>
<div class="t" style="left:615.00px;top:655.25px;width:20.00px;height:24.37px;line-height:24.37px;font-size:11px;color:#ff9090;font-weight:normal;">7</div>
<div class="t" style="left:636.00px;top:655.25px;width:21.00px;height:24.37px;line-height:24.37px;font-size:11px;color:#ff9090;font-weight:normal;">1</div>
<div class="t" style="left:658.00px;top:655.25px;width:20.00px;height:24.37px;line-height:24.37px;font-size:11px;color:#ff9090;font-weight:normal;">35</div>
<div class="t" style="left:679.00px;top:655.25px;width:21.00px;height:24.37px;line-height:24.37px;font-size:11px;color:#ff9090;font-weight:normal;">22</div>
<div class="t" style="left:701.00px;top:655.25px;width:20.00px;height:24.37px;line-height:24.37px;font-size:11px;color:#ff9090;font-weight:normal;">6</div>
<div class="t b" style="left:722.00px;top:655.70px;width:21.00px;height:24.37px;line-height:24.37px;font-size:11px;color:#fff;font-weight:bold;">5</div>
<div class="t" style="left:744.00px;top:655.25px;width:21.00px;height:24.37px;line-height:24.37px;font-size:11px;color:#ff9090;font-weight:normal;">3</div>
<div class="t" style="left:766.00px;top:655.25px;width:20.00px;height:24.37px;line-height:24.37px;font-size:11px;color:#ff9090;font-weight:normal;">4</div>
<div class="t" style="left:787.00px;top:655.25px;width:21.00px;height:24.37px;line-height:24.37px;font-size:11px;color:#ff9090;font-weight:normal;">17</div>
<div class="t" style="left:809.00px;top:655.25px;width:20.00px;height:24.37px;line-height:24.37px;font-size:11px;color:#ff9090;font-weight:normal;">10</div>
<div class="t" style="left:0.00px;top:679.62px;width:56.50px;height:24.37px;line-height:24.37px;font-size:11.5px;color:#606060;font-weight:normal;">2025326</div>
<div class="t b" style="left:56.50px;top:679.62px;width:42.00px;height:24.37px;line-height:24.37px;font-size:11.5px;color:#fff;font-weight:bold;">448</div>
<div class="t" style="left:98.50px;top:679.62px;width:42.00px;height:24.37px;line-height:24.37px;font-size:11.5px;color:#606060;font-weight:normal;">185</div>
<div class="t" style="left:140.50px;top:679.62px;width:42.00px;height:24.37px;line-height:24.37px;font-size:11.5px;color:#606060;font-weight:normal;">14</div>
<div class="t" style="left:183.00px;top:679.62px;width:21.00px;height:24.37px;line-height:24.37px;font-size:11px;color:#ff9090;font-weight:normal;">29</div>
<div class="t b" style="left:205.00px;top:680.07px;width:20.00px;height:24.37px;line-height:24.37px;font-size:11px;color:#fff;font-weight:bold;">1</div>
<div class="t" style="left:226.00px;top:679.62px;width:21.00px;height:24.37px;line-height:24.37px;font-size:11px;color:#ff9090;font-weight:normal;">4</div>
<div class="t" style="left:248.00px;top:679.62px;width:21.00px;height:24.37px;line-height:24.37px;font-size:11px;color:#ff9090;font-weight:normal;">9</div>
<div class="t" style="left:270.00px;top:679.62px;width:20.00px;height:24.37px;line-height:24.37px;font-size:11px;color:#ff9090;font-weight:normal;">8</div>
<div class="t" style="left:291.00px;top:679.62px;width:21.00px;height:24.37px;line-height:24.37px;font-size:11px;color:#ff9090;font-weight:normal;">3</div>
<div class="t" style="left:313.00px;top:679.62px;width:20.00px;height:24.37px;line-height:24.37px;font-size:11px;color:#ff9090;font-weight:normal;">2</div>
<div class="t" style="left:334.00px;top:679.62px;width:21.00px;height:24.37px;line-height:24.37px;font-size:11px;color:#ff9090;font-weight:normal;">10</div>
<div class="t" style="left:356.00px;top:679.62px;width:20.00px;height:24.37px;line-height:24.37px;font-size:11px;color:#ff9090;font-weight:normal;">5</div>
<div class="t" style="left:377.00px;top:679.62px;width:21.00px;height:24.37px;line-height:24.37px;font-size:11px;color:#ff9090;font-weight:normal;">12</div>
<div class="t" style="left:399.00px;top:679.62px;width:21.00px;height:24.37px;line-height:24.37px;font-size:11px;color:#c78e8e;font-weight:normal;">9</div>
<div class="t" style="left:421.00px;top:679.62px;width:20.00px;height:24.37px;line-height:24.37px;font-size:11px;color:#c78e8e;font-weight:normal;">12</div>
<div class="t" style="left:442.00px;top:679.62px;width:21.00px;height:24.37px;line-height:24.37px;font-size:11px;color:#c78e8e;font-weight:normal;">4</div>
<div class="t" style="left:464.00px;top:679.62px;width:20.00px;height:24.37px;line-height:24.37px;font-size:11px;color:#c78e8e;font-weight:normal;">8</div>
<div class="t" style="left:485.00px;top:679.62px;width:21.00px;height:24.37px;line-height:24.37px;font-size:11px;color:#c78e8e;font-weight:normal;">5</div>
<div class="t" style="left:507.00px;top:679.62px;width:20.00px;height:24.37px;line-height:24.37px;font-size:11px;color:#c78e8e;font-weight:normal;">3</div>
<div class="t" style="left:528.00px;top:679.62px;width:21.00px;height:24.37px;line-height:24.37px;font-size:11px;color:#c78e8e;font-weight:normal;">1</div>
<div class="t" style="left:550.00px;top:679.62px;width:21.00px;height:24.37px;line-height:24.37px;font-size:11px;color:#c78e8e;font-weight:normal;">10</div>
<div class="t b" style="left:572.00px;top:680.07px;width:20.00px;height:24.37px;line-height:24.37px;font-size:11px;color:#fff;font-weight:bold;">8</div>
<div class="t" style="left:593.00px;top:679.62px;width:21.00px;height:24.37px;line-height:24.37px;font-size:11px;color:#c78e8e;font-weight:normal;">7</div>
<div class="t" style="left:615.00px;top:679.62px;width:20.00px;height:24.37px;line-height:24.37px;font-size:11px;color:#ff9090;font-weight:normal;">8</div>
<div class="t" style="left:636.00px;top:679.62px;width:21.00px;height:24.37px;line-height:24.37px;font-size:11px;color:#ff9090;font-weight:normal;">2</div>
<div class="t" style="left:658.00px;top:679.62px;width:20.00px;height:24.37px;line-height:24.37px;font-size:11px;color:#ff9090;font-weight:normal;">36</div>
<div class="t" style="left:679.00px;top:679.62px;width:21.00px;height:24.37px;line-height:24.37px;font-size:11px;color:#ff9090;font-weight:normal;">23</div>
<div class="t" style="left:701.00px;top:679.62px;width:20.00px;height:24.37px;line-height:24.37px;font-size:11px;color:#ff9090;font-weight:normal;">7</div>
<div class="t b" style="left:722.00px;top:680.07px;width:21.00px;height:24.37px;line-height:24.37px;font-size:11px;color:#fff;font-weight:bold;">5</div>
<div class="t" style="left:744.00px;top:679.62px;width:21.00px;height:24.37px;line-height:24.37px;font-size:11px;color:#ff9090;font-weight:normal;">4</div>
<div class="t" style="left:766.00px;top:679.62px;width:20.00px;height:24.37px;line-height:24.37px;font-size:11px;color:#ff9090;font-weight:normal;">5</div>
<div class="t" style="left:787.00px;top:679.62px;width:21.00px;height:24.37px;line-height:24.37px;font-size:11px;color:#ff9090;font-weight:normal;">18</div>
<div class="t" style="left:809.00px;top:679.62px;width:20.00px;height:24.37px;line-height:24.37px;font-size:11px;color:#ff9090;font-weight:normal;">11</div>
<div class="t" style="left:0.00px;top:703.99px;width:56.50px;height:24.37px;line-height:24.37px;font-size:11.5px;color:#606060;font-weight:normal;">2025327</div>
<div class="t" style="left:56.50px;top:703.99px;width:42.00px;height:24.37px;line-height:24.37px;font-size:11.5px;color:#606060;font-weight:normal;">865</div>
<div class="t" style="left:98.50px;top:703.99px;width:42.00px;height:24.37px;line-height:24.37px;font-size:11.5px;color:#606060;font-weight:normal;">789</div>
<div class="t" style="left:140.50px;top:703.99px;width:42.00px;height:24.37px;line-height:24.37px;font-size:11.5px;color:#606060;font-weight:normal;">24</div>
<div class="t" style="left:183.00px;top:703.99px;width:21.00px;height:24.37px;line-height:24.37px;font-size:11px;color:#ff9090;font-weight:normal;">30</div>
<div class="t" style="left:205.00px;top:703.99px;width:20.00px;height:24.37px;line-height:24.37px;font-size:11px;color:#ff9090;font-weight:normal;">1</div>
<div class="t" style="left:226.00px;top:703.99px;width:21.00px;height:24.37px;line-height:24.37px;font-size:11px;color:#ff9090;font-weight:normal;">5</div>
<div class="t" style="left:248.00px;top:703.99px;width:21.00px;height:24.37px;line-height:24.37px;font-size:11px;color:#ff9090;font-weight:normal;">10</div>
<div class="t" style="left:270.00px;top:703.99px;width:20.00px;height:24.37px;line-height:24.37px;font-size:11px;color:#ff9090;font-weight:normal;">9</div>
<div class="t" style="left:291.00px;top:703.99px;width:21.00px;height:24.37px;line-height:24.37px;font-size:11px;color:#ff9090;font-weight:normal;">4</div>
<div class="t" style="left:313.00px;top:703.99px;width:20.00px;height:24.37px;line-height:24.37px;font-size:11px;color:#ff9090;font-weight:normal;">3</div>
<div class="t b" style="left:334.00px;top:704.44px;width:21.00px;height:24.37px;line-height:24.37px;font-size:11px;color:#fff;font-weight:bold;">7</div>
<div class="t" style="left:356.00px;top:703.99px;width:20.00px;height:24.37px;line-height:24.37px;font-size:11px;color:#ff9090;font-weight:normal;">6</div>
<div class="t" style="left:377.00px;top:703.99px;width:21.00px;height:24.37px;line-height:24.37px;font-size:11px;color:#ff9090;font-weight:normal;">13</div>
<div class="t" style="left:399.00px;top:703.99px;width:21.00px;height:24.37px;line-height:24.37px;font-size:11px;color:#c78e8e;font-weight:normal;">10</div>
<div class="t" style="left:421.00px;top:703.99px;width:20.00px;height:24.37px;line-height:24.37px;font-size:11px;color:#c78e8e;font-weight:normal;">13</div>
<div class="t" style="left:442.00px;top:703.99px;width:21.00px;height:24.37px;line-height:24.37px;font-size:11px;color:#c78e8e;font-weight:normal;">5</div>
<div class="t" style="left:464.00px;top:703.99px;width:20.00px;height:24.37px;line-height:24.37px;font-size:11px;color:#c78e8e;font-weight:normal;">9</div>
<div class="t" style="left:485.00px;top:703.99px;width:21.00px;height:24.37px;line-height:24.37px;font-size:11px;color:#c78e8e;font-weight:normal;">6</div>
<div class="t" style="left:507.00px;top:703.99px;width:20.00px;height:24.37px;line-height:24.37px;font-size:11px;color:#c78e8e;font-weight:normal;">4</div>
<div class="t" style="left:528.00px;top:703.99px;width:21.00px;height:24.37px;line-height:24.37px;font-size:11px;color:#c78e8e;font-weight:normal;">2</div>
<div class="t" style="left:550.00px;top:703.99px;width:21.00px;height:24.37px;line-height:24.37px;font-size:11px;color:#c78e8e;font-weight:normal;">11</div>
<div class="t b" style="left:572.00px;top:704.44px;width:20.00px;height:24.37px;line-height:24.37px;font-size:11px;color:#fff;font-weight:bold;">8</div>
<div class="t" style="left:593.00px;top:703.99px;width:21.00px;height:24.37px;line-height:24.37px;font-size:11px;color:#c78e8e;font-weight:normal;">8</div>
<div class="t" style="left:615.00px;top:703.99px;width:20.00px;height:24.37px;line-height:24.37px;font-size:11px;color:#ff9090;font-weight:normal;">9</div>
<div class="t" style="left:636.00px;top:703.99px;width:21.00px;height:24.37px;line-height:24.37px;font-size:11px;color:#ff9090;font-weight:normal;">3</div>
<div class="t" style="left:658.00px;top:703.99px;width:20.00px;height:24.37px;line-height:24.37px;font-size:11px;color:#ff9090;font-weight:normal;">37</div>
<div class="t" style="left:679.00px;top:703.99px;width:21.00px;height:24.37px;line-height:24.37px;font-size:11px;color:#ff9090;font-weight:normal;">24</div>
<div class="t" style="left:701.00px;top:703.99px;width:20.00px;height:24.37px;line-height:24.37px;font-size:11px;color:#ff9090;font-weight:normal;">8</div>
<div class="t" style="left:722.00px;top:703.99px;width:21.00px;height:24.37px;line-height:24.37px;font-size:11px;color:#ff9090;font-weight:normal;">1</div>
<div class="t" style="left:744.00px;top:703.99px;width:21.00px;height:24.37px;line-height:24.37px;font-size:11px;color:#ff9090;font-weight:normal;">5</div>
<div class="t" style="left:766.00px;top:703.99px;width:20.00px;height:24.37px;line-height:24.37px;font-size:11px;color:#ff9090;font-weight:normal;">6</div>
<div class="t" style="left:787.00px;top:703.99px;width:21.00px;height:24.37px;line-height:24.37px;font-size:11px;color:#ff9090;font-weight:normal;">19</div>
<div class="t b" style="left:809.00px;top:704.44px;width:20.00px;height:24.37px;line-height:24.37px;font-size:11px;color:#fff;font-weight:bold;">9</div>
<div class="t" style="left:0.00px;top:728.36px;width:56.50px;height:24.37px;line-height:24.37px;font-size:11.5px;color:#606060;font-weight:normal;">2025328</div>
<div class="t" style="left:56.50px;top:728.36px;width:42.00px;height:24.37px;line-height:24.37px;font-size:11.5px;color:#606060;font-weight:normal;">683</div>
<div class="t b" style="left:98.50px;top:728.36px;width:42.00px;height:24.37px;line-height:24.37px;font-size:11.5px;color:#fff;font-weight:bold;">040</div>
<div class="t" style="left:140.50px;top:728.36px;width:42.00px;height:24.37px;line-height:24.37px;font-size:11.5px;color:#606060;font-weight:normal;">4</div>
<div class="t b" style="left:183.00px;top:728.81px;width:21.00px;height:24.37px;line-height:24.37px;font-size:11px;color:#fff;font-weight:bold;">0</div>
<div class="t" style="left:205.00px;top:728.36px;width:20.00px;height:24.37px;line-height:24.37px;font-size:11px;color:#ff9090;font-weight:normal;">2</div>
<div class="t" style="left:226.00px;top:728.36px;width:21.00px;height:24.37px;line-height:24.37px;font-size:11px;color:#ff9090;font-weight:normal;">6</div>
<div class="t" style="left:248.00px;top:728.36px;width:21.00px;height:24.37px;line-height:24.37px;font-size:11px;color:#ff9090;font-weight:normal;">11</div>
<div class="t" style="left:270.00px;top:728.36px;width:20.00px;height:24.37px;line-height:24.37px;font-size:11px;color:#ff9090;font-weight:normal;">10</div>
<div class="t" style="left:291.00px;top:728.36px;width:21.00px;height:24.37px;line-height:24.37px;font-size:11px;color:#ff9090;font-weight:normal;">5</div>
<div class="t" style="left:313.00px;top:728.36px;width:20.00px;height:24.37px;line-height:24.37px;font-size:11px;color:#ff9090;font-weight:normal;">4</div>
<div class="t" style="left:334.00px;top:728.36px;width:21.00px;height:24.37px;line-height:24.37px;font-size:11px;color:#ff9090;font-weight:normal;">1</div>
<div class="t" style="left:356.00px;top:728.36px;width:20.00px;height:24.37px;line-height:24.37px;font-size:11px;color:#ff9090;font-weight:normal;">7</div>
<div class="t" style="left:377.00px;top:728.36px;width:21.00px;height:24.37px;line-height:24.37px;font-size:11px;color:#ff9090;font-weight:normal;">14</div>
<div class="t" style="left:399.00px;top:728.36px;width:21.00px;height:24.37px;line-height:24.37px;font-size:11px;color:#c78e8e;font-weight:normal;">11</div>
<div class="t" style="left:421.00px;top:728.36px;width:20.00px;height:24.37px;line-height:24.37px;font-size:11px;color:#c78e8e;font-weight:normal;">14</div>
<div class="t" style="left:442.00px;top:728.36px;width:21.00px;height:24.37px;line-height:24.37px;font-size:11px;color:#c78e8e;font-weight:normal;">6</div>
<div class="t" style="left:464.00px;top:728.36px;width:20.00px;height:24.37px;line-height:24.37px;font-size:11px;color:#c78e8e;font-weight:normal;">10</div>
<div class="t b" style="left:485.00px;top:728.81px;width:21.00px;height:24.37px;line-height:24.37px;font-size:11px;color:#fff;font-weight:bold;">4</div>
<div class="t" style="left:507.00px;top:728.36px;width:20.00px;height:24.37px;line-height:24.37px;font-size:11px;color:#c78e8e;font-weight:normal;">5</div>
<div class="t" style="left:528.00px;top:728.36px;width:21.00px;height:24.37px;line-height:24.37px;font-size:11px;color:#c78e8e;font-weight:normal;">3</div>
<div class="t" style="left:550.00px;top:728.36px;width:21.00px;height:24.37px;line-height:24.37px;font-size:11px;color:#c78e8e;font-weight:normal;">12</div>
<div class="t" style="left:572.00px;top:728.36px;width:20.00px;height:24.37px;line-height:24.37px;font-size:11px;color:#c78e8e;font-weight:normal;">1</div>
<div class="t" style="left:593.00px;top:728.36px;width:21.00px;height:24.37px;line-height:24.37px;font-size:11px;color:#c78e8e;font-weight:normal;">9</div>
<div class="t b" style="left:615.00px;top:728.81px;width:20.00px;height:24.37px;line-height:24.37px;font-size:11px;color:#fff;font-weight:bold;">0</div>
<div class="t" style="left:636.00px;top:728.36px;width:21.00px;height:24.37px;line-height:24.37px;font-size:11px;color:#ff9090;font-weight:normal;">4</div>
<div class="t" style="left:658.00px;top:728.36px;width:20.00px;height:24.37px;line-height:24.37px;font-size:11px;color:#ff9090;font-weight:normal;">38</div>
<div class="t" style="left:679.00px;top:728.36px;width:21.00px;height:24.37px;line-height:24.37px;font-size:11px;color:#ff9090;font-weight:normal;">25</div>
<div class="t" style="left:701.00px;top:728.36px;width:20.00px;height:24.37px;line-height:24.37px;font-size:11px;color:#ff9090;font-weight:normal;">9</div>
<div class="t" style="left:722.00px;top:728.36px;width:21.00px;height:24.37px;line-height:24.37px;font-size:11px;color:#ff9090;font-weight:normal;">2</div>
<div class="t" style="left:744.00px;top:728.36px;width:21.00px;height:24.37px;line-height:24.37px;font-size:11px;color:#ff9090;font-weight:normal;">6</div>
<div class="t" style="left:766.00px;top:728.36px;width:20.00px;height:24.37px;line-height:24.37px;font-size:11px;color:#ff9090;font-weight:normal;">7</div>
<div class="t" style="left:787.00px;top:728.36px;width:21.00px;height:24.37px;line-height:24.37px;font-size:11px;color:#ff9090;font-weight:normal;">20</div>
<div class="t" style="left:809.00px;top:728.36px;width:20.00px;height:24.37px;line-height:24.37px;font-size:11px;color:#ff9090;font-weight:normal;">1</div>
<div class="t" style="left:0.00px;top:752.73px;width:56.50px;height:24.37px;line-height:24.37px;font-size:11.5px;color:#606060;font-weight:normal;">2025329</div>
<div class="t" style="left:56.50px;top:752.73px;width:42.00px;height:24.37px;line-height:24.37px;font-size:11.5px;color:#606060;font-weight:normal;">482</div>
<div class="t" style="left:98.50px;top:752.73px;width:42.00px;height:24.37px;line-height:24.37px;font-size:11.5px;color:#606060;font-weight:normal;">564</div>
<div class="t" style="left:140.50px;top:752.73px;width:42.00px;height:24.37px;line-height:24.37px;font-size:11.5px;color:#606060;font-weight:normal;">15</div>
<div class="t" style="left:183.00px;top:752.73px;width:21.00px;height:24.37px;line-height:24.37px;font-size:11px;color:#ff9090;font-weight:normal;">1</div>
<div class="t" style="left:205.00px;top:752.73px;width:20.00px;height:24.37px;line-height:24.37px;font-size:11px;color:#ff9090;font-weight:normal;">3</div>
<div class="t" style="left:226.00px;top:752.73px;width:21.00px;height:24.37px;line-height:24.37px;font-size:11px;color:#ff9090;font-weight:normal;">7</div>
<div class="t" style="left:248.00px;top:752.73px;width:21.00px;height:24.37px;line-height:24.37px;font-size:11px;color:#ff9090;font-weight:normal;">12</div>
<div class="t" style="left:270.00px;top:752.73px;width:20.00px;height:24.37px;line-height:24.37px;font-size:11px;color:#ff9090;font-weight:normal;">11</div>
<div class="t b" style="left:291.00px;top:753.18px;width:21.00px;height:24.37px;line-height:24.37px;font-size:11px;color:#fff;font-weight:bold;">5</div>
<div class="t" style="left:313.00px;top:752.73px;width:20.00px;height:24.37px;line-height:24.37px;font-size:11px;color:#ff9090;font-weight:normal;">5</div>
<div class="t" style="left:334.00px;top:752.73px;width:21.00px;height:24.37px;line-height:24.37px;font-size:11px;color:#ff9090;font-weight:normal;">2</div>
<div class="t" style="left:356.00px;top:752.73px;width:20.00px;height:24.37px;line-height:24.37px;font-size:11px;color:#ff9090;font-weight:normal;">8</div>
<div class="t" style="left:377.00px;top:752.73px;width:21.00px;height:24.37px;line-height:24.37px;font-size:11px;color:#ff9090;font-weight:normal;">15</div>
<div class="t" style="left:399.00px;top:752.73px;width:21.00px;height:24.37px;line-height:24.37px;font-size:11px;color:#c78e8e;font-weight:normal;">12</div>
<div class="t" style="left:421.00px;top:752.73px;width:20.00px;height:24.37px;line-height:24.37px;font-size:11px;color:#c78e8e;font-weight:normal;">15</div>
<div class="t" style="left:442.00px;top:752.73px;width:21.00px;height:24.37px;line-height:24.37px;font-size:11px;color:#c78e8e;font-weight:normal;">7</div>
<div class="t" style="left:464.00px;top:752.73px;width:20.00px;height:24.37px;line-height:24.37px;font-size:11px;color:#c78e8e;font-weight:normal;">11</div>
<div class="t" style="left:485.00px;top:752.73px;width:21.00px;height:24.37px;line-height:24.37px;font-size:11px;color:#c78e8e;font-weight:normal;">1</div>
<div class="t" style="left:507.00px;top:752.73px;width:20.00px;height:24.37px;line-height:24.37px;font-size:11px;color:#c78e8e;font-weight:normal;">6</div>
<div class="t b" style="left:528.00px;top:753.18px;width:21.00px;height:24.37px;line-height:24.37px;font-size:11px;color:#fff;font-weight:bold;">6</div>
<div class="t" style="left:550.00px;top:752.73px;width:21.00px;height:24.37px;line-height:24.37px;font-size:11px;color:#c78e8e;font-weight:normal;">13</div>
<div class="t" style="left:572.00px;top:752.73px;width:20.00px;height:24.37px;line-height:24.37px;font-size:11px;color:#c78e8e;font-weight:normal;">2</div>
<div class="t" style="left:593.00px;top:752.73px;width:21.00px;height:24.37px;line-height:24.37px;font-size:11px;color:#c78e8e;font-weight:normal;">10</div>
<div class="t" style="left:615.00px;top:752.73px;width:20.00px;height:24.37px;line-height:24.37px;font-size:11px;color:#ff9090;font-weight:normal;">1</div>
<div class="t" style="left:636.00px;top:752.73px;width:21.00px;height:24.37px;line-height:24.37px;font-size:11px;color:#ff9090;font-weight:normal;">5</div>
<div class="t" style="left:658.00px;top:752.73px;width:20.00px;height:24.37px;line-height:24.37px;font-size:11px;color:#ff9090;font-weight:normal;">39</div>
<div class="t" style="left:679.00px;top:752.73px;width:21.00px;height:24.37px;line-height:24.37px;font-size:11px;color:#ff9090;font-weight:normal;">26</div>
<div class="t b" style="left:701.00px;top:753.18px;width:20.00px;height:24.37px;line-height:24.37px;font-size:11px;color:#fff;font-weight:bold;">4</div>
<div class="t" style="left:722.00px;top:752.73px;width:21.00px;height:24.37px;line-height:24.37px;font-size:11px;color:#ff9090;font-weight:normal;">3</div>
<div class="t" style="left:744.00px;top:752.73px;width:21.00px;height:24.37px;line-height:24.37px;font-size:11px;color:#ff9090;font-weight:normal;">7</div>
<div class="t" style="left:766.00px;top:752.73px;width:20.00px;height:24.37px;line-height:24.37px;font-size:11px;color:#ff9090;font-weight:normal;">8</div>
<div class="t" style="left:787.00px;top:752.73px;width:21.00px;height:24.37px;line-height:24.37px;font-size:11px;color:#ff9090;font-weight:normal;">21</div>
<div class="t" style="left:809.00px;top:752.73px;width:20.00px;height:24.37px;line-height:24.37px;font-size:11px;color:#ff9090;font-weight:normal;">2</div>
<div class="t" style="left:0.00px;top:778.00px;width:56.50px;height:25.00px;line-height:25.00px;font-size:11px;color:#f4956a;font-weight:normal;">预选行1</div>
<div class="t" style="left:56.50px;top:778.00px;width:42.00px;height:25.00px;line-height:25.00px;font-size:11.5px;color:#f4956a;font-weight:normal;">-</div>
<div class="t" style="left:98.50px;top:778.00px;width:42.00px;height:25.00px;line-height:25.00px;font-size:11.5px;color:#f4956a;font-weight:normal;">-</div>
<div class="t" style="left:140.50px;top:778.00px;width:42.00px;height:25.00px;line-height:25.00px;font-size:11.5px;color:#f4956a;font-weight:normal;">-</div>
<div class="t b" style="left:183.00px;top:778.00px;width:21.00px;height:25.00px;line-height:25.00px;font-size:11px;color:#fff;font-weight:bold;">0</div>
<div class="t b" style="left:205.00px;top:778.00px;width:20.00px;height:25.00px;line-height:25.00px;font-size:11px;color:#fff;font-weight:bold;">1</div>
<div class="t b" style="left:226.00px;top:778.00px;width:21.00px;height:25.00px;line-height:25.00px;font-size:11px;color:#fff;font-weight:bold;">2</div>
<div class="t b" style="left:248.00px;top:778.00px;width:21.00px;height:25.00px;line-height:25.00px;font-size:11px;color:#fff;font-weight:bold;">3</div>
<div class="t" style="left:270.00px;top:778.00px;width:20.00px;height:25.00px;line-height:25.00px;font-size:11px;color:#f4a080;font-weight:normal;">4</div>
<div class="t" style="left:291.00px;top:778.00px;width:21.00px;height:25.00px;line-height:25.00px;font-size:11px;color:#f4a080;font-weight:normal;">5</div>
<div class="t" style="left:313.00px;top:778.00px;width:20.00px;height:25.00px;line-height:25.00px;font-size:11px;color:#f4a080;font-weight:normal;">6</div>
<div class="t b" style="left:334.00px;top:778.00px;width:21.00px;height:25.00px;line-height:25.00px;font-size:11px;color:#fff;font-weight:bold;">7</div>
<div class="t" style="left:356.00px;top:778.00px;width:20.00px;height:25.00px;line-height:25.00px;font-size:11px;color:#f4a080;font-weight:normal;">8</div>
<div class="t" style="left:377.00px;top:778.00px;width:21.00px;height:25.00px;line-height:25.00px;font-size:11px;color:#f4a080;font-weight:normal;">9</div>
<div class="t" style="left:399.00px;top:778.00px;width:21.00px;height:25.00px;line-height:25.00px;font-size:11px;color:#f4a080;font-weight:normal;">0</div>
<div class="t" style="left:421.00px;top:778.00px;width:20.00px;height:25.00px;line-height:25.00px;font-size:11px;color:#f4a080;font-weight:normal;">1</div>
<div class="t" style="left:442.00px;top:778.00px;width:21.00px;height:25.00px;line-height:25.00px;font-size:11px;color:#f4a080;font-weight:normal;">2</div>
<div class="t b" style="left:464.00px;top:778.00px;width:20.00px;height:25.00px;line-height:25.00px;font-size:11px;color:#fff;font-weight:bold;">3</div>
<div class="t b" style="left:485.00px;top:778.00px;width:21.00px;height:25.00px;line-height:25.00px;font-size:11px;color:#fff;font-weight:bold;">4</div>
<div class="t b" style="left:507.00px;top:778.00px;width:20.00px;height:25.00px;line-height:25.00px;font-size:11px;color:#fff;font-weight:bold;">5</div>
<div class="t" style="left:528.00px;top:778.00px;width:21.00px;height:25.00px;line-height:25.00px;font-size:11px;color:#f4a080;font-weight:normal;">6</div>
<div class="t b" style="left:550.00px;top:778.00px;width:21.00px;height:25.00px;line-height:25.00px;font-size:11px;color:#fff;font-weight:bold;">7</div>
<div class="t" style="left:572.00px;top:778.00px;width:20.00px;height:25.00px;line-height:25.00px;font-size:11px;color:#f4a080;font-weight:normal;">8</div>
<div class="t b" style="left:593.00px;top:778.00px;width:21.00px;height:25.00px;line-height:25.00px;font-size:11px;color:#fff;font-weight:bold;">9</div>
<div class="t b" style="left:615.00px;top:778.00px;width:20.00px;height:25.00px;line-height:25.00px;font-size:11px;color:#fff;font-weight:bold;">0</div>
<div class="t b" style="left:636.00px;top:778.00px;width:21.00px;height:25.00px;line-height:25.00px;font-size:11px;color:#fff;font-weight:bold;">1</div>
<div class="t" style="left:658.00px;top:778.00px;width:20.00px;height:25.00px;line-height:25.00px;font-size:11px;color:#f4a080;font-weight:normal;">2</div>
<div class="t" style="left:679.00px;top:778.00px;width:21.00px;height:25.00px;line-height:25.00px;font-size:11px;color:#f4a080;font-weight:normal;">3</div>
<div class="t" style="left:701.00px;top:778.00px;width:20.00px;height:25.00px;line-height:25.00px;font-size:11px;color:#f4a080;font-weight:normal;">4</div>
<div class="t" style="left:722.00px;top:778.00px;width:21.00px;height:25.00px;line-height:25.00px;font-size:11px;color:#f4a080;font-weight:normal;">5</div>
<div class="t" style="left:744.00px;top:778.00px;width:21.00px;height:25.00px;line-height:25.00px;font-size:11px;color:#f4a080;font-weight:normal;">6</div>
<div class="t b" style="left:766.00px;top:778.00px;width:20.00px;height:25.00px;line-height:25.00px;font-size:11px;color:#fff;font-weight:bold;">7</div>
<div class="t b" style="left:787.00px;top:778.00px;width:21.00px;height:25.00px;line-height:25.00px;font-size:11px;color:#fff;font-weight:bold;">8</div>
<div class="t b" style="left:809.00px;top:778.00px;width:20.00px;height:25.00px;line-height:25.00px;font-size:11px;color:#fff;font-weight:bold;">9</div>
<div style="position:absolute;left:5px;top:821px;width:13px;height:13px;border-radius:50%;background:#f39c7a"><div style="position:absolute;left:6px;top:3px;width:1.2px;height:7px;background:#fde8e0"></div><div style="position:absolute;left:3px;top:6px;width:7px;height:1.2px;background:#fde8e0"></div></div>
<div class="t" style="left:22.00px;top:818.00px;width:40.00px;height:20.00px;line-height:20.00px;font-size:11px;color:#333;font-weight:normal;text-align:left;">加1行</div>
</div>
<svg width="834" height="828" style="position:absolute;left:0;top:0">
<rect x="181.0" y="617.3" width="90.0" height="187.70000000000005" rx="2.8" ry="2.8" fill="none" stroke="#0096ff" stroke-width="5.0"/>
<rect x="459.5" y="657.5" width="70.0" height="156.20000000000005" rx="2.8" ry="2.8" fill="none" stroke="#0096ff" stroke-width="5.0"/>
<rect x="610.9" y="653.6" width="50.10000000000002" height="153.69999999999993" rx="2.8" ry="2.8" fill="none" stroke="#0096ff" stroke-width="5.0"/>
<rect x="760.9" y="640.3" width="68.5" height="169.70000000000005" rx="2.8" ry="2.8" fill="none" stroke="#0096ff" stroke-width="5.0"/>
</svg>
</body></html>
